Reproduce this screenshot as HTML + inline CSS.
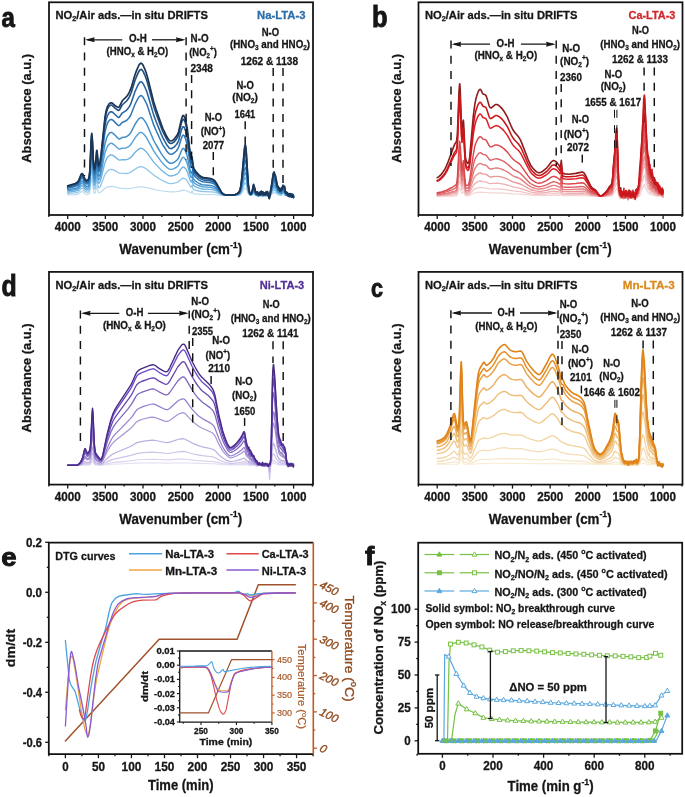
<!DOCTYPE html>
<html><head><meta charset="utf-8"><style>
html,body{margin:0;padding:0;background:#fff;}
svg{display:block;will-change:transform;}
text{font-family:"Liberation Sans", sans-serif;}
</style></head><body>
<svg width="685" height="797" viewBox="0 0 685 797" font-family="'Liberation Sans', sans-serif">
<rect width="685" height="797" fill="#ffffff"/>
<text transform="translate(1.50,26.72) scale(0.8795,1)" font-size="27.34" font-weight="bold" fill="#161616" stroke="#161616" stroke-width="0.9">a</text>
<text transform="translate(372.12,27.10) scale(0.8676,1)" font-size="29.39" font-weight="bold" fill="#161616" stroke="#161616" stroke-width="0.9">b</text>
<text transform="translate(1.50,295.96) scale(0.8690,1)" font-size="28.63" font-weight="bold" fill="#161616" stroke="#161616" stroke-width="0.9">d</text>
<text transform="translate(370.88,296.72) scale(0.8193,1)" font-size="26.37" font-weight="bold" fill="#161616" stroke="#161616" stroke-width="0.9">c</text>
<text transform="translate(1.30,565.96) scale(1.1029,1)" font-size="24.99" font-weight="bold" fill="#161616" stroke="#161616" stroke-width="0.9">e</text>
<text transform="translate(364.88,565.48) scale(1.0576,1)" font-size="26.52" font-weight="bold" fill="#161616" stroke="#161616" stroke-width="0.9">f</text>
<path d="M67.7,194.9 75.6,194.7 77.5,194.5 78.8,193.9 81.1,191.8 82.0,191.4 82.9,191.8 84.8,193.5 85.8,194.1 87.3,194.4 88.8,194.2 89.3,193.5 89.9,191.4 91.2,180.0 91.6,178.1 91.8,178.0 92.2,179.5 93.5,190.6 94.1,192.8 94.6,193.3 95.0,193.1 95.4,192.3 96.7,186.2 96.9,186.3 97.1,186.7 98.2,192.0 98.6,192.7 98.9,192.9 99.7,192.7 100.8,192.0 104.6,188.7 106.1,187.7 108.7,186.7 111.4,186.4 114.0,186.7 119.5,188.2 126.2,188.7 130.6,188.5 138.9,186.9 142.2,186.8 146.8,187.5 153.0,189.2 156.9,190.0 162.6,191.0 167.8,191.7 171.4,191.9 176.3,191.6 178.6,191.3 182.0,190.4 183.7,190.2 185.4,190.5 187.1,191.0 190.8,192.9 191.2,192.8 191.9,191.1 192.1,191.0 193.1,193.3 193.5,193.6 194.4,193.8 201.4,194.3 214.2,194.5 221.5,195.3 225.5,195.5 236.4,195.4 238.4,195.3 239.8,195.0 240.7,194.4 241.5,193.7 244.3,188.9 244.8,188.3 245.4,188.1 246.2,189.0 248.4,194.1 249.2,194.9 250.3,195.3 251.8,195.2 252.9,194.4 253.3,194.5 253.9,194.0 254.6,195.2 254.8,195.2 255.2,194.3 255.6,195.2 255.8,195.2 256.0,194.6 256.5,195.0 256.9,194.5 257.5,196.0 257.6,196.0 258.0,194.8 258.6,196.0 259.3,194.2 260.8,196.2 261.4,195.2 261.8,195.7 262.0,195.4 262.2,195.8 262.4,195.6 262.5,196.4 263.3,194.8 263.7,195.1 263.9,195.7 264.2,194.6 264.4,194.7 264.8,196.2 265.6,194.5 265.9,194.9 266.1,195.8 266.5,196.2 267.1,195.5 267.8,195.2 268.2,195.6 268.9,195.2 269.3,196.0 269.5,197.0 269.7,197.1 270.1,195.9 270.8,194.7 271.0,195.1 271.4,194.5 271.6,194.6 272.5,192.8 272.7,192.9 272.9,192.7 273.1,193.1 273.8,192.1 274.8,193.1 275.3,192.3 275.5,192.7 276.1,192.8 276.3,193.6 276.5,193.7 276.7,194.3 277.0,194.4 277.4,194.3 277.6,193.9 277.8,194.0 278.0,193.9 278.2,195.0 278.4,194.8 278.5,195.2 278.7,194.1 278.9,194.5 279.1,194.4 279.3,195.0 279.7,194.7 280.0,194.9 280.4,194.4 281.0,195.6 281.2,194.9 281.9,195.0 282.1,194.7 282.5,194.5 282.7,194.6 283.2,194.0 283.4,194.2 283.6,193.8 284.2,194.3 284.6,195.2 284.9,195.3 285.1,194.9 285.7,195.5 286.3,194.8 286.6,195.4 287.4,194.5 288.0,196.2 288.1,195.5 288.3,195.9 288.5,195.2 288.7,195.5 288.9,194.9 289.3,194.6 289.5,194.9 289.6,194.9 289.8,195.1 290.0,195.1 290.2,195.6 290.6,195.7 291.2,195.7 291.5,195.2 291.9,195.8 292.1,195.8 292.7,195.7 292.8,195.0 293.4,195.3 293.6,195.2" stroke="#bcdcf0" stroke-width="1.25" fill="none" stroke-linejoin="round" stroke-linecap="round" />
<path d="M67.7,193.4 75.2,192.9 77.3,192.5 78.6,191.7 81.1,188.6 82.0,188.0 82.9,188.6 84.8,191.0 85.8,191.8 86.5,192.0 87.5,192.1 88.2,191.9 88.8,191.6 89.3,190.5 89.9,187.4 91.2,171.4 91.6,168.8 91.8,168.6 92.2,170.6 93.5,185.6 94.1,188.4 94.6,189.1 95.0,188.8 95.4,187.6 96.7,179.1 96.9,179.1 97.1,179.7 98.2,186.7 98.8,187.7 99.3,187.5 100.3,186.3 101.2,184.4 104.2,176.3 105.4,173.8 107.2,171.3 109.3,169.8 111.0,169.3 112.7,169.5 114.6,170.4 118.3,172.8 119.5,173.2 126.6,173.5 128.5,173.1 130.4,172.4 136.6,168.2 139.0,167.0 140.9,166.7 143.2,167.2 146.4,168.9 153.7,175.1 161.3,180.0 164.5,181.6 168.6,183.3 170.3,183.6 172.0,183.6 174.1,183.2 176.5,182.6 178.6,181.6 182.2,178.4 183.1,178.1 184.2,178.3 185.7,179.2 187.2,180.8 189.7,185.5 190.8,187.1 191.2,187.1 191.9,185.2 192.1,185.2 192.9,188.3 193.5,189.3 195.5,190.2 199.1,191.0 202.7,191.5 210.8,191.8 214.0,192.1 216.0,192.7 221.3,194.7 224.3,195.3 233.5,195.4 237.9,195.0 239.6,194.4 240.9,193.1 242.0,190.8 244.3,184.1 244.8,183.2 245.4,182.9 245.8,183.4 246.2,184.4 247.7,190.6 248.4,193.0 249.2,194.3 250.3,195.1 251.1,195.1 251.8,194.8 252.7,193.9 252.9,193.2 253.1,193.5 253.5,193.4 253.7,192.6 254.1,193.0 254.3,193.8 254.6,193.8 254.8,193.3 255.4,193.5 256.0,195.2 256.3,194.9 256.5,194.3 257.1,195.3 257.3,195.0 257.8,195.5 258.4,194.7 258.6,195.5 258.8,195.4 259.0,195.9 259.3,194.4 259.5,194.4 259.9,195.2 260.3,194.5 260.7,195.2 260.8,195.0 261.0,195.0 261.2,194.5 261.4,194.8 261.8,194.5 262.4,196.8 262.7,195.2 262.9,195.6 263.1,195.4 263.3,195.7 264.2,194.7 265.0,195.7 265.2,195.6 265.6,195.8 265.9,195.4 266.1,194.6 266.3,194.5 266.9,195.9 267.1,195.4 267.2,195.5 267.4,195.0 267.6,195.2 267.8,195.0 268.0,195.9 268.6,194.6 268.9,196.2 269.3,195.8 269.5,195.1 270.1,195.3 270.4,193.7 270.6,193.6 271.0,194.1 271.2,193.9 271.4,194.2 273.1,189.6 273.6,190.3 273.8,190.2 274.0,190.7 274.6,189.3 275.0,189.6 275.5,191.1 275.7,191.0 276.1,191.3 276.3,192.1 276.8,191.7 277.4,192.9 277.6,193.1 277.8,192.6 278.0,192.6 278.2,193.6 278.4,193.8 278.7,193.2 279.5,194.3 280.0,193.2 280.6,194.8 281.2,195.3 281.6,194.0 282.7,192.6 283.2,193.3 283.6,192.7 284.0,193.0 284.4,193.8 284.6,193.3 284.8,194.0 284.9,194.0 285.1,194.4 285.5,193.9 285.7,194.4 286.3,195.0 286.4,194.9 286.6,195.4 286.8,195.3 287.4,195.9 287.6,195.9 288.1,194.9 288.7,194.6 288.9,195.3 289.3,195.6 289.8,195.4 290.0,195.5 290.6,194.8 291.0,195.7 291.3,195.0 291.9,195.9 292.1,195.3 292.5,196.9 292.8,195.4 293.0,195.3 293.4,196.1 293.6,195.9" stroke="#92c7ea" stroke-width="1.30625" fill="none" stroke-linejoin="round" stroke-linecap="round" />
<path d="M67.7,192.1 75.2,191.2 77.3,190.7 78.6,189.7 81.1,186.0 82.0,185.4 82.9,186.0 84.8,188.8 85.8,189.7 86.5,190.0 87.5,190.0 88.2,189.7 88.8,189.2 89.3,187.8 89.9,184.2 91.2,165.3 91.6,162.2 91.8,161.9 92.2,164.2 93.5,181.4 94.1,184.6 94.2,185.1 94.6,185.4 95.0,184.9 95.4,183.5 96.7,173.6 96.9,173.6 97.1,174.2 98.2,182.2 98.8,183.3 99.3,182.9 100.3,181.0 101.2,178.0 104.2,165.4 105.4,161.6 107.0,158.0 108.9,155.9 110.6,154.9 111.4,154.9 112.3,155.1 114.0,156.1 118.2,159.5 119.3,160.1 120.0,160.1 121.9,159.7 124.9,159.8 126.6,159.6 128.5,158.9 130.4,157.7 131.9,156.2 134.7,152.7 136.4,151.0 139.0,148.9 140.0,148.4 140.9,148.3 142.1,148.5 143.2,149.1 146.4,151.9 153.7,162.1 161.3,170.1 164.5,172.8 166.9,174.5 168.6,175.5 170.3,176.0 172.0,175.9 174.1,175.4 176.5,174.3 177.6,173.6 178.6,172.7 181.2,168.6 182.2,167.5 183.1,166.9 184.2,167.3 185.7,168.8 187.2,171.5 189.7,179.1 190.8,181.7 191.2,182.0 191.9,180.1 192.1,180.2 192.9,184.1 193.5,185.4 195.5,186.8 199.1,188.2 202.7,189.0 210.8,189.4 214.0,190.0 216.0,190.9 221.3,194.2 224.3,195.1 226.2,195.3 233.4,195.3 237.3,194.8 238.6,194.4 239.6,193.9 240.3,193.0 240.9,192.0 242.0,188.7 244.3,179.4 244.8,178.1 245.4,177.8 245.8,178.4 246.2,179.8 247.7,188.5 248.4,191.9 249.2,193.8 249.7,194.5 250.3,194.9 251.1,194.9 251.8,194.5 252.7,193.1 253.3,191.3 253.5,191.7 253.7,191.4 253.9,191.6 254.1,191.3 254.8,192.7 255.4,192.8 255.8,193.2 256.1,194.5 256.3,194.6 256.5,194.3 257.1,195.7 257.3,195.3 257.5,195.5 257.6,194.8 257.8,195.1 258.2,194.2 258.8,196.1 259.2,195.2 259.3,195.6 259.5,194.8 259.7,195.2 259.9,194.2 260.1,195.3 260.5,195.6 260.8,194.2 261.0,194.8 261.2,194.4 261.6,194.3 262.0,195.5 262.5,194.3 262.7,195.3 262.9,195.1 263.1,195.3 263.3,194.4 263.7,194.7 264.0,194.7 264.2,194.5 264.4,194.9 264.6,194.7 264.8,194.9 265.0,194.6 265.4,195.9 265.9,193.6 266.7,194.5 266.9,194.4 267.1,194.6 267.2,193.9 267.4,194.3 267.6,194.1 267.8,194.7 268.2,194.9 268.8,196.5 269.1,195.3 269.3,195.2 269.7,195.2 270.1,194.2 270.6,193.5 271.0,192.3 271.6,191.5 271.8,190.7 272.0,190.7 272.1,190.2 272.3,190.2 272.5,188.9 273.5,186.5 274.0,188.1 274.2,187.5 274.6,187.4 274.8,186.6 275.0,186.8 275.3,188.4 275.7,188.0 276.3,190.0 276.5,189.5 277.0,192.2 278.2,191.8 278.4,191.9 278.5,191.6 279.1,193.4 279.3,192.4 279.5,192.4 279.9,194.0 280.2,193.0 280.6,192.7 281.2,193.0 281.6,193.5 282.1,192.9 282.3,193.1 282.7,191.7 283.1,193.1 283.6,191.7 284.2,193.1 284.4,193.3 284.6,193.1 284.8,193.3 284.9,193.3 285.5,194.9 285.9,194.1 286.3,194.6 286.8,194.7 287.6,194.4 287.8,193.9 288.0,194.7 288.1,194.2 288.3,194.9 288.9,194.8 289.1,195.2 289.3,195.2 289.6,194.1 290.4,196.2 290.6,195.7 290.8,196.1 291.0,195.5 291.2,195.5 291.3,194.5 291.9,195.5 292.1,195.0 292.5,195.5 293.6,196.3" stroke="#6fb4e2" stroke-width="1.3625" fill="none" stroke-linejoin="round" stroke-linecap="round" />
<path d="M67.7,190.9 75.2,189.8 77.3,189.1 78.1,188.6 78.8,187.7 80.9,184.0 81.8,183.1 82.2,183.1 82.8,183.5 84.8,186.9 86.0,188.0 86.7,188.2 87.5,188.1 88.2,187.8 88.8,187.2 89.3,185.6 89.9,181.4 91.2,160.0 91.6,156.4 91.8,156.1 92.2,158.5 93.5,177.7 94.1,181.3 94.2,181.8 94.6,182.2 95.0,181.7 95.4,180.0 96.7,168.8 96.9,168.8 97.1,169.5 98.0,177.5 98.4,179.2 98.6,179.5 98.9,179.6 99.9,177.8 101.6,171.0 104.2,156.4 105.2,152.2 106.9,147.5 107.8,145.8 108.7,144.6 110.4,143.4 111.2,143.2 112.1,143.4 113.8,144.6 118.2,148.6 119.3,149.2 120.0,149.1 121.9,148.2 125.1,148.0 126.6,147.7 128.5,146.7 130.4,145.0 131.9,143.0 134.7,138.3 136.4,136.0 139.0,133.2 140.0,132.6 140.9,132.4 142.1,132.7 143.2,133.5 146.4,137.3 153.7,150.9 156.2,154.6 161.3,161.6 164.5,165.2 166.9,167.5 168.6,168.8 170.3,169.4 172.0,169.4 174.1,168.7 176.5,167.2 177.6,166.3 178.6,165.1 181.2,159.6 182.2,158.0 183.1,157.3 183.7,157.4 184.2,157.8 185.7,159.9 187.2,163.4 189.7,173.5 190.8,177.1 191.2,177.5 191.9,175.7 192.1,175.8 192.9,180.4 193.5,182.0 195.5,183.9 199.1,185.8 202.7,186.8 210.8,187.4 214.0,188.2 216.0,189.3 221.3,193.8 222.6,194.5 224.3,195.0 226.2,195.3 233.4,195.2 237.1,194.6 238.4,194.2 239.4,193.5 240.1,192.6 240.9,191.0 242.0,186.7 244.3,174.8 244.8,173.1 245.2,172.7 245.4,172.7 245.8,173.5 246.2,175.3 247.7,186.5 248.4,190.8 249.2,193.3 249.7,194.2 250.3,194.7 251.2,194.7 252.0,193.9 252.7,192.4 252.9,190.8 253.1,191.3 253.3,191.3 253.5,192.2 253.9,190.9 254.1,190.8 254.4,192.6 254.6,192.9 254.8,192.5 255.0,192.5 255.4,194.1 255.8,194.9 256.1,195.1 256.3,194.7 256.5,195.1 256.7,195.0 256.9,195.2 257.5,194.1 257.8,194.8 258.2,194.5 258.4,194.0 258.6,194.6 258.8,194.4 259.0,194.8 259.3,193.8 259.7,194.2 259.9,195.1 260.3,195.0 260.5,195.4 260.8,195.2 261.0,194.3 261.4,194.2 261.6,193.9 262.0,194.1 262.5,195.9 262.9,195.3 263.1,194.5 263.3,194.6 263.7,196.0 264.8,195.1 265.4,193.6 265.7,194.2 265.9,195.1 266.5,192.9 266.7,193.0 267.4,194.3 268.0,194.8 268.2,195.5 268.8,196.3 269.1,196.0 269.3,195.3 269.9,194.6 270.3,193.2 270.4,193.3 270.8,194.5 271.4,190.8 272.1,189.0 272.5,189.0 273.3,184.8 273.6,183.9 274.2,185.6 274.6,185.4 275.2,186.9 275.3,186.8 275.9,188.7 276.3,189.0 276.8,190.4 277.0,190.5 277.4,191.1 277.6,192.3 277.8,191.8 278.0,192.5 278.2,191.9 278.4,192.7 278.5,191.9 278.9,191.7 279.1,192.1 279.3,191.8 279.7,192.0 280.2,193.3 280.4,193.3 280.8,192.3 281.4,193.5 281.7,192.6 282.3,193.4 282.5,192.2 282.9,191.6 283.4,191.7 284.0,191.0 284.9,193.9 285.1,193.9 285.3,194.9 285.5,194.6 285.7,195.1 285.9,195.1 286.1,194.9 286.3,195.1 286.4,194.3 286.6,194.6 286.8,194.3 287.0,195.0 287.2,194.4 287.8,194.3 288.0,193.7 288.1,193.6 288.3,193.7 288.5,194.4 288.7,194.2 288.9,194.6 289.1,194.3 289.5,195.1 289.8,193.9 290.2,194.4 290.4,195.4 290.6,195.3 290.8,195.7 291.2,195.7 291.3,195.3 291.7,195.4 292.1,196.3 292.8,195.7 293.6,195.9" stroke="#56a2d8" stroke-width="1.41875" fill="none" stroke-linejoin="round" stroke-linecap="round" />
<path d="M67.7,189.8 75.2,188.4 77.3,187.7 78.6,186.4 80.9,181.9 81.8,180.9 82.2,180.9 82.8,181.3 84.8,185.1 86.0,186.3 86.7,186.5 87.5,186.4 88.2,186.0 88.8,185.3 89.3,183.4 89.9,178.8 91.2,154.8 91.6,150.8 91.8,150.4 92.2,153.1 93.3,172.0 94.1,178.3 94.2,178.8 94.6,179.2 95.2,177.9 96.7,164.3 96.9,164.2 97.1,165.1 98.2,175.0 98.6,176.1 98.9,176.1 99.9,174.0 101.0,169.0 104.2,148.1 105.2,143.0 106.7,137.8 107.4,136.1 108.4,134.5 109.3,133.4 110.2,132.7 111.0,132.5 111.9,132.6 113.6,133.8 118.0,138.3 118.7,138.9 119.3,139.1 120.0,138.8 121.9,137.6 125.3,137.0 126.8,136.5 128.9,134.9 130.8,132.7 134.9,124.5 137.9,119.9 139.6,118.1 140.9,117.6 142.1,117.9 143.2,118.9 144.7,120.9 146.4,123.6 147.7,126.3 153.7,140.5 156.2,145.0 161.3,153.6 164.5,158.1 166.9,160.9 168.6,162.5 170.3,163.3 172.0,163.2 174.1,162.4 176.5,160.5 177.6,159.4 178.6,158.0 181.2,151.2 182.2,149.2 183.1,148.4 183.7,148.5 184.2,148.9 185.7,151.5 187.2,155.9 189.7,168.4 190.8,172.8 191.2,173.4 191.9,171.5 192.1,171.7 192.9,176.9 193.5,178.8 194.4,180.1 195.5,181.2 199.1,183.5 201.0,184.3 202.7,184.8 210.8,185.5 214.0,186.4 216.0,187.9 221.3,193.4 222.6,194.3 224.3,194.9 226.2,195.2 233.4,195.2 235.1,195.0 237.1,194.4 238.4,193.9 239.4,193.1 240.1,191.9 240.9,189.9 242.0,184.8 244.3,170.2 244.8,168.1 245.2,167.6 245.4,167.6 245.8,168.6 246.2,170.8 247.7,184.5 248.4,189.7 249.2,192.7 249.7,193.9 250.3,194.5 251.1,194.6 251.6,194.2 252.7,191.7 252.9,192.1 253.3,190.5 253.7,189.7 253.9,189.6 254.4,191.1 254.8,191.3 255.2,192.6 255.4,192.4 255.8,192.5 256.0,194.2 256.1,194.3 256.3,195.0 256.9,192.9 257.1,192.7 257.5,194.8 257.6,194.7 257.8,193.5 258.0,193.5 258.4,194.5 258.6,194.5 258.8,195.1 259.2,194.9 259.3,194.1 259.5,194.8 259.7,193.7 259.9,194.3 260.1,193.5 260.3,194.6 260.5,194.0 260.8,195.0 261.0,194.4 261.2,194.4 261.4,193.4 261.6,193.6 262.0,193.0 262.2,193.4 262.4,193.2 262.5,193.5 262.7,193.0 263.3,194.4 263.5,194.4 263.9,193.6 264.4,194.6 265.0,194.9 265.4,194.1 265.9,194.9 266.3,193.8 266.7,194.2 266.9,194.2 267.4,193.3 267.6,194.3 268.2,195.0 268.4,194.7 268.6,195.1 268.8,194.9 269.1,196.2 269.5,195.9 269.9,195.1 270.3,193.0 270.4,192.7 270.6,193.3 271.2,191.3 271.8,188.0 272.3,187.2 272.9,183.0 273.8,183.0 274.2,181.4 274.4,181.5 274.8,183.2 275.2,182.5 275.7,185.9 275.9,185.4 276.3,187.0 276.5,187.1 276.7,186.4 277.0,187.4 277.2,188.8 277.4,189.2 277.6,188.7 277.8,189.4 278.0,189.3 278.2,191.3 278.5,191.3 278.7,191.0 279.1,192.3 279.3,192.5 279.9,190.9 280.2,192.2 280.4,192.2 280.8,191.4 281.2,192.3 281.4,192.2 281.7,191.6 281.9,191.6 282.1,191.2 282.5,191.0 282.7,191.1 282.9,191.8 283.4,189.5 283.6,190.9 284.2,191.2 284.6,192.0 284.8,190.8 285.3,193.3 285.5,193.1 285.7,193.2 286.1,193.8 286.3,193.7 286.4,194.1 286.6,193.9 286.8,194.3 287.0,194.1 287.6,194.6 287.8,194.3 288.3,195.6 288.9,194.6 289.1,194.8 289.6,194.9 290.0,195.5 290.4,194.2 290.6,194.1 290.8,194.1 291.0,195.0 291.2,194.8 291.3,195.0 291.7,195.9 291.9,195.9 292.3,195.0 292.5,195.3 292.7,194.5 292.8,195.2 293.0,195.0 293.2,195.9 293.6,196.2" stroke="#3f8dc8" stroke-width="1.475" fill="none" stroke-linejoin="round" stroke-linecap="round" />
<path d="M67.7,188.3 75.2,186.4 77.3,185.5 78.6,184.0 80.9,179.1 81.8,177.9 82.2,177.9 82.8,178.4 84.8,182.6 85.8,183.7 86.5,184.0 87.3,183.9 88.0,183.5 88.6,182.8 89.3,180.4 89.9,175.1 91.2,148.5 91.6,144.0 91.8,143.6 92.4,149.4 93.3,167.1 94.1,173.9 94.2,174.5 94.6,174.9 95.2,173.5 96.7,158.6 96.9,158.5 97.1,159.4 98.2,170.4 98.6,171.6 98.9,171.6 99.9,169.1 101.0,163.0 104.2,137.5 105.2,131.4 106.5,125.9 107.8,122.6 108.7,121.2 109.7,120.1 110.6,119.5 111.6,119.5 113.1,120.4 117.8,125.1 118.5,125.5 119.1,125.6 119.8,125.2 121.4,123.2 122.1,122.5 125.5,121.0 126.8,120.2 128.9,118.0 130.8,115.0 134.9,104.5 137.9,98.6 139.6,96.3 140.4,95.8 141.1,95.6 142.2,96.2 143.4,97.6 146.4,103.3 147.7,106.8 153.7,124.9 156.2,130.8 161.3,141.8 162.8,144.8 164.5,147.5 166.9,151.2 168.6,153.2 169.5,153.9 170.3,154.2 171.0,154.3 172.0,154.2 174.1,153.0 176.5,150.7 177.6,149.2 178.6,147.4 181.2,138.7 182.2,136.2 182.7,135.4 183.1,135.1 183.7,135.2 184.2,135.8 185.7,139.1 187.2,144.7 189.7,160.7 191.0,167.0 191.2,167.3 191.4,167.2 191.9,165.6 192.1,165.9 193.1,173.0 194.0,175.2 195.9,177.5 199.1,180.1 201.0,181.1 202.7,181.8 210.8,182.7 212.5,183.2 214.0,183.9 215.1,184.7 216.0,185.7 221.3,192.8 222.6,193.9 224.3,194.8 226.2,195.1 233.4,195.1 235.1,194.8 237.1,194.1 238.4,193.4 239.4,192.4 240.1,190.9 240.9,188.4 242.0,181.8 244.3,163.3 244.8,160.7 245.2,160.0 245.4,160.0 245.8,161.2 246.2,164.0 247.7,181.4 248.4,188.1 249.2,192.0 249.7,193.5 250.3,194.2 251.1,194.3 251.6,193.8 252.4,192.0 253.1,189.0 253.3,188.6 253.7,189.5 254.3,188.0 255.0,191.3 255.2,193.1 255.6,194.2 256.0,194.1 256.1,193.8 256.3,194.5 256.7,194.8 257.3,192.8 257.5,193.9 257.8,193.9 258.0,193.0 258.4,193.8 258.6,193.9 258.8,193.7 259.2,194.3 259.3,193.3 259.7,192.5 260.1,195.0 260.3,195.0 260.8,191.7 261.4,194.8 261.6,194.6 261.8,194.8 262.4,191.9 262.5,192.0 263.1,194.7 263.3,194.1 263.5,194.3 263.7,193.5 264.4,194.4 264.8,193.0 265.0,193.2 265.2,193.1 265.7,193.9 265.9,193.7 266.3,194.4 266.5,194.4 266.7,193.9 266.9,193.9 267.2,194.6 267.4,193.6 267.6,193.7 267.8,193.1 268.4,195.2 268.6,195.6 268.8,195.4 268.9,195.6 269.3,196.7 270.3,193.7 270.8,190.1 271.0,190.7 271.4,189.2 272.7,181.5 273.3,180.4 273.8,177.5 274.4,180.6 275.0,180.2 275.2,180.7 275.5,182.9 275.7,183.0 275.9,183.8 276.1,185.8 276.5,186.6 276.7,185.4 276.8,186.0 277.0,185.9 277.2,186.6 277.4,186.8 277.6,188.5 278.0,189.9 278.5,187.9 279.1,189.7 279.3,189.5 279.5,189.9 280.0,191.7 280.4,191.3 280.6,190.3 280.8,192.0 281.0,191.9 281.2,192.7 281.4,191.9 281.7,191.6 282.3,189.3 283.1,188.5 283.2,188.4 283.4,188.6 283.6,188.5 284.8,192.0 285.3,190.9 286.1,193.6 286.3,193.5 286.4,193.9 286.6,193.3 287.2,193.9 287.6,193.8 288.0,194.8 288.1,194.3 288.3,194.5 288.5,194.4 288.7,194.9 288.9,194.4 289.3,195.4 289.5,195.4 289.6,195.8 290.0,194.8 290.4,194.4 290.6,195.2 290.8,195.1 291.5,197.2 291.9,196.1 292.5,195.5 292.8,195.8 293.4,197.7 293.6,197.3" stroke="#3278b5" stroke-width="1.53125" fill="none" stroke-linejoin="round" stroke-linecap="round" />
<path d="M67.7,187.2 75.2,185.2 77.3,184.1 78.6,182.5 80.9,177.3 81.8,176.1 82.2,176.1 82.8,176.6 84.8,181.0 85.8,182.1 86.5,182.5 87.3,182.3 88.0,181.8 88.6,181.1 89.3,178.4 89.9,172.8 91.2,144.6 91.6,139.8 91.8,139.3 92.4,145.3 93.3,164.0 94.1,171.2 94.2,171.9 94.6,172.3 95.2,170.7 96.7,155.0 96.9,154.9 97.1,155.9 98.2,167.5 98.6,168.8 98.8,168.9 98.9,168.8 99.9,166.1 101.0,159.4 105.0,125.5 106.1,119.8 107.6,115.4 108.6,113.7 109.5,112.5 110.4,111.9 111.4,111.7 112.1,112.0 112.9,112.5 117.4,116.8 118.3,117.4 118.9,117.5 119.8,116.7 121.4,114.1 122.1,113.2 125.7,110.8 126.8,109.9 128.9,107.3 130.8,103.9 134.9,91.8 137.7,85.5 139.6,82.5 140.4,81.9 141.1,81.7 142.2,82.4 143.4,84.0 146.4,90.5 147.7,94.5 153.7,115.1 156.2,121.8 161.3,134.4 162.8,137.7 164.5,140.9 166.9,145.0 168.6,147.3 169.5,148.1 170.3,148.5 171.0,148.6 172.0,148.4 174.1,147.1 176.5,144.5 177.6,142.8 178.6,140.7 181.2,130.8 182.2,128.0 182.7,127.0 183.1,126.7 183.7,126.8 184.2,127.5 185.7,131.3 187.2,137.6 189.7,155.9 191.0,163.1 191.2,163.4 191.4,163.4 191.9,161.8 192.1,162.2 193.1,169.9 194.0,172.3 195.9,175.0 199.1,177.9 201.0,179.1 202.7,179.8 204.6,180.2 210.8,180.9 212.5,181.5 214.0,182.3 215.1,183.2 216.0,184.4 221.3,192.5 222.6,193.7 224.3,194.7 226.2,195.1 233.5,195.0 235.4,194.6 237.5,193.7 238.6,192.9 239.6,191.6 240.3,189.5 240.9,187.1 242.0,179.0 244.3,156.5 244.8,153.3 245.2,152.5 245.4,152.5 245.8,154.0 246.2,157.4 247.7,178.5 248.4,186.7 249.2,191.3 249.7,193.1 250.3,194.0 250.7,194.2 251.1,194.2 251.6,193.5 252.7,189.8 253.3,188.8 253.5,188.0 253.9,187.7 254.3,188.5 254.4,188.1 255.0,191.7 255.2,191.7 255.4,191.2 256.0,193.7 256.1,193.0 256.3,193.9 256.7,194.5 256.9,192.5 257.1,193.5 257.3,193.0 257.5,194.5 257.6,194.3 258.0,195.1 258.2,195.1 258.4,195.8 258.6,194.5 259.0,193.5 259.3,193.2 259.5,192.4 259.7,192.9 259.9,192.6 260.1,193.6 260.3,193.1 260.5,193.2 260.8,192.6 261.4,193.3 261.8,192.7 262.0,192.6 262.2,193.0 262.4,193.1 262.5,192.9 262.7,192.1 262.9,192.1 263.1,192.4 263.3,192.1 263.9,195.0 264.4,193.1 264.6,193.8 264.8,193.7 265.0,194.2 265.6,192.2 265.9,194.7 266.5,193.9 266.7,194.3 267.2,193.3 267.4,193.8 267.6,192.9 268.6,195.5 268.8,197.6 269.1,198.0 269.9,193.7 270.4,192.4 271.0,188.6 271.8,185.8 272.7,179.1 273.5,175.3 273.8,175.4 274.0,175.8 274.2,175.1 274.4,175.8 274.6,175.2 274.8,175.2 275.7,181.6 275.9,181.1 276.5,184.0 276.8,184.8 277.2,186.3 277.4,186.3 277.8,187.0 278.4,189.6 278.9,189.7 279.1,190.0 279.3,189.5 279.5,190.3 279.7,189.9 279.9,190.6 280.0,190.1 280.2,191.2 280.4,191.0 280.6,191.5 280.8,190.5 281.0,190.7 281.2,190.4 281.4,190.5 281.6,189.5 281.7,190.3 282.1,190.5 282.5,187.2 282.7,187.4 282.9,187.0 283.1,187.7 283.2,187.4 283.4,187.7 283.8,187.5 284.4,187.8 284.9,190.2 285.1,190.2 285.5,191.5 285.7,193.0 285.9,192.9 286.1,193.4 286.3,193.3 286.4,195.2 286.6,194.7 286.8,195.1 287.4,193.8 288.0,195.2 288.5,194.1 289.1,196.0 289.3,195.3 289.5,195.3 289.8,196.9 290.2,197.0 291.0,194.4 291.5,196.9 291.9,196.5 292.7,194.0 292.8,195.0 293.0,195.2 293.4,197.6 293.6,197.6" stroke="#2a64a0" stroke-width="1.5875" fill="none" stroke-linejoin="round" stroke-linecap="round" />
<path d="M67.7,186.4 75.2,184.0 77.3,182.9 78.6,181.2 80.9,175.7 81.8,174.4 82.2,174.4 82.8,175.0 84.8,179.5 85.8,180.8 86.5,181.1 87.3,180.9 88.0,180.4 88.6,179.6 89.3,176.7 89.9,170.8 91.2,141.2 91.6,136.2 91.8,135.7 92.4,141.9 93.3,161.3 94.1,168.8 94.2,169.5 94.6,169.9 95.2,168.3 96.7,151.9 96.9,151.9 97.1,152.9 98.2,165.0 98.6,166.4 98.8,166.5 98.9,166.4 99.9,163.5 101.0,156.3 105.0,119.5 106.1,113.4 107.4,109.2 108.4,107.4 109.3,106.1 110.2,105.3 111.2,105.1 112.5,105.6 115.3,108.3 117.6,110.1 118.7,110.4 119.5,109.9 122.1,105.0 126.6,101.0 128.1,99.1 129.4,96.9 131.3,92.5 134.7,81.2 136.6,76.3 139.0,71.1 140.0,69.9 140.9,69.4 141.5,69.6 142.1,70.0 143.2,71.6 144.7,74.8 146.4,79.2 147.7,83.6 153.7,106.4 156.2,113.8 161.3,127.7 162.8,131.5 164.5,134.9 166.9,139.6 168.6,142.1 169.5,143.0 170.3,143.4 171.0,143.5 172.0,143.3 174.1,141.9 176.5,138.9 177.6,137.1 178.6,134.8 181.2,123.8 182.2,120.6 182.7,119.6 183.1,119.3 183.7,119.4 184.2,120.1 185.0,121.9 185.7,124.4 187.2,131.4 189.7,151.6 191.0,159.6 191.2,160.0 191.4,160.0 191.9,158.6 192.1,159.0 193.1,167.1 194.0,169.8 195.9,172.8 199.1,176.0 201.0,177.4 202.7,178.1 204.6,178.6 210.8,179.3 212.5,179.9 214.0,180.9 215.1,181.9 216.0,183.2 221.3,192.1 222.6,193.5 224.3,194.6 226.2,195.0 233.5,195.0 235.4,194.5 237.5,193.5 238.6,192.6 239.6,191.1 240.3,188.8 240.9,186.1 242.0,177.1 244.3,152.0 244.8,148.4 245.2,147.5 245.4,147.5 245.8,149.2 246.2,152.9 247.7,176.6 248.4,185.6 249.2,190.8 249.7,192.8 250.3,193.8 250.7,194.1 251.1,194.0 251.8,192.8 252.7,189.1 252.9,189.5 253.5,185.9 253.7,185.6 254.3,188.4 254.4,188.4 254.6,189.0 255.2,191.7 255.4,191.7 255.6,192.9 256.0,193.8 256.3,192.2 256.9,194.5 257.1,193.8 257.3,193.6 257.6,194.0 257.8,193.6 258.4,195.6 259.0,193.1 259.2,192.9 259.3,193.6 259.7,194.0 259.9,193.6 260.1,193.7 260.5,193.4 260.8,194.6 261.4,193.2 261.8,194.3 262.0,194.3 262.2,193.8 262.5,193.8 262.7,193.2 263.3,193.9 263.7,192.9 264.2,194.5 264.6,194.1 264.8,194.5 265.2,194.8 265.4,193.1 265.7,192.2 265.9,192.2 266.3,193.4 266.5,194.8 266.7,193.3 266.9,193.4 267.1,192.6 267.2,193.0 267.4,192.8 267.6,193.1 268.4,194.7 268.9,197.6 269.1,196.7 269.3,197.7 269.5,196.1 269.7,196.5 270.3,192.3 270.6,190.9 271.2,186.6 272.0,183.8 272.7,177.6 272.9,177.5 273.3,176.1 273.6,172.9 274.0,172.1 274.6,175.0 275.2,175.1 275.3,175.8 275.7,178.8 276.3,180.3 276.7,184.0 277.4,186.1 278.0,189.3 278.2,189.2 278.4,188.3 278.5,188.2 278.9,190.0 279.5,188.2 280.0,189.8 280.4,189.5 280.8,190.9 281.4,189.7 281.7,187.8 282.1,188.8 282.3,188.3 282.9,185.1 283.1,185.3 283.2,187.0 283.4,187.0 283.8,186.0 284.2,186.3 285.5,192.7 285.9,192.0 286.1,192.2 286.4,193.4 286.6,193.3 287.0,193.9 287.2,195.1 287.4,194.9 287.6,195.5 287.8,194.8 288.0,195.5 288.5,194.1 288.9,195.7 289.1,195.8 289.3,195.1 289.6,194.7 289.8,194.7 290.0,195.3 290.2,195.3 290.6,193.8 291.2,195.9 291.5,195.2 291.9,195.8 292.1,195.2 292.3,195.3 292.7,196.7 293.2,194.8 293.6,196.0" stroke="#21507c" stroke-width="1.64375" fill="none" stroke-linejoin="round" stroke-linecap="round" />
<path d="M67.7,185.9 75.2,183.5 77.3,182.3 78.6,180.5 80.9,174.9 81.4,173.9 81.8,173.5 82.2,173.5 82.8,174.1 84.8,178.8 85.8,180.1 86.5,180.4 87.3,180.2 88.0,179.6 88.6,178.8 89.3,175.8 89.9,169.8 91.2,139.2 91.6,134.0 91.8,133.4 92.4,139.9 93.3,159.9 94.1,167.6 94.2,168.3 94.6,168.8 95.2,167.1 96.7,150.3 96.9,150.3 97.1,151.3 98.2,163.9 98.6,165.3 98.8,165.5 99.1,165.0 100.1,161.4 101.0,155.0 105.0,117.1 106.1,110.9 107.2,107.2 108.0,105.6 109.1,103.9 110.1,103.1 111.0,102.7 112.3,103.1 115.1,105.7 117.4,107.1 118.5,107.4 119.3,106.9 122.1,101.1 123.0,100.0 126.8,96.3 128.1,94.4 129.4,92.1 131.3,87.4 134.5,76.2 136.4,70.9 139.0,65.0 140.0,63.7 140.9,63.2 141.5,63.3 142.1,63.8 143.2,65.5 144.7,68.8 146.4,73.4 147.7,78.0 153.7,102.0 156.2,109.8 161.3,124.4 162.8,128.3 164.5,132.0 166.9,136.8 168.6,139.5 169.5,140.4 170.3,140.8 171.0,141.0 172.0,140.7 172.9,140.2 174.1,139.2 176.5,136.1 177.6,134.2 178.6,131.8 181.2,120.2 182.2,117.0 182.7,115.8 183.1,115.5 183.7,115.6 184.2,116.4 185.0,118.2 185.7,120.8 187.2,128.2 189.7,149.5 191.0,157.8 191.2,158.3 191.4,158.3 191.9,156.8 192.1,157.3 193.1,165.7 194.0,168.6 195.9,171.7 199.1,175.1 201.0,176.5 202.7,177.3 204.6,177.7 210.8,178.5 212.5,179.2 214.0,180.1 215.1,181.2 216.0,182.5 221.3,192.0 222.6,193.4 224.3,194.5 226.2,195.0 233.5,195.0 235.4,194.5 237.5,193.5 238.6,192.5 239.6,190.9 240.3,188.5 240.9,185.6 242.0,176.2 244.3,149.7 244.8,145.9 245.2,144.9 245.4,145.0 245.8,146.7 246.2,150.7 247.7,175.6 248.4,185.1 249.2,190.6 249.7,192.7 250.3,193.7 250.7,194.0 251.1,193.9 251.8,192.7 252.7,188.8 253.1,185.6 253.5,184.4 253.7,184.5 254.3,186.9 254.6,187.3 255.4,191.5 255.6,191.4 255.8,192.4 256.0,192.1 256.1,192.2 256.3,193.0 256.7,193.1 256.9,192.1 257.1,192.9 257.3,192.3 257.5,192.6 257.6,191.8 257.8,192.8 258.4,194.2 258.6,193.9 258.8,194.1 259.0,193.4 259.3,193.7 259.7,195.1 259.9,195.0 260.3,192.2 260.5,191.8 260.7,192.2 260.8,193.8 261.4,191.2 261.6,193.1 262.0,194.4 262.4,192.5 262.7,192.0 262.9,194.8 263.3,194.4 263.5,193.1 263.9,194.3 264.2,193.3 264.4,193.7 264.8,193.0 265.4,194.9 265.9,192.3 266.1,192.2 266.3,193.5 266.5,192.5 266.7,192.9 266.9,191.6 267.1,193.1 267.2,192.2 267.4,193.3 267.6,191.7 268.6,197.1 268.9,198.1 269.1,197.7 269.3,198.7 270.1,194.9 270.6,190.5 271.2,188.1 273.1,174.4 273.3,173.6 273.6,172.9 273.8,173.1 274.0,172.3 274.2,172.2 274.8,174.9 275.0,174.5 275.3,175.8 275.5,175.9 275.7,177.3 275.9,177.6 276.1,179.9 276.3,179.9 276.5,181.2 276.8,182.1 277.4,186.4 277.6,186.5 277.8,186.0 278.0,186.4 278.2,186.4 278.7,188.1 278.9,188.1 279.1,187.7 279.9,191.1 280.6,188.9 280.8,189.8 281.0,188.4 281.6,190.1 281.7,189.9 282.1,188.9 282.7,186.0 283.2,187.1 283.4,187.0 283.6,187.5 283.8,187.1 284.0,187.7 284.2,186.6 284.4,187.4 284.6,186.4 284.8,187.9 284.9,187.8 285.1,191.0 285.5,193.1 285.7,192.0 285.9,193.0 286.4,192.0 286.8,193.0 287.0,193.1 287.2,192.6 287.6,193.9 287.8,193.3 288.3,196.4 288.5,196.1 288.7,194.3 288.9,194.4 289.1,193.6 289.3,194.7 289.5,194.0 290.0,193.6 290.4,195.6 290.6,195.4 290.8,195.9 291.0,195.3 291.2,195.5 291.3,194.1 291.5,194.2 291.9,196.8 292.7,195.6 293.0,196.1 293.4,197.3 293.6,196.9" stroke="#1a3555" stroke-width="1.7" fill="none" stroke-linejoin="round" stroke-linecap="round" />
<rect x="49.00" y="2.30" width="264.00" height="212.70" fill="none" stroke="#111" stroke-width="1.75"/>
<line x1="48.88" y1="215.00" x2="48.88" y2="217.00" stroke="#161616" stroke-width="1.3" />
<line x1="67.70" y1="215.00" x2="67.70" y2="219.00" stroke="#161616" stroke-width="1.3" />
<text transform="translate(67.70,231.40) translate(-13.00,0) scale(0.9821,1)" font-weight="bold" font-style="normal" fill="#161616"  stroke="#161616" stroke-width="0.28"><tspan dy="-0.00" font-size="11.90">4000</tspan></text>
<line x1="86.53" y1="215.00" x2="86.53" y2="217.00" stroke="#161616" stroke-width="1.3" />
<line x1="105.35" y1="215.00" x2="105.35" y2="219.00" stroke="#161616" stroke-width="1.3" />
<text transform="translate(105.35,231.40) translate(-13.00,0) scale(0.9821,1)" font-weight="bold" font-style="normal" fill="#161616"  stroke="#161616" stroke-width="0.28"><tspan dy="-0.00" font-size="11.90">3500</tspan></text>
<line x1="124.18" y1="215.00" x2="124.18" y2="217.00" stroke="#161616" stroke-width="1.3" />
<line x1="143.00" y1="215.00" x2="143.00" y2="219.00" stroke="#161616" stroke-width="1.3" />
<text transform="translate(143.00,231.40) translate(-13.00,0) scale(0.9821,1)" font-weight="bold" font-style="normal" fill="#161616"  stroke="#161616" stroke-width="0.28"><tspan dy="-0.00" font-size="11.90">3000</tspan></text>
<line x1="161.83" y1="215.00" x2="161.83" y2="217.00" stroke="#161616" stroke-width="1.3" />
<line x1="180.65" y1="215.00" x2="180.65" y2="219.00" stroke="#161616" stroke-width="1.3" />
<text transform="translate(180.65,231.40) translate(-13.00,0) scale(0.9821,1)" font-weight="bold" font-style="normal" fill="#161616"  stroke="#161616" stroke-width="0.28"><tspan dy="-0.00" font-size="11.90">2500</tspan></text>
<line x1="199.48" y1="215.00" x2="199.48" y2="217.00" stroke="#161616" stroke-width="1.3" />
<line x1="218.30" y1="215.00" x2="218.30" y2="219.00" stroke="#161616" stroke-width="1.3" />
<text transform="translate(218.30,231.40) translate(-13.00,0) scale(0.9821,1)" font-weight="bold" font-style="normal" fill="#161616"  stroke="#161616" stroke-width="0.28"><tspan dy="-0.00" font-size="11.90">2000</tspan></text>
<line x1="237.12" y1="215.00" x2="237.12" y2="217.00" stroke="#161616" stroke-width="1.3" />
<line x1="255.95" y1="215.00" x2="255.95" y2="219.00" stroke="#161616" stroke-width="1.3" />
<text transform="translate(255.95,231.40) translate(-13.00,0) scale(0.9821,1)" font-weight="bold" font-style="normal" fill="#161616"  stroke="#161616" stroke-width="0.28"><tspan dy="-0.00" font-size="11.90">1500</tspan></text>
<line x1="274.78" y1="215.00" x2="274.78" y2="217.00" stroke="#161616" stroke-width="1.3" />
<line x1="293.60" y1="215.00" x2="293.60" y2="219.00" stroke="#161616" stroke-width="1.3" />
<text transform="translate(293.60,231.40) translate(-13.00,0) scale(0.9821,1)" font-weight="bold" font-style="normal" fill="#161616"  stroke="#161616" stroke-width="0.28"><tspan dy="-0.00" font-size="11.90">1000</tspan></text>
<line x1="312.43" y1="215.00" x2="312.43" y2="217.00" stroke="#161616" stroke-width="1.3" />
<text transform="translate(180.80,254.00) translate(-61.50,0) scale(0.9669,1)" font-weight="bold" font-style="normal" fill="#161616"  stroke="#161616" stroke-width="0.28"><tspan dy="-0.00" font-size="13.80">Wavenumber (cm</tspan><tspan dy="-6.21" font-size="9.11">-1</tspan><tspan dy="6.21" font-size="13.80">)</tspan></text>
<text transform="translate(31.10,108.30) rotate(-90) translate(-54.50,0) scale(0.9703,1)" font-weight="bold" font-style="normal" fill="#161616"  stroke="#161616" stroke-width="0.28"><tspan dy="-0.00" font-size="13.30">Absorbance (a.u.)</tspan></text>
<text transform="translate(55.40,19.20) translate(0.00,0) scale(1.0259,1)" font-weight="bold" font-style="normal" fill="#161616"  stroke="#161616" stroke-width="0.28"><tspan dy="-0.00" font-size="10.90">NO</tspan><tspan dy="2.18" font-size="7.19">2</tspan><tspan dy="-2.18" font-size="10.90">/Air ads.—in situ DRIFTS</tspan></text>
<text transform="translate(257.00,18.90) translate(0.00,0) scale(1.0357,1)" font-weight="bold" font-style="normal" fill="#2f6fa8"  stroke="#2f6fa8" stroke-width="0.28"><tspan dy="-0.00" font-size="10.90">Na-LTA-3</tspan></text>
<line x1="84.50" y1="37.20" x2="84.50" y2="176.00" stroke="#111" stroke-width="1.45" stroke-dasharray="8,7.3" stroke-dashoffset="0"/>
<line x1="186.10" y1="37.20" x2="186.10" y2="160.00" stroke="#111" stroke-width="1.45" stroke-dasharray="8,7.3" stroke-dashoffset="0"/>
<line x1="191.60" y1="75.00" x2="191.60" y2="168.00" stroke="#111" stroke-width="1.45" stroke-dasharray="8,7.3" stroke-dashoffset="0"/>
<line x1="87.50" y1="39.80" x2="122.30" y2="39.80" stroke="#161616" stroke-width="1.3" />
<path d="M85.10,39.80 L94.70,37.30 L93.90,39.80 L94.70,42.30 Z" fill="#161616"/>
<line x1="152.00" y1="39.80" x2="183.10" y2="39.80" stroke="#161616" stroke-width="1.3" />
<path d="M185.50,39.80 L175.90,37.30 L176.70,39.80 L175.90,42.30 Z" fill="#161616"/>
<text transform="translate(129.00,42.00) translate(0.00,0) scale(0.9481,1)" font-weight="bold" font-style="normal" fill="#161616"  stroke="#161616" stroke-width="0.28"><tspan dy="-0.00" font-size="10.30">O-H</tspan></text>
<text transform="translate(106.60,54.90) translate(0.00,0) scale(0.9359,1)" font-weight="bold" font-style="normal" fill="#161616"  stroke="#161616" stroke-width="0.28"><tspan dy="-0.00" font-size="10.30">(HNO</tspan><tspan dy="2.06" font-size="6.80">x</tspan><tspan dy="-2.06" font-size="10.30"> &amp; H</tspan><tspan dy="2.06" font-size="6.80">2</tspan><tspan dy="-2.06" font-size="10.30">O)</tspan></text>
<text transform="translate(190.60,42.10) translate(0.00,0) scale(0.9534,1)" font-weight="bold" font-style="normal" fill="#161616"  stroke="#161616" stroke-width="0.28"><tspan dy="-0.00" font-size="10.30">N-O</tspan></text>
<text transform="translate(189.20,55.80) translate(0.00,0) scale(0.9181,1)" font-weight="bold" font-style="normal" fill="#161616"  stroke="#161616" stroke-width="0.28"><tspan dy="-0.00" font-size="10.30">(NO</tspan><tspan dy="2.06" font-size="6.80">2</tspan><tspan dy="-6.70" font-size="6.80">+</tspan><tspan dy="4.64" font-size="10.30">)</tspan></text>
<text transform="translate(190.40,71.50) translate(0.00,0) scale(0.9819,1)" font-weight="bold" font-style="normal" fill="#161616"  stroke="#161616" stroke-width="0.28"><tspan dy="-0.00" font-size="10.30">2348</tspan></text>
<text transform="translate(261.70,36.00) translate(0.00,0) scale(0.9216,1)" font-weight="bold" font-style="normal" fill="#161616"  stroke="#161616" stroke-width="0.28"><tspan dy="-0.00" font-size="10.30">N-O</tspan></text>
<text transform="translate(230.00,48.40) translate(0.00,0) scale(0.9521,1)" font-weight="bold" font-style="normal" fill="#161616"  stroke="#161616" stroke-width="0.28"><tspan dy="-0.00" font-size="10.30">(HNO</tspan><tspan dy="2.06" font-size="6.80">3</tspan><tspan dy="-2.06" font-size="10.30"> and HNO</tspan><tspan dy="2.06" font-size="6.80">2</tspan><tspan dy="-2.06" font-size="10.30">)</tspan></text>
<text transform="translate(240.70,64.60) translate(0.00,0) scale(0.9825,1)" font-weight="bold" font-style="normal" fill="#161616"  stroke="#161616" stroke-width="0.28"><tspan dy="-0.00" font-size="10.30">1262 &amp; 1138</tspan></text>
<line x1="273.20" y1="68.00" x2="273.20" y2="170.00" stroke="#111" stroke-width="1.45" stroke-dasharray="8,7.3" stroke-dashoffset="0"/>
<line x1="283.00" y1="68.00" x2="283.00" y2="186.00" stroke="#111" stroke-width="1.45" stroke-dasharray="8,7.3" stroke-dashoffset="0"/>
<text transform="translate(236.40,88.60) translate(0.00,0) scale(0.9216,1)" font-weight="bold" font-style="normal" fill="#161616"  stroke="#161616" stroke-width="0.28"><tspan dy="-0.00" font-size="10.30">N-O</tspan></text>
<text transform="translate(232.30,101.10) translate(0.00,0) scale(0.9812,1)" font-weight="bold" font-style="normal" fill="#161616"  stroke="#161616" stroke-width="0.28"><tspan dy="-0.00" font-size="10.30">(NO</tspan><tspan dy="2.06" font-size="6.80">2</tspan><tspan dy="-2.06" font-size="10.30">)</tspan></text>
<text transform="translate(234.40,117.80) translate(0.00,0) scale(0.9165,1)" font-weight="bold" font-style="normal" fill="#161616"  stroke="#161616" stroke-width="0.28"><tspan dy="-0.00" font-size="10.30">1641</tspan></text>
<line x1="245.20" y1="121.30" x2="245.20" y2="146.00" stroke="#111" stroke-width="1.45" stroke-dasharray="8,7.3" stroke-dashoffset="0"/>
<text transform="translate(204.70,121.00) translate(0.00,0) scale(0.9163,1)" font-weight="bold" font-style="normal" fill="#161616"  stroke="#161616" stroke-width="0.28"><tspan dy="-0.00" font-size="10.30">N-O</tspan></text>
<text transform="translate(200.70,135.40) translate(0.00,0) scale(0.9475,1)" font-weight="bold" font-style="normal" fill="#161616"  stroke="#161616" stroke-width="0.28"><tspan dy="-0.00" font-size="10.30">(NO</tspan><tspan dy="-4.64" font-size="6.80">+</tspan><tspan dy="4.64" font-size="10.30">)</tspan></text>
<text transform="translate(202.70,148.50) translate(0.00,0) scale(0.9383,1)" font-weight="bold" font-style="normal" fill="#161616"  stroke="#161616" stroke-width="0.28"><tspan dy="-0.00" font-size="10.30">2077</tspan></text>
<line x1="213.30" y1="152.00" x2="213.30" y2="175.50" stroke="#111" stroke-width="1.45" stroke-dasharray="8,7.3" stroke-dashoffset="0"/>
<path d="M437.2,177.6 438.9,176.7 440.8,174.9 443.2,171.7 445.3,168.4 447.4,163.7 454.0,145.9 454.7,144.3 456.0,142.4 456.6,140.6 457.2,136.2 457.5,130.7 459.0,91.2 459.6,83.7 459.8,84.0 460.2,89.1 461.3,121.8 461.9,131.0 462.0,131.5 462.2,130.7 463.0,121.8 463.2,120.4 463.4,120.1 463.7,123.8 464.9,149.6 465.4,157.1 466.2,160.8 467.1,162.6 467.9,163.4 468.4,163.1 468.8,162.3 469.6,157.9 473.3,116.1 474.9,103.8 476.0,98.5 477.5,93.5 478.8,90.5 479.6,89.6 480.1,89.4 480.5,89.5 481.1,90.2 482.4,93.1 482.9,93.9 483.5,94.3 485.2,94.8 486.0,95.6 486.9,98.0 489.0,105.4 489.5,106.8 490.1,107.6 490.7,107.9 491.2,107.9 495.0,104.8 495.9,104.5 496.9,104.5 498.4,105.2 500.1,106.6 502.3,108.9 503.8,110.9 507.4,117.2 511.4,126.7 512.9,129.8 514.6,132.3 518.5,136.8 520.4,139.9 521.9,143.4 528.3,160.0 530.4,164.7 532.3,167.5 535.5,171.0 537.2,172.2 538.7,172.7 540.2,172.6 541.9,171.8 546.6,168.1 547.9,166.6 551.3,162.0 552.4,161.0 553.4,160.6 554.7,160.8 556.4,162.0 558.4,164.4 560.1,167.3 560.5,166.4 561.3,160.4 562.2,170.9 562.6,172.6 563.0,173.1 563.7,173.6 565.0,173.9 569.2,174.2 575.8,173.4 581.6,172.1 582.5,172.1 583.3,172.4 584.2,173.2 585.4,175.1 587.6,179.5 590.1,184.9 591.2,186.8 592.3,188.0 595.0,189.7 595.9,190.5 598.9,194.8 600.0,195.8 601.0,195.9 602.1,195.4 603.6,194.2 605.5,192.4 607.0,190.6 609.4,186.8 611.1,184.7 611.9,183.1 612.6,178.1 613.8,163.3 614.9,154.5 616.0,140.1 616.4,137.7 616.6,137.6 617.2,144.5 618.5,179.4 618.9,185.3 619.6,192.6 619.8,188.7 620.0,191.0 620.7,187.8 621.5,195.4 621.9,194.9 622.2,192.3 622.4,192.2 622.8,195.4 623.0,195.2 623.2,195.9 623.8,193.1 624.1,196.5 624.5,194.0 625.1,196.7 625.5,194.8 625.6,194.7 625.8,190.9 626.2,192.7 626.6,197.4 626.8,195.6 627.0,196.7 627.5,193.5 628.1,198.6 629.0,190.0 629.6,192.4 630.0,191.6 630.5,193.7 630.9,192.2 631.5,197.6 631.7,195.8 631.9,196.2 632.2,193.7 632.4,190.7 632.6,191.5 632.8,191.1 633.0,193.0 633.2,192.8 633.4,197.3 633.5,195.6 633.7,195.5 633.9,192.9 634.3,194.1 634.7,196.7 634.9,193.5 635.1,192.4 635.2,193.0 635.4,192.7 635.8,189.9 636.6,196.3 637.5,188.3 637.7,189.8 637.9,189.1 638.1,189.4 638.4,185.5 638.8,188.1 639.0,187.7 639.4,177.9 639.6,177.9 639.8,177.3 639.9,178.1 640.9,157.8 641.1,158.0 641.3,157.6 641.8,143.6 642.2,145.0 643.5,119.5 643.7,117.1 644.1,116.5 644.3,113.7 644.5,113.4 645.0,122.2 645.2,122.5 645.6,126.7 646.0,135.8 646.7,145.4 647.3,157.7 647.9,162.3 648.0,159.6 648.4,160.8 648.6,167.4 648.8,167.6 649.0,167.2 649.2,162.9 649.9,172.8 650.1,170.7 650.5,170.9 650.9,177.1 651.1,177.7 651.2,176.7 651.4,177.3 651.6,179.5 652.0,181.1 652.4,176.2 652.6,176.9 652.9,183.3 653.3,180.0 653.5,180.5 653.9,184.5 654.4,177.9 655.6,188.2 655.8,188.4 655.9,187.1 656.1,187.3 656.3,185.9 656.5,186.4 656.7,184.7 656.9,186.4 657.1,186.3 657.3,186.5 657.5,185.3 658.0,188.4 658.4,186.7 659.0,192.5 659.1,191.4 659.3,191.7 659.5,189.3 659.7,189.4 659.9,187.6 660.3,190.1 660.5,190.3 660.7,189.0 661.0,191.8 661.2,192.1 661.4,192.0 661.6,192.8 662.2,188.0 663.1,194.6" stroke="#8e1c1c" stroke-width="1.6" fill="none" stroke-linejoin="round" stroke-linecap="round" />
<path d="M437.2,196.3 451.5,196.1 456.2,195.8 457.0,195.3 457.5,194.4 459.0,189.5 459.4,188.6 459.8,188.4 460.4,189.4 461.7,193.2 461.9,193.4 462.2,193.2 463.2,191.7 463.6,191.7 465.1,195.1 465.6,195.6 466.4,195.8 468.3,195.8 469.4,195.5 473.3,193.5 475.0,192.9 477.9,192.4 480.3,192.2 486.0,192.5 490.1,192.9 496.9,192.8 503.8,193.1 512.9,193.8 520.4,194.2 530.4,195.2 535.5,195.5 541.9,195.5 553.4,195.1 559.9,195.3 560.5,195.1 561.3,194.3 562.2,195.4 563.0,195.6 583.3,195.5 591.2,196.1 600.4,196.5 606.8,196.3 611.9,195.9 612.6,195.2 613.8,193.1 614.9,191.8 616.0,189.5 616.6,189.0 617.2,189.9 618.3,194.2 618.9,195.5 619.4,196.0 619.6,196.6 619.8,196.5 620.0,195.2 620.2,195.5 620.6,198.0 620.9,197.6 621.5,195.5 621.7,195.5 622.1,197.2 622.6,195.8 623.0,197.2 623.2,196.9 623.4,197.6 623.6,196.0 623.8,195.9 624.3,197.5 624.7,196.6 625.1,196.4 625.5,196.8 625.6,196.3 625.8,196.4 626.0,195.8 626.2,196.5 626.4,196.2 626.6,196.7 627.3,195.6 627.7,197.0 627.9,197.1 628.3,196.1 628.5,196.1 629.0,198.5 629.6,195.1 630.0,197.1 630.3,197.2 630.5,196.5 631.1,195.7 631.3,196.8 631.5,196.2 631.7,196.2 632.0,194.9 632.2,195.2 632.4,195.0 632.8,198.6 633.0,198.8 633.4,195.9 633.9,196.4 634.3,197.7 634.9,194.7 635.2,194.9 635.4,196.5 636.0,194.6 636.4,196.3 636.7,196.3 636.9,197.0 637.1,197.0 637.3,196.9 637.5,195.6 637.7,195.8 637.9,195.4 638.1,195.7 638.4,194.6 638.8,194.5 639.0,194.3 639.2,193.6 639.4,194.6 639.6,194.8 639.8,196.5 639.9,194.9 640.1,195.2 640.3,193.6 640.5,194.2 640.7,193.5 640.9,193.5 641.3,191.4 641.5,191.3 642.0,187.1 642.4,187.6 642.6,188.3 643.0,188.2 643.5,185.5 643.7,185.7 643.9,185.5 644.1,184.5 644.3,184.4 644.7,185.9 644.8,186.0 645.0,184.9 645.2,185.5 645.4,185.5 646.0,189.3 646.3,189.4 646.5,188.6 646.7,190.0 646.9,190.1 647.1,190.9 647.5,190.0 647.9,192.7 648.0,192.9 648.2,191.6 648.4,191.5 649.0,192.9 649.2,192.5 649.4,192.8 649.7,194.7 649.9,194.8 650.1,193.7 650.3,193.3 650.7,193.1 650.9,192.6 651.2,193.1 651.4,194.2 651.6,193.9 652.2,195.1 652.4,194.8 652.6,194.9 652.7,194.5 652.9,194.9 653.1,194.2 653.3,194.5 653.5,193.9 653.7,195.0 654.1,195.3 654.4,193.1 655.0,195.9 655.2,195.1 655.4,195.3 655.6,194.2 656.1,196.3 656.3,196.5 656.9,194.1 657.5,194.5 657.6,195.3 657.8,194.9 658.0,196.3 658.2,196.0 658.4,196.4 658.6,196.2 659.0,196.7 659.1,195.2 659.3,195.4 659.5,194.2 659.7,194.8 659.9,193.0 660.1,193.7 660.3,193.7 660.5,194.9 660.7,194.6 660.8,194.9 661.0,194.6 661.4,195.6 661.6,194.8 661.8,194.9 662.0,194.4 662.2,194.8 662.3,194.6 662.7,196.5 662.9,196.4 663.1,195.7" stroke="#f5d6d6" stroke-width="1.2" fill="none" stroke-linejoin="round" stroke-linecap="round" />
<path d="M437.2,195.9 447.2,195.5 455.3,194.8 456.4,194.5 457.0,193.7 457.5,192.1 459.0,183.0 459.4,181.5 459.8,181.1 460.4,182.9 461.7,189.9 461.9,190.2 462.2,190.0 463.2,187.2 463.4,187.0 463.6,187.2 465.1,193.4 465.6,194.5 466.4,194.8 468.3,194.8 469.4,194.2 473.3,190.1 475.0,188.8 477.9,187.9 480.3,187.5 482.9,187.9 486.0,188.0 490.1,189.0 496.9,188.8 503.8,189.3 512.9,190.9 520.4,191.7 530.4,193.8 535.5,194.4 541.9,194.4 553.4,193.5 556.4,193.6 559.9,194.0 560.5,193.7 561.3,192.1 562.2,194.2 563.0,194.5 583.3,194.5 591.2,195.7 600.4,196.4 606.6,196.0 611.1,195.5 611.9,195.2 612.6,194.0 613.8,190.1 614.9,187.7 616.0,183.5 616.6,182.6 616.8,182.8 617.2,184.3 618.5,193.1 619.0,195.1 619.6,195.7 619.8,196.5 620.4,195.3 620.6,195.3 620.7,193.6 621.3,195.3 621.5,194.7 622.1,197.2 622.2,196.6 622.6,197.9 622.8,198.0 623.2,195.1 623.4,194.8 623.8,197.4 624.3,194.2 624.7,195.9 625.1,196.5 625.6,196.0 625.8,194.3 626.2,193.9 626.4,195.9 627.0,198.2 628.3,195.4 628.5,195.8 628.7,195.8 628.8,197.4 629.2,196.0 629.4,195.9 629.8,196.8 630.0,195.6 630.2,196.8 630.3,195.8 630.5,195.9 630.7,194.6 631.1,196.6 631.3,195.9 631.5,196.2 631.7,195.2 631.9,196.4 632.0,196.0 632.2,196.6 632.8,193.9 633.4,199.2 633.9,193.8 634.5,197.3 634.7,196.4 635.1,195.8 635.2,196.6 635.4,195.4 635.6,196.6 636.4,194.1 636.9,198.1 637.5,191.9 637.9,191.9 638.6,195.8 639.0,193.3 639.2,193.1 639.6,193.2 639.8,193.0 640.1,190.1 640.5,188.5 640.7,188.7 640.9,187.3 641.1,188.5 642.0,182.1 642.2,179.6 642.4,179.4 642.8,181.3 643.3,177.6 643.9,176.0 644.3,176.0 644.7,174.7 646.3,184.2 646.5,184.3 646.7,184.0 646.9,184.4 647.5,187.6 647.7,188.1 648.0,187.2 648.6,189.2 649.0,188.7 649.4,189.2 649.9,188.5 650.3,191.0 650.7,192.2 650.9,192.3 651.2,190.7 651.6,190.1 651.8,192.2 652.0,192.3 652.2,192.9 652.4,192.8 652.7,191.1 653.1,191.9 653.3,193.8 653.5,193.2 653.7,194.2 653.9,192.5 654.1,193.8 654.3,191.8 654.4,192.2 654.6,191.1 654.8,193.6 655.2,195.4 655.4,194.1 655.6,194.0 655.8,194.4 655.9,194.1 656.3,192.5 656.7,195.7 657.1,193.8 657.5,192.9 657.6,194.6 657.8,194.6 658.0,195.2 658.2,192.9 658.6,193.7 659.0,196.1 659.1,196.1 659.3,195.7 659.5,196.4 660.1,194.8 660.5,195.5 660.7,194.4 660.8,195.3 661.2,195.8 661.4,194.5 661.6,194.3 662.2,195.2 662.3,194.7 662.5,196.5 662.9,197.4 663.1,196.5" stroke="#f2c6c7" stroke-width="1.2444444444444445" fill="none" stroke-linejoin="round" stroke-linecap="round" />
<path d="M437.2,195.6 447.0,194.9 455.3,193.7 456.4,193.2 457.0,192.1 457.5,189.7 459.0,176.5 459.4,174.2 459.6,173.7 459.8,173.7 460.4,176.3 461.7,186.6 461.9,187.0 462.0,187.0 462.2,186.6 463.2,182.5 463.4,182.3 463.6,182.6 465.1,191.7 465.6,193.2 466.4,193.7 468.3,193.5 469.4,192.6 473.3,185.5 475.0,183.3 477.9,181.6 479.2,181.1 480.3,181.0 482.9,181.6 486.0,181.9 489.0,183.3 490.1,183.6 496.9,183.2 503.8,184.1 507.4,185.0 512.9,186.8 520.4,188.3 530.4,191.9 535.5,192.8 538.7,193.0 541.9,192.9 546.6,192.4 551.3,191.5 553.4,191.3 556.2,191.5 560.1,192.2 560.5,191.8 561.3,189.5 562.2,192.5 562.6,193.0 563.0,193.1 569.2,193.3 583.3,193.0 585.4,193.4 591.2,195.1 595.7,195.6 600.4,196.4 602.9,196.3 606.4,195.7 611.1,194.8 611.9,194.3 612.6,192.6 613.8,186.9 614.9,183.4 616.0,177.3 616.6,176.1 616.8,176.3 617.2,178.5 618.7,192.6 620.2,198.6 620.6,196.3 620.7,195.9 620.9,196.2 621.1,195.6 621.7,198.5 622.2,193.1 622.6,195.5 623.0,196.3 623.4,193.8 623.6,193.6 623.8,193.7 623.9,195.6 624.1,195.7 624.3,196.4 624.9,194.7 625.1,194.7 625.3,195.4 625.6,195.7 626.0,193.1 626.6,196.2 626.8,196.2 627.1,195.3 627.3,193.1 627.7,194.9 627.9,197.9 628.1,197.7 628.5,195.3 628.7,195.5 628.8,197.3 629.0,197.0 629.2,197.4 629.4,194.8 629.6,194.6 630.2,197.4 630.3,196.6 630.5,197.5 630.7,197.1 630.9,197.7 631.1,196.1 631.3,197.1 631.5,196.9 632.2,198.2 632.8,196.1 633.0,195.8 633.2,196.8 633.4,196.6 634.3,194.7 634.5,196.2 634.7,196.1 635.1,194.5 635.2,195.8 635.4,196.0 635.8,194.7 636.2,196.3 636.4,196.1 636.7,196.4 636.9,195.6 637.1,196.1 637.3,194.5 637.9,197.0 638.4,192.7 638.8,193.8 639.0,193.6 639.4,189.4 639.6,189.1 639.8,189.8 640.1,187.3 640.3,187.2 640.9,179.4 641.1,180.3 641.5,180.3 641.6,179.7 642.2,173.8 642.4,173.4 642.6,173.5 643.1,168.1 643.3,168.7 643.5,168.2 643.7,168.3 643.9,167.0 644.1,167.1 644.5,163.7 644.7,163.3 645.0,167.2 645.2,166.9 645.4,167.6 646.3,178.7 646.5,178.8 646.7,180.2 646.9,179.5 647.1,179.4 648.2,186.0 648.4,186.4 648.6,186.0 648.8,186.5 649.0,188.8 649.2,188.2 649.4,190.0 649.5,188.1 649.7,189.1 649.9,187.0 650.1,187.2 650.7,190.4 651.1,188.9 651.2,188.9 651.8,191.3 652.4,189.5 652.7,191.2 652.9,190.8 653.3,191.2 653.5,190.9 653.7,192.4 653.9,190.5 654.1,191.3 654.3,191.2 654.6,193.6 654.8,193.3 655.0,193.3 655.2,192.1 655.6,193.8 655.9,192.4 656.1,190.7 656.3,191.7 656.5,191.8 656.9,194.2 657.5,191.2 657.6,191.7 657.8,191.4 658.0,191.5 658.4,193.7 658.8,194.2 659.0,195.0 659.3,193.9 659.5,191.9 659.9,194.7 660.3,195.0 660.5,194.1 660.7,194.6 660.8,193.6 661.4,193.9 661.6,193.1 662.0,193.6 662.2,194.6 662.3,194.6 662.5,195.1 662.7,194.2 662.9,195.2 663.1,194.9" stroke="#eeb0b1" stroke-width="1.288888888888889" fill="none" stroke-linejoin="round" stroke-linecap="round" />
<path d="M437.2,195.0 441.7,194.7 446.6,194.0 455.3,192.1 456.0,191.7 456.4,191.3 457.0,189.9 457.5,186.7 459.0,169.5 459.4,166.5 459.6,165.8 459.8,165.8 460.4,169.2 461.7,182.7 461.9,183.3 462.0,183.3 462.2,182.8 463.2,177.5 463.4,177.2 463.6,177.5 465.1,189.5 465.6,191.5 466.4,192.1 467.5,192.1 468.3,191.9 468.8,191.4 469.4,190.6 473.3,179.7 474.3,177.6 475.0,176.4 476.4,175.0 477.9,173.8 479.2,173.2 480.3,173.0 482.9,173.9 486.0,174.3 486.9,174.8 489.0,176.5 490.1,177.0 491.2,177.0 495.0,176.3 496.9,176.3 500.1,176.7 503.8,177.7 507.4,179.1 512.9,181.8 520.4,184.0 530.4,189.5 535.5,190.9 538.7,191.3 541.9,191.1 546.6,190.3 551.3,188.9 553.4,188.6 556.2,188.9 560.1,190.0 560.5,189.4 561.3,186.6 562.2,190.6 562.6,191.2 563.0,191.4 569.2,191.6 583.3,191.2 585.2,191.7 591.6,194.5 595.9,195.2 599.7,196.3 602.5,196.2 606.4,195.3 611.0,193.9 611.7,193.5 612.1,193.0 612.6,190.9 613.8,183.5 614.9,178.9 616.0,171.0 616.6,169.4 616.8,169.7 617.2,172.6 618.5,189.7 619.6,196.8 620.7,193.9 621.1,195.8 621.3,195.6 621.5,196.4 621.7,195.8 621.9,196.0 622.1,194.7 622.6,197.0 622.8,197.0 623.0,197.7 623.2,197.5 623.4,198.0 623.6,197.1 623.8,197.9 623.9,196.4 624.1,196.7 624.3,195.9 624.7,195.6 624.9,195.1 625.1,195.7 625.3,195.1 625.5,196.1 625.8,196.1 626.2,195.0 626.8,197.4 627.3,194.4 627.7,195.7 627.9,194.2 628.1,195.0 628.3,194.4 628.5,196.1 628.7,194.8 628.8,196.6 629.2,195.8 629.4,195.7 629.6,195.0 629.8,195.5 630.0,194.8 630.5,197.0 631.1,194.6 631.7,193.5 632.6,196.8 632.8,196.8 633.0,195.6 633.5,196.9 633.7,194.8 633.9,194.6 634.1,195.1 634.7,193.8 634.9,195.6 635.1,194.2 635.2,194.0 635.4,194.8 635.8,193.6 636.0,192.0 636.2,194.3 636.4,194.2 636.9,195.1 637.3,193.4 637.5,193.5 637.7,193.1 637.9,194.1 638.1,191.6 638.3,191.8 638.4,191.7 638.6,193.3 638.8,192.9 639.8,186.9 640.3,181.0 640.7,179.9 641.6,174.3 641.8,171.7 642.2,170.8 642.6,166.2 642.8,165.5 643.0,165.5 644.1,156.6 644.3,156.8 644.5,156.0 647.1,175.7 647.3,176.9 647.5,176.2 647.9,177.6 648.0,182.2 648.2,182.1 648.4,183.4 648.6,180.8 648.8,180.2 649.2,181.0 649.5,185.4 649.7,185.9 649.9,184.9 650.1,185.0 650.5,188.8 650.7,188.5 650.9,189.7 651.1,187.5 651.2,188.0 651.4,186.2 651.8,187.3 652.6,191.3 652.7,190.2 652.9,190.3 653.1,187.4 653.7,192.0 654.1,190.6 654.4,189.9 654.6,190.0 655.0,192.2 655.4,191.8 655.6,192.8 655.8,192.3 655.9,192.8 656.1,191.1 656.3,192.3 656.5,190.7 657.1,194.2 657.5,191.8 657.6,194.1 658.0,195.3 658.2,193.2 658.6,191.8 658.8,191.9 659.0,190.4 659.1,191.8 659.3,191.9 659.5,194.1 659.7,192.9 659.9,193.1 660.1,192.2 660.3,192.2 660.8,194.4 661.0,193.3 661.2,194.8 661.6,195.6 661.8,194.7 662.0,196.0 662.2,194.5 662.3,195.0 662.5,192.3 663.1,197.2" stroke="#e89698" stroke-width="1.3333333333333335" fill="none" stroke-linejoin="round" stroke-linecap="round" />
<path d="M437.2,194.6 441.7,194.2 446.6,193.4 455.3,190.9 456.0,190.5 456.4,190.0 457.0,188.3 457.5,184.5 459.0,163.9 459.4,160.3 459.6,159.5 459.8,159.4 460.4,163.5 461.7,179.6 461.9,180.3 462.0,180.3 462.2,179.6 463.2,173.3 463.4,173.0 463.6,173.4 465.1,187.6 465.6,190.0 466.0,190.5 466.4,190.7 467.5,190.6 468.3,190.3 468.8,189.6 469.4,188.4 473.3,173.0 474.3,170.0 475.0,168.3 476.4,166.3 477.9,164.6 479.2,163.7 480.3,163.4 481.1,163.6 482.9,164.7 485.2,165.0 486.0,165.2 486.9,166.0 489.0,168.3 490.1,169.0 491.2,169.0 495.0,168.1 496.9,168.0 500.1,168.6 503.8,170.0 507.4,171.9 512.9,175.8 518.5,178.0 520.4,178.9 528.3,185.2 530.4,186.6 532.3,187.5 535.5,188.6 538.7,189.1 541.9,188.8 546.6,187.7 551.3,185.8 553.4,185.4 554.7,185.4 556.4,185.8 560.1,187.4 560.5,186.7 561.3,183.4 562.2,188.3 562.6,189.0 563.0,189.2 565.0,189.5 569.2,189.6 581.6,188.9 583.3,189.0 585.4,189.8 591.2,193.5 595.7,194.6 599.1,196.0 600.4,196.3 602.7,196.0 606.2,195.0 611.1,192.8 611.9,192.1 612.6,189.2 613.8,180.4 614.9,174.9 616.0,165.6 616.4,163.9 616.6,163.7 616.8,164.1 617.2,167.6 618.5,188.1 618.9,191.4 619.8,196.0 620.0,195.7 620.2,196.2 620.4,195.4 620.9,196.7 621.3,192.7 621.5,193.8 621.9,194.6 622.2,192.7 622.6,196.8 623.0,198.3 623.2,197.4 623.4,198.7 623.9,196.3 624.1,198.3 624.9,191.1 625.5,196.7 625.6,196.5 625.8,198.0 626.0,194.8 626.2,196.2 626.6,197.3 627.0,195.4 627.1,195.8 627.3,195.5 627.5,195.6 628.1,199.9 628.7,194.4 629.0,196.0 629.4,194.8 630.0,195.8 630.5,192.3 631.1,197.7 631.3,196.5 631.5,197.9 631.7,197.3 631.9,197.7 632.0,194.6 632.4,193.7 632.6,195.5 632.8,194.4 633.0,194.2 633.2,194.9 633.4,194.2 633.5,194.9 633.7,195.1 634.3,192.8 634.5,194.2 634.7,192.2 634.9,192.2 635.1,193.0 635.4,195.7 635.6,195.0 635.8,195.2 636.0,194.7 636.2,195.3 636.6,194.9 636.7,195.0 636.9,196.5 637.5,191.3 637.9,192.4 638.1,192.4 638.6,191.2 638.8,191.7 639.0,189.9 639.2,190.5 640.1,181.5 640.3,181.4 640.7,182.2 643.0,153.1 643.1,152.8 643.3,153.1 643.5,152.0 644.1,146.0 644.3,147.6 644.5,146.3 644.8,148.8 646.7,169.9 646.9,170.6 647.1,170.6 647.5,172.6 647.7,176.8 647.9,177.2 648.0,179.7 648.6,175.7 649.2,182.0 649.4,181.2 649.9,185.0 650.1,184.6 650.5,186.1 651.1,183.7 651.2,184.7 651.4,184.6 652.0,188.2 652.2,187.4 652.4,187.9 652.6,186.0 652.9,185.4 653.1,187.6 653.5,186.2 654.1,188.6 654.3,187.9 654.4,189.6 654.6,189.5 654.8,189.9 655.0,189.7 655.4,191.3 655.8,189.2 655.9,189.2 656.3,191.6 656.7,192.6 657.1,190.8 657.5,191.2 657.6,192.4 658.2,187.9 658.8,192.0 659.0,191.8 659.1,192.4 659.3,192.2 659.5,192.9 659.7,190.9 659.9,190.6 660.3,193.2 660.5,193.3 660.7,192.0 660.8,192.1 661.6,195.9 661.8,193.7 662.0,194.6 662.2,192.8 662.3,194.0 662.5,192.1 662.7,193.4 662.9,193.2 663.1,194.2" stroke="#e27c7f" stroke-width="1.3777777777777778" fill="none" stroke-linejoin="round" stroke-linecap="round" />
<path d="M437.2,193.7 441.5,193.1 446.4,191.9 451.9,189.8 455.3,188.2 456.0,187.7 456.4,187.0 457.0,185.0 457.5,180.4 459.0,155.7 459.4,151.5 459.6,150.5 459.8,150.5 460.4,155.4 461.7,174.8 461.9,175.6 462.0,175.6 462.2,174.9 463.2,167.4 463.4,167.0 463.6,167.5 465.1,184.6 465.6,187.5 466.0,188.2 466.4,188.4 467.5,188.3 468.3,187.9 468.8,187.0 469.4,185.4 473.3,165.3 474.3,161.3 475.0,159.1 476.4,156.5 477.9,154.3 479.2,153.1 480.3,152.7 481.1,153.0 482.9,154.4 485.2,154.8 486.0,155.1 486.9,156.1 489.0,159.1 490.1,160.1 491.2,160.2 495.0,158.9 496.9,158.8 500.1,159.7 503.8,161.4 507.4,164.0 512.9,169.1 514.6,170.2 518.5,172.0 520.4,173.3 528.3,181.5 530.4,183.5 532.3,184.6 535.5,186.0 537.2,186.5 538.7,186.7 541.9,186.4 546.6,184.9 551.3,182.4 553.4,181.8 554.7,181.9 556.4,182.4 558.2,183.2 560.1,184.4 560.5,183.7 561.3,179.8 562.2,185.7 562.6,186.7 563.0,186.9 565.0,187.2 569.2,187.3 575.8,187.0 581.6,186.5 583.3,186.6 584.2,187.0 585.4,187.7 590.1,191.7 591.4,192.6 595.9,194.0 599.5,196.0 600.4,196.2 601.7,196.1 604.0,195.4 607.0,194.1 611.3,191.5 612.1,190.2 612.6,187.3 613.8,176.6 614.9,170.0 616.0,158.9 616.4,157.0 616.6,156.8 616.8,157.3 617.2,161.4 618.7,188.4 619.2,192.5 619.4,193.5 619.6,193.1 620.0,195.2 620.2,195.5 620.4,192.6 620.6,192.5 620.9,195.2 621.3,194.7 621.5,195.0 621.7,194.9 621.9,195.7 622.2,194.4 622.4,194.4 622.6,195.7 622.8,195.3 623.0,195.5 623.2,192.9 623.4,193.1 623.6,193.0 623.8,195.4 624.5,192.9 625.1,198.3 625.8,193.5 626.2,194.0 626.4,193.8 626.6,195.1 626.8,195.2 627.1,196.4 627.3,197.7 627.7,194.2 628.3,196.8 628.5,195.7 628.8,196.5 629.0,194.0 629.4,192.5 629.6,194.9 630.0,192.5 630.5,197.5 631.1,193.4 631.7,197.7 632.2,192.9 632.4,195.4 632.8,193.1 633.0,189.9 633.5,196.0 633.7,196.2 633.9,195.6 634.1,193.5 634.5,193.7 634.7,194.9 635.1,193.7 635.2,195.6 635.8,198.0 636.4,195.0 636.6,195.6 636.7,195.7 636.9,193.4 637.3,194.9 637.7,192.6 638.3,192.3 638.8,186.3 639.0,185.8 639.4,186.9 639.6,186.4 639.9,183.2 640.1,183.2 640.9,172.0 641.5,168.4 641.8,161.1 642.6,153.4 643.0,151.6 644.5,133.7 645.8,150.2 646.3,160.8 646.5,160.7 646.7,162.0 647.1,168.6 647.5,169.4 648.0,174.5 648.2,172.8 648.4,172.4 649.0,177.9 649.4,177.4 649.5,176.6 649.9,180.4 650.3,182.0 650.5,181.4 650.9,184.2 651.4,181.4 651.8,183.2 652.0,182.9 652.2,185.8 652.6,187.8 652.9,185.3 653.3,185.5 653.5,186.6 654.3,187.5 654.4,188.3 654.8,187.5 655.0,187.9 655.2,186.7 655.4,186.7 655.9,187.7 656.5,190.6 656.7,189.3 656.9,190.7 657.3,190.7 657.5,188.7 658.0,191.4 658.2,190.8 658.4,192.5 658.6,192.2 658.8,192.4 659.0,190.4 659.1,190.3 659.7,193.9 659.9,193.4 660.3,194.6 660.7,192.2 661.0,194.2 661.2,194.0 661.6,189.3 662.2,194.0 662.3,190.7 662.9,194.9 663.1,193.5" stroke="#dd6266" stroke-width="1.4222222222222223" fill="none" stroke-linejoin="round" stroke-linecap="round" />
<path d="M437.2,192.7 441.5,192.0 446.2,190.5 451.9,187.5 455.3,185.4 456.0,184.7 456.4,184.0 457.0,181.6 457.5,176.2 459.0,147.4 459.4,142.4 459.6,141.3 459.8,141.3 460.4,147.0 461.5,167.8 461.9,170.6 462.0,170.7 462.2,169.8 463.0,162.4 463.4,160.6 463.7,162.6 464.9,179.2 465.4,183.8 465.8,185.0 466.4,185.6 467.5,185.5 468.3,184.9 469.0,183.1 469.8,179.4 473.2,155.1 474.7,146.8 475.8,143.2 477.5,139.5 479.0,137.3 479.7,136.8 480.3,136.7 481.1,137.1 482.9,139.1 485.2,139.5 486.0,140.0 486.9,141.3 489.0,145.5 490.1,146.7 491.2,146.9 495.0,145.1 496.9,145.0 498.4,145.4 500.1,146.2 502.3,147.5 503.8,148.6 507.4,152.1 511.4,157.4 512.9,159.1 514.6,160.5 518.5,163.1 520.4,164.8 528.3,176.1 530.4,178.7 532.3,180.3 535.5,182.2 537.2,182.9 538.7,183.2 540.2,183.1 541.9,182.7 546.6,180.6 551.3,177.2 552.4,176.6 553.4,176.4 554.7,176.5 556.4,177.2 558.4,178.5 560.1,180.1 560.5,179.3 561.3,174.9 562.2,182.0 562.6,183.1 563.0,183.4 565.0,183.8 569.2,184.0 575.8,183.6 581.6,182.8 583.3,183.0 584.2,183.5 585.4,184.5 590.1,190.0 591.2,191.1 592.5,191.8 595.7,193.0 599.1,195.7 600.4,196.1 601.4,196.1 602.7,195.7 606.1,193.8 611.1,189.8 611.9,188.7 612.6,184.5 613.8,171.7 614.9,163.8 616.0,150.6 616.4,148.3 616.6,148.1 616.8,148.8 617.2,153.8 618.5,183.6 619.4,193.7 619.8,193.2 620.2,195.4 620.4,193.4 620.6,192.6 620.7,192.8 620.9,196.6 621.3,197.0 621.9,193.3 622.1,193.2 622.2,194.4 622.4,194.3 622.6,194.6 622.8,193.5 623.0,195.5 623.2,195.1 623.4,195.9 623.6,195.6 623.9,197.3 624.3,195.2 624.5,195.1 624.7,195.6 624.9,195.3 625.1,194.0 625.8,196.8 626.4,195.5 626.6,195.5 627.0,194.3 627.1,191.6 627.3,191.5 627.5,191.6 627.9,195.7 628.3,197.6 628.5,196.8 628.7,196.7 628.8,197.2 629.2,197.2 629.4,197.1 630.0,193.2 630.5,197.9 630.9,197.3 631.3,195.5 631.5,197.4 631.7,197.0 631.9,197.6 632.4,194.0 632.6,195.5 632.8,195.0 633.0,195.4 633.2,193.3 633.4,195.2 633.5,195.5 633.9,193.9 634.1,194.6 634.5,194.5 634.7,192.9 634.9,192.6 635.1,192.8 635.2,194.9 635.4,194.8 635.6,195.8 636.2,192.3 636.4,192.5 636.6,195.0 637.1,194.0 637.5,194.5 638.1,191.7 638.4,187.4 638.8,187.1 639.8,182.7 640.1,179.4 640.7,166.0 641.6,158.5 642.0,151.6 642.6,146.1 643.0,138.0 643.5,132.8 643.9,126.7 644.3,124.4 644.5,124.6 644.7,125.8 645.2,132.8 645.8,146.3 646.3,154.6 646.5,155.4 646.7,155.0 646.9,155.2 647.5,164.3 647.7,165.9 647.9,166.2 648.0,165.1 648.2,167.0 648.4,167.3 649.2,174.9 649.4,174.4 649.5,175.3 649.7,174.4 649.9,175.3 650.1,175.2 650.5,179.2 650.7,179.3 650.9,178.0 651.1,178.2 651.8,182.7 652.0,181.4 652.2,182.5 652.4,181.5 652.6,183.0 652.7,183.5 652.9,183.1 653.1,185.0 653.3,184.5 653.9,187.2 654.1,187.3 654.4,185.4 654.6,187.4 654.8,188.1 655.0,188.1 655.2,186.0 655.4,186.1 655.8,189.6 656.1,189.1 656.3,189.6 656.9,186.4 657.5,186.4 657.6,186.7 658.0,190.6 658.4,189.8 658.8,193.7 659.0,193.5 659.1,190.8 659.3,191.3 659.7,191.6 659.9,191.2 660.1,191.3 660.3,191.9 660.5,189.8 660.8,188.2 661.4,191.8 661.6,192.0 662.0,189.4 662.2,190.4 662.3,189.3 662.5,189.6 663.1,193.5" stroke="#d8484c" stroke-width="1.4666666666666668" fill="none" stroke-linejoin="round" stroke-linecap="round" />
<path d="M437.2,181.3 438.9,180.6 440.8,179.2 443.2,176.7 445.3,174.0 447.4,170.3 454.0,156.0 454.7,154.8 456.0,153.2 456.4,152.4 457.0,149.4 457.5,142.8 459.0,107.1 459.6,100.2 459.8,100.5 460.2,105.0 461.3,134.1 461.9,142.2 462.0,142.6 462.2,141.9 463.0,133.6 463.2,132.3 463.4,132.1 463.7,135.3 464.9,158.3 465.4,165.0 466.2,168.2 466.9,169.5 467.9,170.4 468.4,170.3 468.8,169.6 469.6,166.3 473.3,134.4 474.9,125.0 476.0,121.0 477.7,116.7 479.2,114.5 479.7,114.1 480.3,114.0 481.1,114.7 482.9,117.5 483.5,117.8 485.2,118.2 486.0,118.8 486.9,120.6 489.0,126.3 489.5,127.4 490.1,128.1 490.7,128.3 491.2,128.2 495.0,125.9 495.9,125.6 496.9,125.7 498.4,126.2 500.1,127.3 502.3,129.1 503.8,130.6 507.4,135.4 511.4,142.7 512.9,145.1 514.6,147.0 518.5,150.5 520.4,152.9 521.9,155.6 528.3,168.4 530.4,172.0 532.3,174.2 535.5,176.9 537.2,177.8 538.7,178.2 540.2,178.1 541.9,177.5 546.6,174.6 547.9,173.5 551.3,169.9 552.4,169.2 553.4,168.8 554.7,169.0 556.4,170.0 558.4,171.8 560.1,173.9 560.5,173.0 561.3,167.4 562.2,176.6 562.6,178.0 563.0,178.5 563.7,178.8 565.0,179.1 569.2,179.3 575.8,178.7 581.6,177.7 583.3,177.9 584.2,178.6 585.4,180.0 587.6,183.4 590.1,187.5 591.4,189.2 592.5,190.1 595.9,191.8 599.5,195.7 600.4,196.0 601.4,195.9 603.4,194.9 606.4,192.5 611.1,187.3 611.9,185.8 612.6,180.2 613.8,162.9 614.9,152.3 616.0,134.5 616.4,131.5 616.6,131.2 616.8,132.0 617.2,138.8 618.7,182.7 619.2,189.5 619.6,191.2 619.8,189.4 620.4,195.6 620.6,195.4 620.7,193.4 620.9,192.8 621.1,192.8 621.5,196.1 621.9,196.9 622.1,195.9 622.2,197.1 622.4,194.8 622.6,195.3 622.8,192.8 623.2,193.2 623.4,193.9 623.8,188.7 623.9,188.2 624.3,193.5 624.5,194.6 624.7,194.0 624.9,196.0 625.1,196.3 625.6,191.7 625.8,193.6 626.4,190.4 626.8,193.2 627.0,193.2 627.1,192.4 627.5,194.5 627.9,195.3 628.5,192.4 629.0,195.7 629.2,195.1 629.4,196.9 629.6,196.8 629.8,197.7 630.3,192.1 630.7,194.4 630.9,194.7 631.1,193.6 631.3,193.7 631.7,196.5 632.0,197.0 632.2,195.1 632.4,196.5 632.6,194.5 632.8,195.8 633.0,194.0 633.2,194.1 633.5,193.2 633.7,195.3 633.9,193.4 634.1,194.0 634.3,192.8 634.5,193.9 634.9,192.7 635.2,195.4 635.6,194.4 636.2,190.4 636.7,192.2 637.3,188.7 637.5,188.7 637.9,190.3 638.1,188.5 638.4,188.0 638.6,186.6 639.0,180.2 639.2,180.7 639.4,180.1 639.6,180.2 640.3,164.3 642.2,134.4 642.8,121.7 644.1,101.2 644.3,98.8 644.5,98.6 646.9,144.8 647.9,155.6 648.2,157.8 648.4,156.9 649.2,169.9 649.4,169.1 650.1,173.9 650.5,169.4 650.9,170.4 651.1,173.0 651.2,173.5 651.6,172.6 652.0,169.3 653.3,179.9 653.5,178.8 653.7,181.7 653.9,181.2 654.1,182.5 654.3,181.0 654.4,181.0 654.6,180.5 654.8,180.5 655.0,179.8 655.4,182.7 655.6,182.7 655.8,182.3 655.9,181.2 656.3,185.4 656.7,185.3 656.9,182.8 657.5,187.1 657.8,182.8 659.0,191.5 659.1,190.1 659.3,192.6 659.9,186.7 660.1,186.3 660.3,188.6 660.5,188.2 660.7,189.0 660.8,191.7 661.2,192.5 661.4,191.3 661.6,191.5 661.8,191.0 662.0,192.1 662.2,192.0 662.3,194.3 662.9,190.2 663.1,190.8" stroke="#dc2228" stroke-width="1.511111111111111" fill="none" stroke-linejoin="round" stroke-linecap="round" />
<path d="M437.2,180.4 438.9,179.6 440.8,178.1 443.2,175.4 445.3,172.6 447.4,168.6 454.0,153.4 454.7,152.1 456.0,150.4 456.4,149.5 457.0,146.3 457.5,139.3 459.0,101.6 459.6,94.3 459.8,94.5 460.2,99.3 461.7,136.9 461.9,138.6 462.0,139.0 462.2,138.2 463.0,129.4 463.2,128.1 463.4,127.8 463.7,131.2 464.9,155.4 465.4,162.5 466.2,165.8 466.9,167.1 467.7,167.8 468.3,167.9 468.6,167.4 469.2,165.3 469.6,163.0 473.3,126.0 474.9,115.1 476.0,110.4 477.5,105.9 478.8,103.3 479.6,102.4 480.1,102.2 480.5,102.4 481.1,103.0 482.9,106.2 483.5,106.6 485.2,107.0 486.0,107.7 486.9,109.8 489.0,116.3 489.5,117.6 490.1,118.3 490.7,118.6 491.2,118.5 495.0,115.8 495.9,115.5 496.9,115.6 498.4,116.2 500.1,117.4 502.3,119.4 503.8,121.2 507.4,126.7 511.4,135.1 512.9,137.8 514.6,140.0 518.5,144.0 520.4,146.7 521.9,149.7 528.3,164.4 530.4,168.5 532.3,171.0 535.5,174.1 537.2,175.1 538.7,175.5 540.2,175.4 541.9,174.8 546.6,171.5 547.9,170.2 551.3,166.2 552.4,165.2 553.4,164.9 554.7,165.1 556.4,166.2 558.4,168.3 560.1,170.7 560.5,169.8 561.3,164.0 562.2,173.8 562.6,175.4 563.0,175.9 563.7,176.3 565.0,176.6 569.2,176.8 575.8,176.2 581.6,175.0 582.5,175.0 583.3,175.3 584.2,176.0 585.4,177.6 587.6,181.5 590.1,186.3 591.2,188.0 592.3,189.0 595.9,191.2 598.9,195.0 600.2,195.9 601.2,195.9 602.5,195.3 605.9,192.5 611.1,186.0 611.9,184.4 612.6,178.5 613.8,160.7 614.9,149.8 616.0,131.6 616.4,128.5 616.6,128.2 616.8,129.2 617.2,136.2 618.5,177.9 619.4,191.1 619.6,191.1 619.8,189.3 620.0,192.7 620.4,194.0 620.7,190.6 621.1,191.9 621.7,196.7 622.1,195.6 622.4,191.5 622.6,191.5 623.0,193.9 623.2,193.9 623.6,194.9 623.8,194.9 624.3,193.3 624.5,193.4 624.7,192.2 624.9,193.3 625.1,192.4 625.5,196.8 625.8,194.8 626.0,191.4 626.2,193.8 626.4,192.8 626.6,194.5 626.8,192.8 627.0,195.1 627.1,194.8 627.3,195.9 627.7,194.0 627.9,194.6 628.1,193.0 628.3,195.4 628.5,194.1 628.7,195.4 628.8,193.5 629.0,194.1 629.4,192.3 629.6,193.7 629.8,193.1 630.0,195.3 630.2,191.1 630.3,192.6 630.5,192.9 630.9,196.9 631.3,193.9 631.5,193.9 631.9,195.8 632.0,194.2 632.2,194.7 632.8,193.3 633.0,191.6 633.5,197.0 633.7,197.3 633.9,195.4 634.1,195.5 634.3,195.0 634.9,197.4 635.1,199.5 635.8,192.7 636.2,192.6 636.4,193.6 636.6,193.3 636.7,193.4 637.3,188.5 637.5,188.8 637.7,188.6 637.9,188.6 638.3,188.0 638.4,189.6 639.6,170.0 639.9,166.3 640.1,166.4 640.3,166.0 640.9,152.3 641.1,152.3 641.5,147.6 643.0,119.3 643.7,99.1 644.3,95.2 644.5,95.1 644.8,100.2 647.1,150.0 647.3,150.5 647.9,157.4 648.0,156.3 648.2,157.0 648.4,155.9 648.6,157.1 649.2,165.4 649.5,164.7 649.7,165.7 649.9,164.6 650.7,173.8 650.9,174.2 651.1,173.6 651.2,176.5 651.4,174.2 651.6,174.1 651.8,173.2 652.2,176.2 652.4,174.7 652.9,179.2 653.1,179.7 653.5,177.5 653.9,178.1 654.3,182.7 654.4,182.7 654.8,180.3 655.0,182.1 655.6,183.0 655.8,182.8 655.9,184.5 656.1,184.0 656.3,185.5 656.5,183.8 656.7,184.3 656.9,182.9 657.1,184.2 657.6,182.7 658.0,188.9 658.2,188.5 658.4,189.2 658.6,186.3 658.8,186.1 659.0,184.9 659.1,189.0 659.5,191.6 659.7,190.1 660.1,192.4 660.5,191.0 660.7,189.2 661.4,194.1 661.6,191.2 662.0,191.9 662.2,194.4 662.5,189.0 662.7,189.0 663.1,192.8" stroke="#c8161c" stroke-width="1.5555555555555556" fill="none" stroke-linejoin="round" stroke-linecap="round" />
<rect x="418.50" y="2.30" width="264.00" height="212.70" fill="none" stroke="#111" stroke-width="1.75"/>
<line x1="418.38" y1="215.00" x2="418.38" y2="217.00" stroke="#161616" stroke-width="1.3" />
<line x1="437.20" y1="215.00" x2="437.20" y2="219.00" stroke="#161616" stroke-width="1.3" />
<text transform="translate(437.20,231.40) translate(-13.00,0) scale(0.9821,1)" font-weight="bold" font-style="normal" fill="#161616"  stroke="#161616" stroke-width="0.28"><tspan dy="-0.00" font-size="11.90">4000</tspan></text>
<line x1="456.02" y1="215.00" x2="456.02" y2="217.00" stroke="#161616" stroke-width="1.3" />
<line x1="474.85" y1="215.00" x2="474.85" y2="219.00" stroke="#161616" stroke-width="1.3" />
<text transform="translate(474.85,231.40) translate(-13.00,0) scale(0.9821,1)" font-weight="bold" font-style="normal" fill="#161616"  stroke="#161616" stroke-width="0.28"><tspan dy="-0.00" font-size="11.90">3500</tspan></text>
<line x1="493.68" y1="215.00" x2="493.68" y2="217.00" stroke="#161616" stroke-width="1.3" />
<line x1="512.50" y1="215.00" x2="512.50" y2="219.00" stroke="#161616" stroke-width="1.3" />
<text transform="translate(512.50,231.40) translate(-13.00,0) scale(0.9821,1)" font-weight="bold" font-style="normal" fill="#161616"  stroke="#161616" stroke-width="0.28"><tspan dy="-0.00" font-size="11.90">3000</tspan></text>
<line x1="531.33" y1="215.00" x2="531.33" y2="217.00" stroke="#161616" stroke-width="1.3" />
<line x1="550.15" y1="215.00" x2="550.15" y2="219.00" stroke="#161616" stroke-width="1.3" />
<text transform="translate(550.15,231.40) translate(-13.00,0) scale(0.9821,1)" font-weight="bold" font-style="normal" fill="#161616"  stroke="#161616" stroke-width="0.28"><tspan dy="-0.00" font-size="11.90">2500</tspan></text>
<line x1="568.98" y1="215.00" x2="568.98" y2="217.00" stroke="#161616" stroke-width="1.3" />
<line x1="587.80" y1="215.00" x2="587.80" y2="219.00" stroke="#161616" stroke-width="1.3" />
<text transform="translate(587.80,231.40) translate(-13.00,0) scale(0.9821,1)" font-weight="bold" font-style="normal" fill="#161616"  stroke="#161616" stroke-width="0.28"><tspan dy="-0.00" font-size="11.90">2000</tspan></text>
<line x1="606.62" y1="215.00" x2="606.62" y2="217.00" stroke="#161616" stroke-width="1.3" />
<line x1="625.45" y1="215.00" x2="625.45" y2="219.00" stroke="#161616" stroke-width="1.3" />
<text transform="translate(625.45,231.40) translate(-13.00,0) scale(0.9821,1)" font-weight="bold" font-style="normal" fill="#161616"  stroke="#161616" stroke-width="0.28"><tspan dy="-0.00" font-size="11.90">1500</tspan></text>
<line x1="644.27" y1="215.00" x2="644.27" y2="217.00" stroke="#161616" stroke-width="1.3" />
<line x1="663.10" y1="215.00" x2="663.10" y2="219.00" stroke="#161616" stroke-width="1.3" />
<text transform="translate(663.10,231.40) translate(-13.00,0) scale(0.9821,1)" font-weight="bold" font-style="normal" fill="#161616"  stroke="#161616" stroke-width="0.28"><tspan dy="-0.00" font-size="11.90">1000</tspan></text>
<line x1="681.92" y1="215.00" x2="681.92" y2="217.00" stroke="#161616" stroke-width="1.3" />
<text transform="translate(550.30,254.00) translate(-61.50,0) scale(0.9669,1)" font-weight="bold" font-style="normal" fill="#161616"  stroke="#161616" stroke-width="0.28"><tspan dy="-0.00" font-size="13.80">Wavenumber (cm</tspan><tspan dy="-6.21" font-size="9.11">-1</tspan><tspan dy="6.21" font-size="13.80">)</tspan></text>
<text transform="translate(400.60,108.30) rotate(-90) translate(-54.50,0) scale(0.9703,1)" font-weight="bold" font-style="normal" fill="#161616"  stroke="#161616" stroke-width="0.28"><tspan dy="-0.00" font-size="13.30">Absorbance (a.u.)</tspan></text>
<text transform="translate(424.90,19.20) translate(0.00,0) scale(1.0259,1)" font-weight="bold" font-style="normal" fill="#161616"  stroke="#161616" stroke-width="0.28"><tspan dy="-0.00" font-size="10.90">NO</tspan><tspan dy="2.18" font-size="7.19">2</tspan><tspan dy="-2.18" font-size="10.90">/Air ads.—in situ DRIFTS</tspan></text>
<text transform="translate(628.50,18.90) translate(0.00,0) scale(1.0037,1)" font-weight="bold" font-style="normal" fill="#d0282c"  stroke="#d0282c" stroke-width="0.28"><tspan dy="-0.00" font-size="10.90">Ca-LTA-3</tspan></text>
<line x1="451.00" y1="40.50" x2="451.00" y2="166.00" stroke="#111" stroke-width="1.45" stroke-dasharray="8,7.3" stroke-dashoffset="0"/>
<line x1="556.20" y1="40.50" x2="556.20" y2="166.00" stroke="#111" stroke-width="1.45" stroke-dasharray="8,7.3" stroke-dashoffset="0"/>
<line x1="561.20" y1="84.00" x2="561.20" y2="160.00" stroke="#111" stroke-width="1.45" stroke-dasharray="8,7.3" stroke-dashoffset="0"/>
<line x1="454.00" y1="44.20" x2="490.00" y2="44.20" stroke="#161616" stroke-width="1.3" />
<path d="M451.60,44.20 L461.20,41.70 L460.40,44.20 L461.20,46.70 Z" fill="#161616"/>
<line x1="521.00" y1="44.20" x2="553.20" y2="44.20" stroke="#161616" stroke-width="1.3" />
<path d="M555.60,44.20 L546.00,41.70 L546.80,44.20 L546.00,46.70 Z" fill="#161616"/>
<text transform="translate(496.60,47.00) translate(0.00,0) scale(0.9428,1)" font-weight="bold" font-style="normal" fill="#161616"  stroke="#161616" stroke-width="0.28"><tspan dy="-0.00" font-size="10.30">O-H</tspan></text>
<text transform="translate(474.50,59.00) translate(0.00,0) scale(0.9511,1)" font-weight="bold" font-style="normal" fill="#161616"  stroke="#161616" stroke-width="0.28"><tspan dy="-0.00" font-size="10.30">(HNO</tspan><tspan dy="2.06" font-size="6.80">x</tspan><tspan dy="-2.06" font-size="10.30"> &amp; H</tspan><tspan dy="2.06" font-size="6.80">2</tspan><tspan dy="-2.06" font-size="10.30">O)</tspan></text>
<text transform="translate(562.20,51.90) translate(0.00,0) scale(0.9534,1)" font-weight="bold" font-style="normal" fill="#161616"  stroke="#161616" stroke-width="0.28"><tspan dy="-0.00" font-size="10.30">N-O</tspan></text>
<text transform="translate(560.10,64.60) translate(0.00,0) scale(0.9647,1)" font-weight="bold" font-style="normal" fill="#161616"  stroke="#161616" stroke-width="0.28"><tspan dy="-0.00" font-size="10.30">(NO</tspan><tspan dy="2.06" font-size="6.80">2</tspan><tspan dy="-6.70" font-size="6.80">+</tspan><tspan dy="4.64" font-size="10.30">)</tspan></text>
<text transform="translate(560.10,81.30) translate(0.00,0) scale(0.9514,1)" font-weight="bold" font-style="normal" fill="#161616"  stroke="#161616" stroke-width="0.28"><tspan dy="-0.00" font-size="10.30">2360</tspan></text>
<text transform="translate(632.00,34.30) translate(0.00,0) scale(0.9004,1)" font-weight="bold" font-style="normal" fill="#161616"  stroke="#161616" stroke-width="0.28"><tspan dy="-0.00" font-size="10.30">N-O</tspan></text>
<text transform="translate(600.30,47.60) translate(0.00,0) scale(0.9474,1)" font-weight="bold" font-style="normal" fill="#161616"  stroke="#161616" stroke-width="0.28"><tspan dy="-0.00" font-size="10.30">(HNO</tspan><tspan dy="2.06" font-size="6.80">3</tspan><tspan dy="-2.06" font-size="10.30"> and HNO</tspan><tspan dy="2.06" font-size="6.80">2</tspan><tspan dy="-2.06" font-size="10.30">)</tspan></text>
<text transform="translate(612.00,63.10) translate(0.00,0) scale(0.9585,1)" font-weight="bold" font-style="normal" fill="#161616"  stroke="#161616" stroke-width="0.28"><tspan dy="-0.00" font-size="10.30">1262 &amp; 1133</tspan></text>
<line x1="644.10" y1="67.50" x2="644.10" y2="94.00" stroke="#111" stroke-width="1.45" stroke-dasharray="8,7.3" stroke-dashoffset="0"/>
<line x1="654.30" y1="67.50" x2="654.30" y2="170.00" stroke="#111" stroke-width="1.45" stroke-dasharray="8,7.3" stroke-dashoffset="0"/>
<text transform="translate(604.60,77.50) translate(0.00,0) scale(0.9269,1)" font-weight="bold" font-style="normal" fill="#161616"  stroke="#161616" stroke-width="0.28"><tspan dy="-0.00" font-size="10.30">N-O</tspan></text>
<text transform="translate(600.80,90.20) translate(0.00,0) scale(0.9543,1)" font-weight="bold" font-style="normal" fill="#161616"  stroke="#161616" stroke-width="0.28"><tspan dy="-0.00" font-size="10.30">(NO</tspan><tspan dy="2.06" font-size="6.80">2</tspan><tspan dy="-2.06" font-size="10.30">)</tspan></text>
<text transform="translate(584.90,106.10) translate(0.00,0) scale(0.9544,1)" font-weight="bold" font-style="normal" fill="#161616"  stroke="#161616" stroke-width="0.28"><tspan dy="-0.00" font-size="10.30">1655 &amp; 1617</tspan></text>
<line x1="614.50" y1="109.80" x2="614.50" y2="148.00" stroke="#111" stroke-width="1.0" stroke-dasharray="8,7.3" stroke-dashoffset="0"/>
<line x1="616.90" y1="109.80" x2="616.90" y2="148.00" stroke="#111" stroke-width="1.0" stroke-dasharray="8,7.3" stroke-dashoffset="0"/>
<text transform="translate(571.80,123.00) translate(0.00,0) scale(0.9163,1)" font-weight="bold" font-style="normal" fill="#161616"  stroke="#161616" stroke-width="0.28"><tspan dy="-0.00" font-size="10.30">N-O</tspan></text>
<text transform="translate(563.70,137.70) translate(0.00,0) scale(0.9665,1)" font-weight="bold" font-style="normal" fill="#161616"  stroke="#161616" stroke-width="0.28"><tspan dy="-0.00" font-size="10.30">(NO</tspan><tspan dy="-4.64" font-size="6.80">+</tspan><tspan dy="4.64" font-size="10.30">)</tspan></text>
<text transform="translate(567.10,150.80) translate(0.00,0) scale(0.9601,1)" font-weight="bold" font-style="normal" fill="#161616"  stroke="#161616" stroke-width="0.28"><tspan dy="-0.00" font-size="10.30">2072</tspan></text>
<line x1="582.30" y1="154.60" x2="582.30" y2="163.00" stroke="#111" stroke-width="1.45" stroke-dasharray="8,7.3" stroke-dashoffset="0"/>
<path d="M67.7,465.3 78.4,465.3 84.8,465.0 89.5,465.0 90.1,464.8 90.7,464.3 92.0,462.0 92.5,461.6 93.1,462.1 94.2,464.3 95.0,464.9 100.1,465.2 112.7,464.2 136.8,463.1 151.5,462.8 167.3,463.1 184.2,462.8 197.8,463.4 213.6,463.8 222.6,464.6 228.7,464.9 244.3,464.6 248.2,464.9 248.4,465.2 248.8,464.8 249.0,465.0 249.4,465.0 249.7,464.3 250.3,465.1 250.7,465.0 251.1,465.4 251.4,465.0 252.0,465.1 252.4,464.8 252.6,465.0 252.7,464.6 252.9,465.1 253.1,464.9 253.3,465.1 253.7,464.6 254.3,465.3 254.4,465.1 255.2,465.1 255.4,465.6 256.0,465.3 256.5,464.3 257.3,466.0 257.5,465.5 257.6,465.6 257.8,465.2 258.2,465.0 258.6,465.6 259.0,465.6 259.5,465.0 260.1,465.4 260.3,465.1 260.5,465.4 260.8,465.6 261.2,465.4 262.0,466.0 262.2,466.0 262.4,465.5 262.5,465.5 262.9,466.0 263.3,464.7 263.5,464.9 263.7,464.8 263.9,465.6 264.0,465.0 264.2,465.2 264.4,464.9 264.6,465.4 265.2,465.1 265.9,465.1 266.5,465.4 266.7,465.1 266.9,465.4 267.1,465.1 267.2,465.4 267.4,464.6 267.6,464.7 267.8,464.2 268.2,465.3 268.4,465.4 268.6,465.2 269.1,467.8 269.9,469.3 270.4,466.0 271.0,465.1 271.2,464.3 271.6,464.1 271.8,464.6 272.3,463.6 272.5,463.6 273.1,462.5 273.3,463.0 273.6,463.3 274.0,463.0 274.2,463.3 274.4,463.0 274.6,463.5 275.5,464.0 275.9,463.8 276.1,463.5 276.3,464.0 276.5,463.8 277.0,464.8 277.2,464.8 277.6,464.1 278.4,465.2 278.7,464.9 278.9,464.3 279.3,464.7 279.9,465.0 280.0,465.0 280.2,464.3 280.6,464.3 280.8,464.6 281.4,464.4 281.9,464.8 282.5,464.4 283.1,464.8 283.4,464.5 284.0,465.1 284.4,464.6 284.6,465.0 284.9,464.9 285.3,464.3 285.9,465.4 286.1,465.0 286.4,465.0 286.8,466.1 287.0,466.2 287.6,464.8 287.8,465.4 288.1,465.5 288.3,465.3 288.7,465.6 288.9,465.5 289.3,464.5 289.8,465.6 290.0,465.1 290.6,465.5 290.8,465.2 291.2,465.1 291.5,465.6 292.1,464.6 292.3,465.0 292.8,464.8 293.6,465.2" stroke="#e6e0f3" stroke-width="1.1" fill="none" stroke-linejoin="round" stroke-linecap="round" />
<path d="M67.7,465.3 78.2,465.3 81.8,465.0 84.8,464.5 87.5,464.7 89.5,464.5 90.1,464.2 90.7,463.3 92.0,459.0 92.5,458.1 93.1,459.1 94.2,463.2 95.0,464.4 95.9,464.7 100.5,465.0 102.7,464.8 107.0,463.7 112.9,462.6 129.6,460.9 137.9,459.8 152.8,459.3 167.7,459.9 178.0,459.1 183.9,459.0 197.8,460.6 213.6,461.6 222.6,463.6 228.8,464.3 234.7,464.3 244.3,463.6 248.2,464.4 248.8,465.2 249.5,464.1 249.9,464.1 250.5,465.6 250.7,464.8 251.1,464.6 251.2,465.1 251.8,464.7 252.7,465.2 253.7,464.8 253.9,465.2 254.6,464.7 255.2,465.4 256.0,465.3 256.1,465.9 256.5,466.1 257.1,465.2 257.5,465.7 257.6,465.7 258.0,464.6 258.4,464.5 258.6,465.0 258.8,464.8 259.2,465.3 259.7,464.8 259.9,465.5 260.1,465.5 260.5,464.9 260.7,465.3 261.0,465.4 261.6,464.9 261.8,464.4 262.0,464.4 262.4,465.2 262.5,465.0 262.7,465.2 262.9,464.8 263.7,465.7 264.2,465.7 264.4,465.2 264.8,465.1 265.0,465.5 265.4,465.3 265.7,464.3 266.3,465.3 266.9,465.3 267.2,464.8 267.4,464.9 267.8,466.0 268.4,465.6 268.9,468.2 269.5,473.0 269.7,473.3 270.4,466.4 270.8,464.7 271.0,464.2 271.2,464.3 272.1,461.4 272.9,459.8 273.5,460.5 273.8,460.5 274.0,461.0 274.6,460.9 274.8,461.7 275.2,462.0 275.3,461.8 275.5,462.1 275.7,461.8 275.9,461.8 276.5,462.7 276.7,462.3 277.2,463.2 277.8,463.0 278.2,463.4 278.4,464.2 278.5,464.0 278.7,464.2 278.9,463.7 279.7,464.4 279.9,463.9 280.4,465.0 280.8,463.5 281.4,464.1 281.6,463.9 281.7,464.7 282.3,464.5 282.7,464.8 282.9,464.4 283.4,464.4 284.0,463.9 284.6,464.9 284.9,464.5 285.1,464.6 285.7,463.6 286.1,463.8 286.8,465.4 287.2,465.7 287.4,465.3 287.8,465.9 288.3,465.2 288.5,465.5 288.9,465.7 289.1,465.2 289.8,465.4 290.0,465.2 290.2,465.3 290.6,464.8 291.3,465.7 291.7,465.4 292.3,465.9 292.5,465.5 293.0,465.8 293.6,465.4" stroke="#dcd4ef" stroke-width="1.1333333333333335" fill="none" stroke-linejoin="round" stroke-linecap="round" />
<path d="M67.7,465.3 78.2,465.2 81.8,464.7 84.8,463.5 87.5,463.9 89.5,463.6 90.1,463.0 90.7,461.6 92.0,454.4 92.5,453.0 93.1,454.6 94.2,461.4 95.0,463.4 95.4,463.7 96.1,464.0 100.6,464.6 102.7,464.1 106.9,461.9 112.7,459.4 129.8,455.6 137.7,453.4 143.9,452.7 152.8,452.2 167.5,453.5 169.9,453.2 178.0,451.8 183.7,451.4 185.5,451.7 192.3,453.7 198.0,454.9 202.1,455.6 210.4,456.5 213.6,457.1 215.1,457.7 218.7,459.7 222.6,461.5 225.1,462.3 228.7,463.2 230.9,463.3 234.7,463.1 239.2,462.5 244.1,461.6 244.7,461.7 246.9,463.0 248.2,463.4 248.4,463.2 248.8,463.6 249.0,463.4 249.2,463.7 249.4,463.4 249.5,463.8 249.7,463.2 250.1,463.3 250.7,464.2 250.9,464.0 251.1,464.4 251.2,463.8 251.4,464.0 251.6,463.7 251.8,464.0 252.2,463.7 252.4,464.0 252.6,463.9 252.7,464.3 253.1,464.6 253.5,464.2 254.1,464.7 254.4,464.0 254.6,464.3 254.8,464.2 255.0,464.5 255.2,464.2 255.4,464.8 255.6,464.4 255.8,464.7 256.0,464.3 256.7,465.7 256.9,465.3 257.5,466.0 257.6,465.9 258.0,464.4 258.2,464.4 258.4,464.8 259.3,464.7 259.5,465.5 259.7,465.6 260.1,465.1 261.0,464.8 261.2,465.2 261.4,465.0 261.6,465.6 261.8,465.5 262.0,465.8 262.9,464.6 263.1,465.2 263.5,465.0 263.7,464.5 263.9,464.6 264.0,465.5 264.4,465.4 264.6,464.7 265.0,464.3 265.4,464.5 266.1,465.9 266.7,464.8 267.2,464.9 267.4,465.3 267.6,465.1 267.8,465.6 268.0,465.5 268.4,465.6 268.8,467.1 269.3,477.0 269.5,479.1 269.7,479.6 270.6,465.5 271.8,460.2 272.5,454.7 273.3,453.9 273.8,454.7 274.0,454.8 274.2,454.5 274.4,454.8 276.7,459.4 276.8,459.1 277.4,460.4 277.6,460.3 277.8,460.7 278.4,461.0 279.1,462.4 279.5,462.5 279.9,462.3 280.2,461.3 280.8,462.8 281.0,462.7 281.6,463.7 281.7,463.7 281.9,464.5 282.5,462.5 283.1,463.2 283.2,462.6 283.4,463.1 283.6,463.1 283.8,463.9 284.2,463.8 284.6,463.0 284.9,462.9 285.1,464.0 285.3,464.2 285.5,463.9 285.7,464.1 285.9,464.0 286.1,464.6 286.4,463.4 286.8,464.0 287.0,465.2 287.2,464.9 287.8,465.8 288.5,464.7 288.9,465.0 289.3,464.7 289.8,466.1 290.0,465.8 290.2,466.0 290.4,465.6 290.8,466.0 291.0,466.0 291.3,464.4 291.7,464.6 292.3,465.6 292.8,465.5 293.6,465.0" stroke="#cec3e8" stroke-width="1.1666666666666667" fill="none" stroke-linejoin="round" stroke-linecap="round" />
<path d="M67.7,465.3 78.2,465.2 80.3,464.7 81.8,464.1 84.8,461.8 85.4,461.8 87.5,462.7 88.8,462.4 89.5,462.1 90.1,461.3 90.7,459.2 92.0,448.9 92.5,446.8 93.1,449.2 94.2,458.9 95.0,461.9 95.4,462.4 96.1,462.8 99.7,463.8 100.8,463.9 101.8,463.7 102.7,463.1 106.9,458.7 110.4,455.7 112.7,454.1 115.5,452.7 129.8,446.7 132.3,445.4 136.0,443.1 137.7,442.4 144.1,441.1 149.8,440.4 152.8,440.2 155.6,440.5 165.2,442.5 167.7,442.6 169.9,442.1 177.8,439.5 181.0,438.9 182.9,438.7 184.0,438.8 185.2,439.2 191.8,442.8 198.3,445.6 202.3,446.8 210.2,448.5 213.4,449.5 215.1,450.7 218.7,454.6 222.6,458.0 225.1,459.6 228.7,461.2 230.9,461.5 234.7,461.0 239.2,459.9 244.1,458.2 244.8,458.6 246.5,460.6 248.2,461.6 248.6,462.3 249.2,461.1 249.4,461.1 249.5,461.2 249.9,462.4 250.5,462.0 251.2,462.9 251.4,462.5 251.6,462.7 251.8,462.3 252.6,464.0 252.7,463.3 253.1,463.3 253.3,463.0 253.5,463.2 253.7,462.9 253.9,462.9 254.4,464.1 254.6,463.5 254.8,463.7 255.0,463.6 255.2,464.3 255.6,464.1 256.0,464.2 256.3,463.9 256.7,464.8 257.3,465.4 257.8,464.6 258.2,464.5 258.4,464.2 258.6,464.4 258.8,464.0 259.2,464.7 259.7,464.4 260.1,465.3 260.7,464.5 261.2,466.1 261.8,465.2 262.0,465.5 262.4,465.0 262.5,465.2 262.7,465.0 263.1,465.6 263.3,465.6 263.9,464.7 264.0,464.9 264.2,464.4 264.6,464.3 264.8,464.4 265.4,465.8 266.1,464.4 266.5,464.9 266.7,465.8 267.4,464.9 267.6,465.3 268.2,464.6 268.9,467.1 269.7,472.1 270.8,462.7 271.6,458.3 272.5,446.8 273.3,443.2 273.8,444.8 274.0,444.5 274.4,444.9 275.3,449.1 275.5,448.9 275.7,449.1 276.1,451.4 276.7,452.7 277.6,456.7 277.8,457.1 278.0,456.9 278.4,457.2 278.7,458.7 278.9,458.8 279.3,458.6 279.5,458.8 280.0,460.2 280.2,460.0 281.0,460.1 281.2,460.7 281.4,460.3 281.6,460.3 281.9,460.8 282.5,461.1 282.9,460.3 283.2,461.1 283.8,460.6 284.0,461.0 284.2,460.9 284.4,461.3 284.6,461.3 284.8,461.9 284.9,461.7 285.1,462.2 285.3,461.8 285.7,461.9 286.1,463.0 286.3,463.0 286.8,464.9 287.0,464.4 287.4,464.2 288.0,465.0 288.1,464.9 288.5,465.6 288.7,465.6 289.1,464.7 289.5,465.3 290.0,464.7 290.2,464.6 290.6,464.9 291.0,464.2 291.5,466.0 292.1,464.6 292.7,465.7 292.8,465.5 293.0,465.8 293.6,464.8" stroke="#bcaee0" stroke-width="1.2000000000000002" fill="none" stroke-linejoin="round" stroke-linecap="round" />
<path d="M67.7,465.3 76.4,465.3 78.2,465.0 80.3,464.1 81.8,462.9 82.8,461.7 84.3,459.0 84.8,458.3 85.4,458.3 86.7,459.6 87.5,460.0 88.6,459.7 89.5,459.0 90.1,457.8 90.7,454.5 92.0,438.5 92.5,435.3 93.1,439.0 94.2,454.1 95.0,458.8 95.6,459.9 96.3,460.6 99.7,462.4 100.5,462.6 101.0,462.6 101.8,462.1 102.7,460.9 106.9,452.3 110.4,446.2 112.7,443.1 115.7,440.2 130.2,428.7 132.5,426.6 135.8,422.6 137.5,421.2 140.0,420.1 143.4,419.0 149.8,417.4 152.8,417.1 155.4,417.6 164.8,421.1 166.3,421.4 167.5,421.4 168.6,421.0 169.9,420.3 177.8,414.5 181.0,413.1 183.1,412.7 184.2,413.0 185.2,413.6 191.8,420.6 195.1,423.6 198.3,426.0 202.3,428.3 210.2,431.7 212.1,432.8 213.4,433.8 215.1,436.1 218.7,443.9 222.4,450.4 224.7,453.4 228.3,456.9 229.4,457.6 230.5,457.8 232.0,457.6 233.9,457.0 236.9,455.8 238.8,454.8 241.5,453.2 243.7,451.3 244.1,451.1 244.7,451.6 246.0,454.9 246.7,456.2 248.2,457.9 248.6,457.7 248.8,457.8 249.2,458.7 249.4,458.6 249.5,459.3 249.7,459.1 249.9,459.9 250.1,458.9 250.3,459.8 250.5,459.3 250.7,459.9 250.9,459.1 251.1,459.4 251.2,459.3 251.4,460.3 252.0,461.6 252.2,461.2 252.6,461.0 253.1,461.9 253.7,461.1 253.9,462.2 254.3,463.0 254.4,462.2 254.6,462.9 254.8,462.7 255.0,463.2 255.2,462.7 255.8,464.1 256.0,464.1 256.1,463.4 256.5,463.0 256.7,463.3 256.9,463.1 257.5,464.5 257.6,465.6 258.0,465.2 258.2,464.7 258.4,464.5 258.6,464.7 258.8,464.2 259.2,464.6 259.5,464.5 259.7,464.0 260.1,463.7 260.7,465.0 261.2,463.6 261.4,465.0 261.8,464.7 262.0,464.0 262.5,465.3 262.7,465.2 263.3,465.7 263.9,463.9 264.0,464.5 264.6,465.1 264.8,464.9 265.2,465.6 265.7,464.3 265.9,465.2 266.3,465.8 266.9,465.8 267.1,465.2 267.2,465.4 267.4,465.1 267.6,465.2 268.0,465.5 268.2,466.4 268.4,465.6 268.6,465.8 268.8,465.1 268.9,465.5 269.3,465.3 270.4,464.1 271.4,453.5 272.3,431.5 272.9,424.8 273.1,423.4 273.3,423.1 273.8,424.2 275.0,429.2 277.2,445.8 277.4,446.6 277.8,447.3 278.7,452.6 279.1,453.3 279.3,453.1 279.5,454.5 279.7,454.3 279.9,454.6 280.0,454.6 280.4,455.7 280.6,455.1 280.8,455.1 281.2,455.8 281.7,455.9 282.1,456.2 282.3,457.0 282.9,456.2 283.1,456.3 283.2,457.1 283.6,456.8 284.4,458.6 284.8,458.5 284.9,458.2 285.7,459.9 286.6,463.3 286.8,463.5 287.2,463.4 287.4,464.4 287.6,464.3 287.8,464.9 288.0,464.8 288.1,465.2 288.5,464.6 289.1,465.5 289.3,464.9 289.5,465.2 289.6,465.0 289.8,465.5 290.0,464.8 290.2,465.5 290.8,464.7 291.2,465.3 291.3,464.7 291.9,465.6 292.1,464.7 292.3,464.7 292.7,465.9 292.8,465.8 293.0,464.9 293.2,465.0 293.4,464.6 293.6,464.9" stroke="#a896d6" stroke-width="1.2333333333333334" fill="none" stroke-linejoin="round" stroke-linecap="round" />
<path d="M67.7,465.3 76.4,465.3 78.2,464.9 80.3,463.8 81.8,462.3 82.8,460.8 84.3,457.3 84.8,456.5 85.4,456.5 86.7,458.2 87.5,458.6 88.6,458.2 89.5,457.4 90.1,455.9 90.7,452.1 92.0,433.2 92.5,429.4 93.1,433.8 94.2,451.6 95.0,457.1 95.6,458.5 96.3,459.3 99.7,461.6 100.5,461.9 101.0,461.9 101.8,461.3 102.7,459.7 106.9,448.9 110.4,441.2 112.7,437.2 115.7,433.6 120.8,428.6 130.2,418.9 132.5,416.2 135.8,411.1 137.5,409.3 140.2,407.8 143.6,406.4 149.8,404.5 152.8,404.0 154.1,404.2 155.4,404.6 164.8,409.2 166.3,409.6 167.5,409.6 168.6,409.1 169.9,408.2 177.8,401.0 181.0,399.3 182.9,398.8 184.0,399.0 185.2,399.9 191.8,408.8 195.1,412.6 198.3,415.7 202.3,418.6 210.2,422.9 212.1,424.3 213.4,425.6 214.3,426.9 215.1,428.5 218.7,438.3 222.4,446.5 224.9,450.6 227.1,453.5 228.5,454.9 229.6,455.6 230.7,455.8 232.2,455.5 234.1,454.8 236.9,453.3 238.8,452.1 241.5,450.0 243.7,447.6 244.1,447.4 244.7,448.1 246.0,452.1 246.9,454.2 248.2,456.0 248.6,455.4 249.2,456.8 249.4,456.9 249.5,456.4 249.9,456.7 250.1,457.7 250.3,457.5 250.5,458.3 250.7,458.3 250.9,458.6 251.1,458.6 251.6,459.6 251.8,460.3 252.2,458.9 252.6,459.1 252.7,459.9 252.9,459.8 253.3,460.4 253.7,460.5 254.1,459.7 254.4,460.2 255.0,462.5 255.2,461.8 255.4,462.0 255.6,461.8 255.8,462.0 256.0,461.3 256.5,463.3 256.7,463.1 257.3,463.2 257.6,464.3 257.8,464.2 258.0,464.6 258.2,464.4 258.4,465.1 258.6,464.3 259.2,465.1 259.5,464.5 259.7,464.7 259.9,464.4 260.1,464.5 260.3,463.9 260.5,463.9 260.7,463.9 260.8,464.7 261.4,463.7 261.6,464.7 261.8,464.2 262.0,464.3 262.4,465.4 262.7,464.2 263.1,465.9 263.7,464.0 264.2,465.9 264.4,465.6 264.6,465.9 264.8,465.2 265.2,465.0 265.4,464.9 265.6,465.6 265.7,465.7 265.9,465.7 266.1,464.7 266.5,464.6 266.9,465.0 267.2,465.0 267.4,464.1 267.6,464.4 267.8,464.0 268.0,464.7 268.2,464.5 268.4,465.0 268.6,464.4 269.1,466.2 269.3,466.1 269.5,466.3 270.1,464.1 270.3,464.9 270.6,462.4 271.2,454.3 272.3,424.7 273.1,411.6 273.6,413.0 273.8,412.3 274.2,413.2 274.6,417.8 277.4,442.1 278.0,445.6 278.9,449.5 279.1,449.6 280.2,452.8 280.4,452.3 280.6,453.0 280.8,452.7 281.0,453.7 281.4,453.8 281.7,452.5 282.1,452.9 282.3,454.3 282.5,454.0 282.7,454.5 282.9,454.3 283.2,455.9 283.4,455.4 283.6,455.6 283.8,455.5 284.0,456.2 284.6,456.4 285.5,457.6 286.4,461.3 287.0,462.3 287.6,465.4 287.8,465.4 288.1,463.8 288.5,464.3 288.7,464.9 289.3,463.9 289.6,465.3 290.0,465.8 290.2,465.5 290.6,465.3 291.0,464.6 291.3,465.6 291.7,464.3 292.8,466.3 293.2,466.3 293.6,465.2" stroke="#9580cc" stroke-width="1.2666666666666666" fill="none" stroke-linejoin="round" stroke-linecap="round" />
<path d="M67.7,465.3 76.4,465.3 78.1,464.9 80.1,463.5 81.8,461.2 82.8,459.2 84.3,454.4 84.8,453.4 85.4,453.3 86.7,455.6 87.5,456.3 88.4,455.9 89.5,454.7 90.1,452.8 90.7,448.0 92.0,424.6 92.4,420.5 92.5,419.9 92.7,420.6 93.1,425.3 94.2,447.5 95.0,454.4 95.6,456.2 96.3,457.3 99.9,460.6 100.5,460.9 101.0,460.9 101.8,460.1 102.7,458.0 107.0,442.9 110.6,432.8 112.9,427.7 114.4,425.3 116.3,422.7 127.8,409.1 130.8,405.2 132.6,402.4 135.8,396.6 137.2,394.8 139.0,393.5 142.1,392.1 150.2,389.4 152.8,388.9 153.9,389.0 155.0,389.5 159.0,391.8 164.1,394.3 166.0,394.9 167.3,394.7 168.4,394.0 169.7,392.5 178.0,380.7 181.2,377.8 182.3,377.1 183.3,376.9 184.2,377.2 185.4,378.4 191.8,389.4 195.1,394.3 198.3,398.3 202.1,402.0 210.0,407.6 212.1,409.6 213.4,411.4 214.3,413.2 215.1,415.3 218.7,428.6 222.4,439.7 224.9,445.3 227.1,449.3 228.5,451.2 229.6,452.1 230.7,452.4 232.2,452.0 234.1,451.0 236.9,449.0 238.8,447.3 241.5,444.5 243.7,441.2 244.1,441.0 244.5,441.4 244.8,442.5 246.3,448.7 247.1,450.6 248.4,453.1 248.6,454.3 249.0,454.8 249.2,453.6 249.5,453.3 250.1,455.8 250.5,454.5 251.1,456.8 251.2,456.4 251.4,456.6 251.8,456.3 252.0,456.9 252.2,456.9 253.1,458.5 253.3,458.5 253.7,458.0 253.9,459.0 254.3,459.8 254.4,459.0 254.6,459.2 255.2,461.8 255.4,461.4 255.6,461.5 255.8,460.8 256.0,461.0 256.1,460.9 256.3,462.5 256.7,463.4 256.9,462.7 257.1,462.6 257.5,462.8 257.6,463.3 258.0,463.2 258.2,463.4 258.6,465.0 258.8,464.6 259.0,464.8 259.2,464.3 259.3,464.8 259.5,464.3 259.9,464.6 260.1,464.2 260.3,464.7 260.7,464.8 260.8,464.4 261.0,464.9 261.4,465.1 261.6,464.5 261.8,464.8 262.4,464.4 262.7,465.4 263.1,465.3 263.5,465.6 263.9,464.7 264.0,465.5 264.4,465.8 264.6,464.2 265.4,465.0 265.6,464.4 265.7,464.8 265.9,463.9 266.1,464.1 266.7,463.7 267.2,465.0 267.8,465.3 268.0,464.9 268.2,465.3 268.4,464.9 268.8,466.4 268.9,466.3 269.3,464.8 269.5,465.6 269.9,465.1 270.4,463.2 270.8,458.7 271.4,445.6 272.5,402.8 272.9,394.5 273.3,392.6 273.5,393.5 273.6,393.5 274.0,395.1 274.4,398.3 277.2,432.6 277.8,436.7 278.4,438.8 279.1,445.5 279.3,446.1 279.7,446.2 279.9,447.0 280.6,448.5 281.0,448.4 281.2,448.9 281.9,449.7 282.5,451.0 282.7,451.0 282.9,450.5 283.4,451.6 283.6,451.3 284.6,453.4 284.9,452.9 285.3,453.2 285.7,456.8 286.4,461.0 287.2,463.4 287.4,463.3 287.6,463.5 288.3,465.3 288.5,465.2 288.7,466.3 289.1,465.8 289.5,464.5 289.6,464.7 289.8,464.6 290.0,464.0 290.6,465.8 291.0,464.4 291.5,466.0 291.9,466.1 292.3,464.8 292.5,464.7 292.8,465.1 293.4,463.8 293.6,464.0" stroke="#8068c0" stroke-width="1.3" fill="none" stroke-linejoin="round" stroke-linecap="round" />
<path d="M67.7,465.3 76.4,465.3 78.1,464.8 80.1,463.1 81.8,460.5 82.8,458.1 84.3,452.5 84.8,451.2 85.0,451.1 85.4,451.2 86.7,453.9 87.5,454.7 88.4,454.2 89.5,452.9 90.1,450.8 90.7,445.5 92.0,419.9 92.4,415.3 92.5,414.7 92.7,415.4 93.1,420.6 94.2,445.0 95.0,452.6 95.6,454.7 96.3,455.9 99.9,459.9 100.5,460.2 101.0,460.2 101.8,459.3 102.7,456.8 107.0,439.1 110.6,427.2 112.9,421.3 114.6,418.2 116.5,415.3 127.9,399.9 131.0,395.6 132.6,392.7 135.7,386.5 137.0,384.4 138.7,382.9 141.5,381.5 150.3,378.3 152.8,377.8 153.9,378.0 155.0,378.4 159.0,381.1 163.9,383.7 165.8,384.3 167.1,384.1 168.2,383.2 169.7,381.1 178.0,366.5 181.4,362.7 182.5,361.9 183.5,361.7 184.4,362.1 185.4,363.4 191.8,376.1 195.3,382.0 198.3,386.4 200.2,388.7 202.1,390.7 207.9,395.3 210.0,397.2 212.1,399.6 213.4,401.6 214.3,403.8 215.1,406.3 218.7,422.0 222.4,435.1 224.9,441.7 227.1,446.4 228.5,448.6 229.6,449.8 230.7,450.1 232.2,449.6 234.1,448.4 236.9,446.1 238.8,444.1 241.5,440.7 243.7,436.9 244.1,436.6 244.5,437.1 244.8,438.4 246.3,445.7 247.7,449.3 248.2,450.4 248.4,450.1 249.0,450.8 249.4,450.4 249.9,453.7 250.3,453.2 251.1,454.9 251.6,453.7 252.2,456.1 252.6,456.3 252.7,456.6 252.9,456.3 253.1,456.5 254.1,458.8 254.3,458.4 254.6,458.5 254.8,459.7 255.2,460.3 255.4,459.7 255.6,460.4 255.8,459.8 256.0,461.3 256.1,461.2 256.3,461.7 256.5,461.0 256.7,461.2 257.3,464.6 257.5,464.0 257.6,464.1 257.8,463.7 258.2,464.1 258.4,463.9 259.2,463.0 259.3,462.4 259.5,462.4 260.3,464.5 260.5,464.3 260.7,464.8 261.0,464.4 261.2,463.7 261.6,463.9 261.8,463.1 262.2,462.7 262.7,464.8 263.1,464.7 263.3,463.8 263.5,463.7 263.9,464.1 264.0,464.8 264.6,464.0 265.6,464.8 265.7,464.4 266.5,463.8 266.9,464.5 267.1,464.1 267.2,464.4 267.4,464.2 268.4,466.5 269.1,464.8 269.7,464.6 270.1,465.0 270.6,460.5 271.0,454.3 272.5,391.0 272.9,382.2 273.1,380.1 273.5,378.7 274.8,390.0 276.5,415.9 277.2,424.9 279.1,441.0 279.5,441.5 280.0,443.9 280.2,443.9 280.6,445.3 280.8,445.1 281.0,445.3 281.2,444.9 281.7,446.3 282.9,448.0 283.2,449.3 283.6,449.2 283.8,448.6 284.0,448.8 284.4,450.5 284.6,450.8 284.8,450.3 284.9,450.8 286.1,456.3 286.6,462.2 287.0,464.3 287.2,464.3 287.4,465.0 287.6,464.1 287.8,465.0 288.0,465.0 288.1,465.5 288.5,463.7 288.7,463.7 289.3,464.8 289.5,464.0 289.6,464.4 289.8,463.9 290.0,464.7 290.4,464.9 290.6,464.6 291.0,464.9 291.3,463.4 291.7,464.6 291.9,464.7 292.3,463.9 292.5,464.7 293.2,465.2 293.4,465.6 293.6,465.4" stroke="#6a48b0" stroke-width="1.3333333333333333" fill="none" stroke-linejoin="round" stroke-linecap="round" />
<path d="M67.7,465.3 76.4,465.3 77.3,465.1 78.1,464.8 80.1,462.9 81.8,459.9 82.8,457.3 84.3,451.0 84.8,449.6 85.0,449.4 85.4,449.5 86.7,452.5 87.5,453.4 87.8,453.4 88.4,452.9 89.5,451.4 90.1,449.2 90.7,443.6 92.0,416.2 92.4,411.4 92.5,410.7 92.7,411.5 93.1,417.0 94.2,443.1 95.0,451.3 95.6,453.5 96.3,454.8 99.9,459.3 100.5,459.7 101.0,459.6 101.8,458.6 102.7,455.8 107.0,436.1 110.6,422.8 112.9,416.3 114.6,412.8 116.5,409.7 128.1,392.5 131.0,388.1 132.6,384.9 135.7,378.1 137.0,375.8 138.5,374.3 141.3,372.8 150.3,369.3 152.8,368.8 153.9,368.9 155.0,369.5 159.0,372.3 163.7,375.0 165.8,375.7 167.1,375.5 168.2,374.4 169.7,372.0 178.0,355.4 181.4,351.0 182.5,350.1 183.5,349.9 184.4,350.3 185.4,351.7 191.8,365.8 195.3,372.3 198.3,377.1 200.2,379.7 202.1,381.9 207.9,387.1 210.0,389.2 212.1,391.8 213.4,394.2 214.3,396.6 215.1,399.4 218.7,416.9 222.6,432.2 225.1,439.4 227.3,444.6 228.7,446.9 229.8,448.1 230.9,448.3 232.6,447.6 234.7,445.9 237.1,443.6 239.2,441.1 241.6,437.6 243.5,433.9 244.1,433.3 244.5,433.8 244.8,435.2 246.5,444.1 248.2,448.6 248.4,447.6 248.6,448.1 249.0,450.7 249.4,452.0 249.5,451.7 249.7,452.0 250.1,451.7 250.7,453.2 251.2,452.9 251.4,452.2 251.6,452.8 251.8,452.9 252.6,455.9 252.7,455.1 252.9,455.1 253.5,457.6 253.7,457.2 253.9,457.7 254.1,457.1 254.4,458.7 254.8,459.3 255.0,458.3 255.8,461.7 256.0,461.6 256.1,462.0 256.3,461.4 256.5,461.4 256.9,461.1 257.1,461.3 257.6,463.6 257.8,463.1 258.0,462.9 258.2,463.0 258.4,464.1 259.0,463.2 259.5,464.7 259.7,464.3 259.9,464.5 260.1,463.7 260.5,464.3 260.7,463.6 260.8,463.6 261.0,463.3 261.2,464.8 261.4,464.4 261.6,464.9 261.8,464.1 262.0,464.5 262.2,464.2 262.4,464.5 262.7,464.0 263.7,465.7 263.9,465.3 264.0,465.8 264.2,465.2 264.4,465.5 264.6,464.7 264.8,464.9 265.0,465.8 265.2,465.9 265.9,464.9 266.1,464.3 266.5,464.0 266.7,463.5 266.9,463.6 267.1,463.5 267.2,464.9 267.6,465.9 267.8,464.7 268.0,465.1 268.4,465.1 268.6,464.4 268.8,464.4 268.9,464.9 269.3,464.3 269.5,464.8 269.7,464.7 270.1,463.3 270.4,463.1 270.8,457.7 271.2,446.2 272.5,382.1 272.9,372.7 273.3,369.8 273.5,370.2 274.0,375.5 274.2,375.4 274.6,379.4 276.3,406.2 278.2,432.1 279.7,440.7 281.0,445.0 281.2,444.6 281.6,444.5 281.9,445.8 282.3,445.5 282.5,445.7 282.7,445.7 283.1,446.3 283.2,447.4 283.4,447.0 284.0,448.2 284.6,447.7 285.1,451.4 285.3,451.1 285.7,452.6 286.3,458.6 286.6,460.5 286.8,460.4 287.0,462.7 287.4,464.2 287.6,462.6 287.8,462.7 288.1,464.6 288.3,464.8 288.5,464.3 288.7,464.3 288.9,463.5 289.1,463.4 289.6,464.5 289.8,464.3 290.2,465.5 290.4,464.9 290.6,465.3 290.8,465.0 291.0,465.5 291.5,464.5 291.9,465.9 292.1,465.9 292.5,464.7 292.7,464.7 292.8,465.2 293.0,464.8 293.6,465.6" stroke="#6a4cc8" stroke-width="1.3666666666666665" fill="none" stroke-linejoin="round" stroke-linecap="round" />
<path d="M67.7,465.3 76.4,465.3 77.3,465.1 78.1,464.7 80.1,462.8 81.8,459.6 82.8,456.9 84.3,450.2 84.8,448.7 85.0,448.6 85.4,448.7 86.7,451.9 87.5,452.8 87.8,452.7 88.4,452.3 89.5,450.7 90.1,448.4 90.7,442.6 92.0,414.0 92.4,409.0 92.5,408.3 92.7,409.1 93.1,414.9 94.2,442.0 95.0,450.6 95.6,452.9 96.3,454.3 99.9,459.0 100.5,459.4 101.0,459.3 101.8,458.3 102.7,455.4 107.0,434.6 110.6,420.7 112.9,413.9 114.6,410.2 116.5,406.9 128.3,388.9 131.0,384.6 132.6,381.3 135.7,374.2 137.0,371.9 138.5,370.4 141.1,368.9 150.5,365.2 152.8,364.7 153.7,364.9 154.9,365.3 159.0,368.4 163.7,371.2 165.8,371.8 167.1,371.5 168.2,370.4 169.7,367.8 178.0,350.1 181.4,345.3 182.5,344.4 183.5,344.1 184.4,344.5 185.4,345.9 191.8,360.7 195.3,367.5 198.3,372.6 200.2,375.3 202.1,377.6 207.9,383.0 210.0,385.2 212.1,388.0 213.4,390.4 214.3,393.0 215.1,395.9 218.7,414.3 222.6,430.5 225.1,438.1 227.3,443.5 228.7,446.0 229.8,447.2 230.9,447.4 232.6,446.6 234.7,444.9 237.1,442.5 239.2,439.8 241.6,436.1 243.5,432.2 244.1,431.6 244.7,432.8 246.2,441.4 247.1,444.9 248.2,447.8 248.4,448.7 248.6,448.6 249.0,447.3 249.5,450.6 249.7,449.7 249.9,450.5 250.1,449.9 250.3,451.0 250.5,450.1 250.7,451.0 250.9,451.0 251.1,452.3 251.4,452.6 252.0,455.8 252.4,454.6 252.6,454.5 253.7,456.8 254.1,456.0 254.6,458.9 254.8,459.1 255.0,458.8 255.4,459.2 255.6,460.2 256.1,461.6 256.7,460.8 257.3,462.5 257.5,462.2 257.6,463.0 257.8,462.7 258.0,464.2 258.2,464.2 258.4,464.4 258.6,463.5 259.0,463.5 259.3,464.2 259.5,463.5 260.1,464.3 260.5,464.1 261.0,464.7 261.4,464.7 261.6,464.1 262.2,465.7 262.7,462.3 262.9,463.6 263.3,464.5 264.0,464.2 264.4,464.6 265.2,463.2 265.4,463.3 265.6,464.1 265.9,464.6 266.7,464.0 266.9,464.9 267.1,464.2 267.4,465.0 267.6,466.3 267.8,465.8 268.0,465.9 268.2,465.3 268.4,466.0 269.3,463.7 269.7,463.8 269.9,463.6 270.1,463.9 270.6,460.4 271.4,437.4 272.5,377.9 272.9,368.6 273.3,364.7 273.5,364.4 273.8,366.0 274.8,377.0 277.0,416.7 278.9,437.0 279.3,438.1 279.5,437.8 279.9,438.7 280.0,439.7 280.6,440.3 281.4,443.1 281.7,443.6 282.1,444.5 282.3,444.8 282.7,444.1 282.9,444.0 283.6,445.7 284.0,446.0 284.2,446.8 284.4,446.8 284.6,447.6 284.8,447.6 285.5,451.5 287.0,463.9 287.2,463.7 287.4,463.9 287.6,463.5 288.1,466.6 288.3,466.4 288.9,464.2 289.3,464.9 289.8,464.3 290.0,464.5 290.2,465.8 290.4,465.7 290.6,465.5 291.0,463.1 291.5,464.3 291.7,464.3 291.9,463.9 292.1,463.9 292.5,465.2 292.8,464.1 293.4,467.0 293.6,466.7" stroke="#4a2c84" stroke-width="1.4" fill="none" stroke-linejoin="round" stroke-linecap="round" />
<rect x="49.00" y="271.90" width="264.00" height="212.70" fill="none" stroke="#111" stroke-width="1.75"/>
<line x1="48.88" y1="484.60" x2="48.88" y2="486.60" stroke="#161616" stroke-width="1.3" />
<line x1="67.70" y1="484.60" x2="67.70" y2="488.60" stroke="#161616" stroke-width="1.3" />
<text transform="translate(67.70,501.00) translate(-13.00,0) scale(0.9821,1)" font-weight="bold" font-style="normal" fill="#161616"  stroke="#161616" stroke-width="0.28"><tspan dy="-0.00" font-size="11.90">4000</tspan></text>
<line x1="86.53" y1="484.60" x2="86.53" y2="486.60" stroke="#161616" stroke-width="1.3" />
<line x1="105.35" y1="484.60" x2="105.35" y2="488.60" stroke="#161616" stroke-width="1.3" />
<text transform="translate(105.35,501.00) translate(-13.00,0) scale(0.9821,1)" font-weight="bold" font-style="normal" fill="#161616"  stroke="#161616" stroke-width="0.28"><tspan dy="-0.00" font-size="11.90">3500</tspan></text>
<line x1="124.18" y1="484.60" x2="124.18" y2="486.60" stroke="#161616" stroke-width="1.3" />
<line x1="143.00" y1="484.60" x2="143.00" y2="488.60" stroke="#161616" stroke-width="1.3" />
<text transform="translate(143.00,501.00) translate(-13.00,0) scale(0.9821,1)" font-weight="bold" font-style="normal" fill="#161616"  stroke="#161616" stroke-width="0.28"><tspan dy="-0.00" font-size="11.90">3000</tspan></text>
<line x1="161.83" y1="484.60" x2="161.83" y2="486.60" stroke="#161616" stroke-width="1.3" />
<line x1="180.65" y1="484.60" x2="180.65" y2="488.60" stroke="#161616" stroke-width="1.3" />
<text transform="translate(180.65,501.00) translate(-13.00,0) scale(0.9821,1)" font-weight="bold" font-style="normal" fill="#161616"  stroke="#161616" stroke-width="0.28"><tspan dy="-0.00" font-size="11.90">2500</tspan></text>
<line x1="199.48" y1="484.60" x2="199.48" y2="486.60" stroke="#161616" stroke-width="1.3" />
<line x1="218.30" y1="484.60" x2="218.30" y2="488.60" stroke="#161616" stroke-width="1.3" />
<text transform="translate(218.30,501.00) translate(-13.00,0) scale(0.9821,1)" font-weight="bold" font-style="normal" fill="#161616"  stroke="#161616" stroke-width="0.28"><tspan dy="-0.00" font-size="11.90">2000</tspan></text>
<line x1="237.12" y1="484.60" x2="237.12" y2="486.60" stroke="#161616" stroke-width="1.3" />
<line x1="255.95" y1="484.60" x2="255.95" y2="488.60" stroke="#161616" stroke-width="1.3" />
<text transform="translate(255.95,501.00) translate(-13.00,0) scale(0.9821,1)" font-weight="bold" font-style="normal" fill="#161616"  stroke="#161616" stroke-width="0.28"><tspan dy="-0.00" font-size="11.90">1500</tspan></text>
<line x1="274.78" y1="484.60" x2="274.78" y2="486.60" stroke="#161616" stroke-width="1.3" />
<line x1="293.60" y1="484.60" x2="293.60" y2="488.60" stroke="#161616" stroke-width="1.3" />
<text transform="translate(293.60,501.00) translate(-13.00,0) scale(0.9821,1)" font-weight="bold" font-style="normal" fill="#161616"  stroke="#161616" stroke-width="0.28"><tspan dy="-0.00" font-size="11.90">1000</tspan></text>
<line x1="312.43" y1="484.60" x2="312.43" y2="486.60" stroke="#161616" stroke-width="1.3" />
<text transform="translate(180.80,523.60) translate(-61.50,0) scale(0.9669,1)" font-weight="bold" font-style="normal" fill="#161616"  stroke="#161616" stroke-width="0.28"><tspan dy="-0.00" font-size="13.80">Wavenumber (cm</tspan><tspan dy="-6.21" font-size="9.11">-1</tspan><tspan dy="6.21" font-size="13.80">)</tspan></text>
<text transform="translate(31.10,377.90) rotate(-90) translate(-54.50,0) scale(0.9703,1)" font-weight="bold" font-style="normal" fill="#161616"  stroke="#161616" stroke-width="0.28"><tspan dy="-0.00" font-size="13.30">Absorbance (a.u.)</tspan></text>
<text transform="translate(55.40,288.80) translate(0.00,0) scale(1.0259,1)" font-weight="bold" font-style="normal" fill="#161616"  stroke="#161616" stroke-width="0.28"><tspan dy="-0.00" font-size="10.90">NO</tspan><tspan dy="2.18" font-size="7.19">2</tspan><tspan dy="-2.18" font-size="10.90">/Air ads.—in situ DRIFTS</tspan></text>
<text transform="translate(259.70,288.50) translate(0.00,0) scale(1.0184,1)" font-weight="bold" font-style="normal" fill="#52309a"  stroke="#52309a" stroke-width="0.28"><tspan dy="-0.00" font-size="10.90">Ni-LTA-3</tspan></text>
<line x1="80.40" y1="310.50" x2="80.40" y2="446.00" stroke="#111" stroke-width="1.45" stroke-dasharray="8,7.3" stroke-dashoffset="0"/>
<line x1="189.20" y1="310.50" x2="189.20" y2="352.00" stroke="#111" stroke-width="1.45" stroke-dasharray="8,7.3" stroke-dashoffset="0"/>
<line x1="192.70" y1="338.00" x2="192.70" y2="424.00" stroke="#111" stroke-width="1.45" stroke-dasharray="8,7.3" stroke-dashoffset="0"/>
<line x1="83.40" y1="313.30" x2="119.30" y2="313.30" stroke="#161616" stroke-width="1.3" />
<path d="M81.00,313.30 L90.60,310.80 L89.80,313.30 L90.60,315.80 Z" fill="#161616"/>
<line x1="147.90" y1="313.30" x2="186.20" y2="313.30" stroke="#161616" stroke-width="1.3" />
<path d="M188.60,313.30 L179.00,310.80 L179.80,313.30 L179.00,315.80 Z" fill="#161616"/>
<text transform="translate(125.80,316.00) translate(0.00,0) scale(0.9322,1)" font-weight="bold" font-style="normal" fill="#161616"  stroke="#161616" stroke-width="0.28"><tspan dy="-0.00" font-size="10.30">O-H</tspan></text>
<text transform="translate(102.90,329.30) translate(0.00,0) scale(0.9557,1)" font-weight="bold" font-style="normal" fill="#161616"  stroke="#161616" stroke-width="0.28"><tspan dy="-0.00" font-size="10.30">(HNO</tspan><tspan dy="2.06" font-size="6.80">x</tspan><tspan dy="-2.06" font-size="10.30"> &amp; H</tspan><tspan dy="2.06" font-size="6.80">2</tspan><tspan dy="-2.06" font-size="10.30">O)</tspan></text>
<text transform="translate(191.20,304.50) translate(0.00,0) scale(0.9428,1)" font-weight="bold" font-style="normal" fill="#161616"  stroke="#161616" stroke-width="0.28"><tspan dy="-0.00" font-size="10.30">N-O</tspan></text>
<text transform="translate(191.20,317.80) translate(0.00,0) scale(0.9747,1)" font-weight="bold" font-style="normal" fill="#161616"  stroke="#161616" stroke-width="0.28"><tspan dy="-0.00" font-size="10.30">(NO</tspan><tspan dy="2.06" font-size="6.80">2</tspan><tspan dy="-6.70" font-size="6.80">+</tspan><tspan dy="4.64" font-size="10.30">)</tspan></text>
<text transform="translate(191.90,334.80) translate(0.00,0) scale(0.9252,1)" font-weight="bold" font-style="normal" fill="#161616"  stroke="#161616" stroke-width="0.28"><tspan dy="-0.00" font-size="10.30">2355</tspan></text>
<text transform="translate(212.30,344.40) translate(0.00,0) scale(0.9428,1)" font-weight="bold" font-style="normal" fill="#161616"  stroke="#161616" stroke-width="0.28"><tspan dy="-0.00" font-size="10.30">N-O</tspan></text>
<text transform="translate(205.50,358.70) translate(0.00,0) scale(0.9360,1)" font-weight="bold" font-style="normal" fill="#161616"  stroke="#161616" stroke-width="0.28"><tspan dy="-0.00" font-size="10.30">(NO</tspan><tspan dy="-4.64" font-size="6.80">+</tspan><tspan dy="4.64" font-size="10.30">)</tspan></text>
<text transform="translate(208.20,372.40) translate(0.00,0) scale(0.9800,1)" font-weight="bold" font-style="normal" fill="#161616"  stroke="#161616" stroke-width="0.28"><tspan dy="-0.00" font-size="10.30">2110</tspan></text>
<line x1="211.10" y1="376.00" x2="211.10" y2="384.00" stroke="#111" stroke-width="1.45" stroke-dasharray="8,7.3" stroke-dashoffset="0"/>
<text transform="translate(262.80,308.20) translate(0.00,0) scale(0.8951,1)" font-weight="bold" font-style="normal" fill="#161616"  stroke="#161616" stroke-width="0.28"><tspan dy="-0.00" font-size="10.30">N-O</tspan></text>
<text transform="translate(230.70,321.90) translate(0.00,0) scale(0.9509,1)" font-weight="bold" font-style="normal" fill="#161616"  stroke="#161616" stroke-width="0.28"><tspan dy="-0.00" font-size="10.30">(HNO</tspan><tspan dy="2.06" font-size="6.80">3</tspan><tspan dy="-2.06" font-size="10.30"> and HNO</tspan><tspan dy="2.06" font-size="6.80">2</tspan><tspan dy="-2.06" font-size="10.30">)</tspan></text>
<text transform="translate(242.30,337.20) translate(0.00,0) scale(0.9620,1)" font-weight="bold" font-style="normal" fill="#161616"  stroke="#161616" stroke-width="0.28"><tspan dy="-0.00" font-size="10.30">1262 &amp; 1141</tspan></text>
<line x1="273.00" y1="341.30" x2="273.00" y2="363.00" stroke="#111" stroke-width="1.45" stroke-dasharray="8,7.3" stroke-dashoffset="0"/>
<line x1="283.20" y1="341.30" x2="283.20" y2="445.00" stroke="#111" stroke-width="1.45" stroke-dasharray="8,7.3" stroke-dashoffset="0"/>
<text transform="translate(235.20,385.30) translate(0.00,0) scale(0.9216,1)" font-weight="bold" font-style="normal" fill="#161616"  stroke="#161616" stroke-width="0.28"><tspan dy="-0.00" font-size="10.30">N-O</tspan></text>
<text transform="translate(232.10,398.50) translate(0.00,0) scale(0.9390,1)" font-weight="bold" font-style="normal" fill="#161616"  stroke="#161616" stroke-width="0.28"><tspan dy="-0.00" font-size="10.30">(NO</tspan><tspan dy="2.06" font-size="6.80">2</tspan><tspan dy="-2.06" font-size="10.30">)</tspan></text>
<text transform="translate(234.20,414.50) translate(0.00,0) scale(0.9165,1)" font-weight="bold" font-style="normal" fill="#161616"  stroke="#161616" stroke-width="0.28"><tspan dy="-0.00" font-size="10.30">1650</tspan></text>
<line x1="244.60" y1="417.90" x2="244.60" y2="427.00" stroke="#111" stroke-width="1.45" stroke-dasharray="8,7.3" stroke-dashoffset="0"/>
<path d="M437.2,464.3 458.3,464.1 458.8,463.8 459.4,463.0 460.7,458.5 461.1,457.8 461.3,457.7 461.7,458.5 463.0,463.2 463.6,463.9 464.5,464.1 470.7,464.3 479.2,463.6 501.8,463.3 538.5,463.6 552.8,463.4 583.8,463.9 598.3,464.4 609.6,464.3 615.1,464.0 620.7,464.3 621.1,464.0 621.5,464.9 622.1,463.6 622.2,464.1 622.6,464.1 622.8,463.9 623.0,464.2 623.2,464.0 623.4,464.9 623.8,465.4 623.9,464.1 624.3,463.7 624.5,464.6 624.9,464.8 625.1,464.1 625.3,464.3 625.5,463.8 625.8,463.4 626.2,464.7 626.4,464.8 626.6,464.3 627.1,464.4 627.3,464.1 627.5,464.1 627.7,464.7 628.1,464.8 628.5,463.9 629.0,464.6 629.6,463.5 630.2,465.5 630.3,465.6 630.9,464.4 631.3,464.3 631.5,465.1 631.7,465.2 632.2,464.0 632.4,464.5 632.8,464.6 633.0,464.0 633.5,465.1 633.9,464.1 634.5,465.6 634.7,464.4 635.1,463.8 635.2,464.6 635.4,464.4 636.0,465.0 636.6,464.3 636.9,463.4 637.5,464.4 637.9,464.2 638.1,464.7 638.3,464.8 638.8,463.6 639.4,464.3 640.1,463.3 640.7,464.0 641.3,463.6 641.8,463.7 642.4,463.1 642.6,463.6 642.8,463.1 643.3,463.3 643.5,462.7 644.3,463.4 644.5,463.2 644.7,463.7 644.8,463.1 645.6,463.9 645.8,463.8 646.0,464.3 646.3,464.5 646.5,464.0 646.9,463.7 647.3,464.8 647.7,464.8 648.4,464.1 648.6,464.2 648.8,465.0 649.2,465.2 649.4,464.6 649.7,464.7 649.9,464.3 650.3,464.5 650.5,465.0 650.7,465.0 651.1,463.9 651.6,464.1 652.2,464.0 652.4,464.2 652.6,463.8 652.9,463.7 653.1,464.0 653.5,464.0 653.9,464.7 654.3,464.3 654.6,464.5 655.0,464.0 655.8,463.6 656.5,465.5 656.9,465.3 657.1,464.4 657.5,464.5 657.8,464.0 658.4,464.6 658.6,464.5 658.8,465.1 659.1,464.6 659.3,463.8 660.1,465.4 660.5,464.6 660.7,465.0 660.8,464.8 661.0,465.1 661.4,464.9 661.8,464.2 662.5,465.1 662.7,465.1 663.1,464.2" stroke="#f9eed8" stroke-width="1.2" fill="none" stroke-linejoin="round" stroke-linecap="round" />
<path d="M437.2,463.3 445.9,463.1 454.0,462.0 455.1,462.0 457.2,462.6 458.3,462.5 458.8,461.9 459.4,460.3 460.7,451.3 461.1,449.8 461.3,449.8 461.7,451.3 462.8,459.8 463.2,461.3 463.6,462.1 464.3,462.5 466.9,462.4 470.1,463.3 471.8,463.0 476.4,460.7 478.2,460.0 483.3,459.4 488.8,459.5 498.9,458.7 504.8,458.5 512.1,458.8 521.5,458.8 530.4,459.6 539.0,460.0 552.6,459.0 556.2,459.3 561.3,460.2 565.8,460.6 583.8,461.4 592.9,463.5 598.0,463.9 602.5,463.9 609.3,463.4 612.1,462.9 614.5,462.0 615.5,462.0 618.9,462.5 620.7,463.6 620.9,463.9 621.5,463.9 622.2,464.6 622.8,463.7 623.4,464.6 623.6,464.1 623.8,464.0 624.3,465.2 624.7,464.9 624.9,465.1 625.5,463.6 625.6,463.7 626.0,464.7 626.2,464.5 626.4,464.6 626.6,464.0 626.8,464.4 627.0,464.0 627.1,464.8 627.7,464.4 628.1,465.0 628.3,465.1 628.5,464.6 628.8,464.7 629.2,465.8 629.8,463.8 630.3,464.7 631.1,463.5 631.3,464.1 631.7,464.0 631.9,463.7 632.0,463.9 632.4,465.0 633.0,464.0 633.2,464.6 633.4,464.5 633.5,465.1 633.9,464.6 634.3,464.6 634.5,465.2 634.9,465.5 635.4,464.7 635.8,463.7 636.4,464.9 636.6,464.4 636.7,464.6 636.9,464.3 637.1,464.5 637.3,464.4 637.5,464.9 637.9,464.8 638.3,463.9 638.8,464.5 639.0,463.8 639.2,463.7 639.6,464.1 639.9,462.8 640.1,462.9 640.7,460.2 641.1,460.2 641.5,460.5 642.0,458.4 642.4,459.4 643.1,458.2 643.3,458.3 643.5,458.4 643.7,459.4 643.9,459.0 644.1,459.3 644.3,459.1 644.5,459.5 644.7,459.2 645.0,459.8 645.2,460.8 645.4,460.5 645.6,461.0 645.8,460.2 646.0,460.9 646.2,460.7 646.3,461.5 646.5,461.5 646.7,461.9 646.9,461.7 647.5,462.5 647.7,462.5 647.9,462.2 648.6,462.1 649.2,463.0 649.4,462.5 649.5,462.8 649.7,462.7 649.9,463.0 650.1,462.4 651.2,463.3 651.4,463.4 651.8,463.2 652.4,464.2 653.1,462.9 653.7,463.7 654.1,463.7 654.3,463.3 654.4,463.5 654.6,463.4 654.8,463.7 655.4,462.8 656.1,464.8 656.5,464.1 656.7,464.1 657.1,464.7 657.5,464.7 657.8,464.1 658.2,464.8 658.4,464.8 658.6,464.2 658.8,464.4 659.0,464.3 659.5,465.3 659.9,463.7 660.3,463.9 660.8,465.2 661.2,464.6 661.4,464.7 662.0,464.6 662.2,465.1 662.5,465.1 663.1,464.2" stroke="#f7e6c8" stroke-width="1.2444444444444445" fill="none" stroke-linejoin="round" stroke-linecap="round" />
<path d="M437.2,461.2 441.7,461.0 445.9,460.4 449.8,459.2 452.8,457.7 454.0,457.4 455.1,457.6 457.2,459.2 457.7,459.3 458.3,459.1 458.8,458.2 459.4,455.7 460.7,442.1 461.1,440.0 461.3,439.9 461.7,442.1 462.8,454.9 463.4,457.9 463.7,458.6 464.1,458.8 466.2,458.5 466.9,458.7 469.2,460.6 470.1,461.1 470.9,461.0 471.6,460.4 477.1,453.0 478.2,451.9 479.4,451.2 483.5,450.2 486.3,450.6 489.5,450.3 493.9,449.6 498.8,448.3 504.6,447.7 509.5,448.4 512.3,448.6 521.5,448.7 526.2,450.0 529.8,450.7 538.5,451.9 541.9,451.5 550.9,449.2 552.2,449.1 553.5,449.2 557.9,450.7 561.3,452.5 563.0,452.6 565.8,453.5 571.8,454.4 580.6,455.1 583.8,455.7 585.4,456.4 590.4,460.1 593.1,461.7 595.1,462.4 598.9,463.0 601.0,463.0 603.0,462.8 609.8,461.1 612.3,460.0 614.5,457.6 615.3,457.4 616.8,458.2 618.1,458.3 618.7,458.7 620.7,461.9 620.9,461.6 621.5,463.4 621.9,462.8 622.1,463.0 622.2,463.4 622.6,463.4 623.4,464.7 624.1,463.8 624.3,464.0 624.7,463.7 625.1,463.0 625.6,464.6 626.0,464.8 626.4,463.6 626.8,464.0 627.0,465.0 627.3,464.5 627.9,465.0 628.1,464.4 628.5,464.7 628.8,464.6 629.4,463.2 629.8,463.8 630.0,464.7 630.2,464.3 630.3,464.5 630.5,464.4 630.7,464.9 630.9,464.0 631.1,464.6 631.3,464.4 631.5,464.9 631.9,464.4 632.0,464.8 632.2,464.9 632.4,464.6 633.0,465.3 633.4,463.6 633.5,463.9 633.7,463.5 633.9,463.7 634.1,463.5 634.3,463.9 634.7,464.0 634.9,463.6 635.6,464.0 635.8,463.7 636.0,464.2 636.2,464.2 636.6,465.4 636.7,465.3 636.9,464.1 637.7,462.6 637.9,462.5 638.1,463.4 638.4,463.8 639.0,463.2 639.4,462.3 641.3,453.8 641.8,449.4 642.2,449.5 642.4,448.9 642.8,449.6 643.0,449.6 643.3,447.7 643.7,448.1 643.9,448.8 644.1,448.8 644.5,450.4 645.0,451.6 645.4,453.7 646.0,454.0 646.3,454.8 646.7,457.2 646.9,457.5 647.1,457.0 647.3,457.1 647.7,459.2 647.9,459.2 648.4,460.2 648.6,459.8 649.2,460.4 649.5,459.7 649.9,460.6 650.5,459.9 651.1,461.1 651.4,460.5 652.0,460.2 652.6,462.5 652.9,461.4 653.3,461.4 653.7,461.6 653.9,462.1 654.3,461.7 654.8,463.0 655.4,461.8 655.8,462.1 656.1,463.0 656.3,462.7 656.9,464.2 657.3,463.4 657.5,463.6 657.6,463.2 657.8,463.7 658.0,463.4 658.2,464.0 658.6,463.4 658.8,463.5 659.5,464.2 659.7,464.8 660.3,464.0 660.5,464.6 660.7,464.0 660.8,464.2 661.0,464.1 661.4,464.8 661.6,464.5 661.8,464.6 662.0,463.8 662.3,463.8 662.7,464.8 663.1,464.9" stroke="#f5ddb6" stroke-width="1.288888888888889" fill="none" stroke-linejoin="round" stroke-linecap="round" />
<path d="M437.2,458.4 441.7,458.0 445.9,457.0 449.8,454.7 452.8,452.0 454.0,451.3 454.5,451.3 455.1,451.8 457.0,454.6 457.7,454.9 458.3,454.6 458.8,453.4 459.4,450.0 460.7,431.8 461.1,429.0 461.3,428.9 461.7,431.8 462.8,448.8 463.4,452.8 463.7,453.7 464.1,454.0 466.2,453.4 466.9,453.7 469.4,457.5 470.3,458.3 471.1,457.8 471.8,456.5 474.3,449.9 477.5,442.3 478.4,440.7 479.4,439.8 483.5,438.0 484.3,438.0 486.3,438.7 489.5,438.2 493.9,436.7 498.8,434.4 502.1,433.6 504.6,433.3 506.1,433.6 509.5,434.6 512.3,435.0 515.1,435.2 520.2,435.0 521.5,435.1 522.9,435.6 526.2,437.5 529.8,438.9 534.1,440.2 538.5,441.1 540.0,441.0 541.9,440.4 550.9,436.1 552.0,435.8 553.2,435.9 554.9,436.6 557.5,438.5 561.3,442.1 563.0,442.4 565.8,444.0 568.6,445.0 571.8,445.7 580.6,447.0 583.8,448.2 585.4,449.5 588.0,453.1 592.5,458.7 594.2,460.1 596.5,461.1 599.3,461.7 601.5,461.7 604.2,460.9 608.7,458.8 610.6,457.7 612.1,456.3 613.0,454.9 614.5,451.7 614.9,451.3 615.3,451.2 616.8,452.7 618.1,453.1 618.7,453.7 620.7,459.6 621.1,460.0 621.5,462.2 621.7,462.3 622.1,461.8 622.2,462.5 622.6,462.6 623.2,464.3 623.8,463.0 623.9,463.8 624.1,463.6 624.3,464.1 624.7,464.3 625.1,463.2 625.3,463.2 625.8,463.5 626.2,464.8 626.4,464.5 626.6,464.5 626.8,463.7 627.1,464.4 627.3,464.0 627.5,464.2 627.7,463.5 628.3,463.0 628.7,464.2 628.8,464.2 629.2,463.3 629.8,464.5 630.0,464.2 630.2,464.4 630.3,463.3 630.9,464.4 631.3,462.8 631.5,462.7 631.9,462.7 632.4,464.9 632.8,464.5 633.0,463.8 633.2,464.2 633.5,464.3 633.7,463.6 634.1,463.3 634.5,463.9 634.9,463.2 635.2,464.7 635.4,464.7 635.6,464.3 635.8,464.1 636.0,464.2 636.2,463.9 636.6,463.8 636.7,463.4 637.1,464.0 637.3,465.0 637.7,464.7 638.6,461.9 638.8,462.1 639.0,461.7 639.2,460.8 639.6,457.2 640.1,454.3 640.7,446.3 641.6,438.0 642.0,437.9 642.6,434.5 642.8,434.6 643.0,435.6 643.1,435.6 643.3,436.0 643.5,435.9 644.1,437.0 645.4,444.4 646.9,450.2 647.1,452.2 647.3,451.8 647.5,452.5 647.7,452.2 648.2,455.0 648.4,455.2 649.0,453.7 649.9,457.0 650.1,456.5 650.3,456.8 650.9,458.4 651.1,458.0 651.4,457.9 651.6,458.6 651.8,458.6 652.4,457.2 653.3,459.5 653.5,458.6 653.9,458.2 654.3,459.9 654.6,460.0 654.8,459.0 655.2,459.2 655.9,462.3 656.1,461.6 656.7,463.6 656.9,463.1 657.3,463.3 658.0,465.1 658.2,464.1 658.6,463.6 658.8,463.9 659.0,463.7 659.1,462.9 659.5,463.8 659.7,465.0 660.1,465.4 660.5,465.3 660.7,464.2 661.0,463.8 661.4,465.4 661.8,465.4 662.0,465.1 662.2,465.9 662.7,464.9 662.9,465.1 663.1,464.9" stroke="#f3d4a3" stroke-width="1.3333333333333335" fill="none" stroke-linejoin="round" stroke-linecap="round" />
<path d="M437.2,453.6 439.5,453.4 441.7,452.9 444.4,452.0 445.9,451.2 447.6,449.7 449.8,447.1 452.8,442.3 454.0,441.1 454.5,441.2 455.1,441.9 457.0,447.0 457.3,447.4 457.7,447.5 458.3,447.1 458.8,445.3 459.4,440.3 460.7,413.9 461.1,409.7 461.3,409.6 461.7,413.8 462.8,438.5 463.4,444.2 463.7,445.6 464.1,446.0 464.7,445.9 466.2,444.9 466.6,445.0 466.9,445.4 469.4,452.2 470.0,453.2 470.3,453.4 470.7,453.3 471.1,452.7 471.8,450.4 474.3,438.7 477.5,425.3 478.4,422.5 479.4,420.8 483.5,417.6 484.3,417.6 485.6,418.5 486.3,418.8 487.5,418.7 489.5,418.0 493.9,415.4 497.4,412.2 498.8,411.2 502.1,409.7 504.6,409.4 506.1,409.8 509.5,411.7 512.3,412.3 515.1,412.6 520.2,412.3 521.5,412.5 522.9,413.3 526.2,416.7 529.8,419.2 534.1,421.5 537.0,422.7 538.5,423.1 540.0,422.9 541.9,421.9 546.9,417.8 550.9,414.2 552.0,413.8 553.2,413.9 554.9,415.2 557.5,418.5 559.0,420.8 561.3,424.9 561.6,425.2 563.0,425.5 565.8,428.3 568.6,429.9 571.8,431.3 574.1,432.0 578.8,433.0 580.6,433.6 582.3,434.5 583.8,435.7 584.6,436.6 585.4,438.0 588.0,444.4 592.5,454.2 594.2,456.7 596.5,458.4 598.0,459.2 599.3,459.6 600.4,459.7 601.5,459.5 604.2,458.1 608.7,454.5 610.6,452.4 612.1,450.1 613.0,447.6 614.5,441.9 614.9,441.2 615.3,441.0 615.7,441.4 616.8,443.7 617.2,443.9 617.9,444.1 618.5,444.9 619.2,447.8 620.7,455.8 620.9,455.7 621.5,458.9 621.7,459.1 622.4,462.1 623.0,460.4 623.2,461.9 623.6,462.5 623.8,462.1 624.3,464.0 624.5,463.6 624.9,464.7 625.3,464.1 625.5,463.1 625.6,463.6 625.8,463.2 626.0,463.8 626.4,464.2 626.8,464.0 627.0,463.4 627.3,463.3 627.5,464.6 627.7,464.5 627.9,464.7 628.1,463.9 628.7,462.7 629.0,462.4 629.2,462.9 629.6,463.0 629.8,461.8 630.0,462.4 630.2,462.5 630.3,463.6 630.5,462.9 630.9,463.3 631.3,462.5 631.5,462.5 631.7,463.2 631.9,463.2 632.0,462.9 632.4,463.3 632.6,463.9 632.8,463.1 633.2,462.8 633.4,463.6 633.9,462.8 634.7,463.9 634.9,463.6 635.1,463.7 635.6,462.9 635.8,462.9 636.0,462.4 636.4,462.1 636.7,462.7 636.9,462.3 637.5,464.5 638.1,462.7 638.4,462.8 639.2,458.8 641.8,417.1 642.0,415.7 642.6,413.9 642.8,412.1 643.1,412.0 643.3,413.2 643.5,412.7 643.7,413.3 644.3,419.2 644.5,419.3 644.7,420.2 645.6,427.8 646.3,436.4 647.3,441.9 648.8,448.9 649.0,449.0 649.2,448.8 649.7,450.8 649.9,450.2 650.1,451.3 650.5,450.9 650.7,450.3 651.1,452.4 651.2,451.9 651.4,452.5 651.6,452.0 651.8,452.9 652.0,452.9 652.2,452.3 652.4,452.7 652.6,452.6 652.7,454.5 652.9,454.1 653.1,454.4 653.3,454.0 653.5,454.5 653.7,454.1 653.9,454.1 654.1,454.5 654.6,456.4 654.8,456.2 655.0,457.1 655.2,456.9 655.6,457.5 656.7,462.4 656.9,461.7 657.1,462.2 657.5,465.3 657.6,465.3 658.0,464.2 658.4,464.1 658.8,464.3 659.3,465.6 659.7,465.2 659.9,464.6 660.1,464.9 660.3,464.7 660.5,465.3 661.0,464.0 661.6,465.9 662.0,466.1 662.3,465.2 662.9,466.3 663.1,465.9" stroke="#f1c98e" stroke-width="1.3777777777777778" fill="none" stroke-linejoin="round" stroke-linecap="round" />
<path d="M437.2,450.1 439.5,449.8 441.7,449.1 444.4,448.0 445.9,446.8 447.6,444.8 449.8,441.5 452.8,435.1 454.0,433.5 454.5,433.6 455.1,434.6 457.0,441.2 457.3,441.8 457.7,442.0 458.3,441.4 458.8,439.3 459.4,433.2 460.7,401.3 461.1,396.3 461.3,396.1 461.7,401.2 462.8,431.0 463.4,437.9 463.7,439.5 464.1,440.0 464.7,439.8 466.0,438.6 466.4,438.5 466.8,438.8 467.5,440.8 469.4,448.1 470.0,449.5 470.3,449.8 470.7,449.6 471.1,448.8 471.8,445.7 474.3,430.3 477.5,412.5 478.4,408.8 479.4,406.6 483.5,402.2 484.3,402.3 485.6,403.6 486.3,403.9 487.5,403.8 489.5,402.8 491.4,401.5 493.9,399.4 497.4,395.1 498.8,393.8 502.1,391.9 503.5,391.5 504.6,391.4 506.1,391.9 509.5,394.4 512.3,395.3 515.1,395.7 520.2,395.2 521.5,395.5 522.9,396.7 526.2,401.1 529.8,404.4 534.1,407.5 537.0,409.1 538.5,409.6 540.0,409.4 541.9,408.1 546.9,402.6 549.8,399.0 550.9,397.9 552.0,397.3 553.2,397.4 553.9,398.0 554.9,399.1 557.5,403.5 559.0,406.5 561.3,412.0 561.6,412.4 562.6,412.5 563.0,412.8 564.8,415.4 565.8,416.5 568.6,418.6 571.8,420.4 574.1,421.4 578.8,422.7 580.6,423.5 582.3,424.7 583.8,426.3 584.6,427.5 585.4,429.3 588.0,437.9 592.5,450.8 594.2,454.1 596.5,456.4 598.0,457.5 599.3,458.0 600.4,458.2 601.5,457.9 602.9,457.1 604.2,456.0 608.7,451.2 610.6,448.5 612.1,445.4 613.0,442.0 614.5,434.5 614.9,433.6 615.3,433.3 615.7,433.9 616.8,436.9 617.2,437.2 618.1,437.7 618.7,439.2 621.7,459.0 622.2,460.6 622.4,460.4 622.6,461.3 622.8,461.4 623.0,462.7 623.2,462.1 623.8,461.4 623.9,462.3 624.1,461.8 624.3,463.1 624.9,461.9 625.1,462.0 625.5,463.2 625.6,462.8 625.8,464.0 626.0,463.4 626.2,464.0 626.4,463.6 626.8,464.5 627.0,464.8 627.1,464.7 628.1,461.9 628.7,462.8 629.0,462.7 629.2,462.4 629.8,462.6 630.2,461.5 630.5,461.6 631.1,464.7 631.9,462.5 632.0,463.3 632.2,462.9 632.4,463.4 632.6,462.5 633.2,463.0 633.4,463.5 633.5,462.6 633.7,462.8 633.9,461.4 634.5,463.2 634.9,462.6 635.2,462.7 635.4,462.3 635.6,462.9 635.8,462.8 636.0,463.1 636.2,462.8 636.4,462.8 636.6,463.8 637.1,463.1 637.3,463.4 637.9,463.1 638.3,463.3 639.0,459.3 640.1,439.6 641.8,402.2 642.6,396.1 642.8,395.2 643.1,394.6 643.7,398.1 643.9,398.2 644.7,405.0 646.9,432.3 648.0,439.5 648.4,441.4 648.6,441.5 649.2,445.0 649.4,444.8 649.5,445.2 649.7,445.2 650.5,447.9 650.9,446.9 651.6,449.1 652.0,449.4 652.2,449.3 653.3,451.0 653.5,451.2 653.7,451.0 654.1,451.5 654.3,452.7 654.4,452.9 654.6,453.7 654.8,452.8 655.0,453.1 655.6,457.0 655.8,457.0 655.9,457.5 656.5,460.9 656.7,461.0 656.9,462.2 657.1,461.7 657.3,461.9 657.5,461.2 658.0,464.0 658.4,463.4 659.1,464.2 659.3,465.0 659.5,464.5 659.9,464.5 660.1,465.3 660.5,465.5 660.8,464.5 661.2,466.0 661.4,466.0 662.0,464.2 663.1,465.4" stroke="#eebd78" stroke-width="1.4222222222222223" fill="none" stroke-linejoin="round" stroke-linecap="round" />
<path d="M437.2,446.8 439.5,446.5 441.7,445.6 444.4,444.2 445.9,442.8 447.6,440.3 449.8,436.2 452.8,428.3 454.0,426.4 454.5,426.5 455.1,427.7 457.0,435.9 457.5,436.7 457.9,436.7 458.3,436.2 458.8,433.7 459.4,426.7 460.7,390.2 461.1,384.5 461.3,384.3 461.7,390.1 462.6,419.6 463.4,432.0 463.7,433.8 464.1,434.3 464.7,434.1 466.0,432.6 466.4,432.5 466.8,432.9 467.5,435.3 469.4,444.4 470.0,446.1 470.3,446.5 470.7,446.2 471.1,445.2 471.8,441.4 474.3,422.5 477.5,400.5 478.4,396.0 479.4,393.3 480.1,392.1 483.5,388.0 483.9,387.9 484.3,388.0 485.6,389.6 486.3,390.1 487.5,389.8 489.5,388.6 491.4,387.0 493.9,384.4 497.4,379.2 498.8,377.6 502.1,375.2 503.5,374.7 504.6,374.6 506.1,375.3 509.5,378.3 512.3,379.4 515.1,379.9 520.2,379.4 521.5,379.7 522.9,381.1 526.2,386.6 529.8,390.6 534.1,394.4 537.0,396.4 538.5,397.0 539.2,397.0 540.0,396.8 541.9,395.1 546.9,388.4 549.8,384.0 550.9,382.6 552.0,381.8 552.6,381.8 553.2,382.0 553.9,382.7 554.9,384.1 557.5,389.5 559.0,393.2 561.3,400.0 561.6,400.4 562.6,400.6 563.0,400.9 564.8,404.2 565.8,405.5 568.6,408.1 571.8,410.3 574.1,411.5 578.8,413.1 580.6,414.1 582.3,415.6 583.8,417.6 584.6,419.0 585.4,421.2 588.0,431.7 592.5,447.7 593.4,450.2 594.4,452.1 596.6,454.8 598.0,455.9 599.3,456.6 600.4,456.7 601.7,456.3 603.0,455.3 604.4,453.9 608.7,448.2 610.6,444.8 612.1,441.0 613.0,436.9 614.5,427.7 614.9,426.5 615.3,426.2 615.7,426.9 616.8,430.5 617.2,431.0 617.9,431.3 618.5,432.6 619.2,437.3 620.9,452.9 621.9,456.3 622.2,460.1 622.4,460.4 622.6,458.9 623.0,458.4 623.2,461.1 623.6,462.4 623.8,461.7 623.9,461.9 624.7,464.2 625.1,463.5 625.3,462.2 625.5,462.7 625.6,462.1 625.8,462.2 626.4,464.0 626.6,463.7 626.8,464.8 627.3,461.8 627.9,463.9 628.5,461.7 628.7,461.7 628.8,463.3 629.0,462.8 629.2,463.1 630.0,461.0 630.5,464.0 630.7,464.1 631.1,462.4 631.3,464.2 631.5,464.2 631.9,461.5 632.2,462.9 632.4,462.9 632.6,463.3 632.8,463.0 633.0,463.4 633.2,462.8 633.4,462.9 633.5,462.0 633.7,462.5 633.9,462.2 634.1,462.4 634.3,461.8 634.5,461.7 635.1,463.7 635.2,462.3 635.6,462.0 635.8,463.4 636.2,463.2 636.6,462.1 636.7,462.4 636.9,461.8 637.1,462.1 637.3,461.9 637.5,462.6 637.7,462.9 637.9,462.9 638.1,462.0 638.6,460.9 639.0,457.8 641.6,392.3 642.4,381.7 642.8,378.0 643.1,377.3 643.9,383.1 644.8,394.4 646.9,425.0 647.5,427.7 648.0,434.2 649.4,441.5 649.5,442.2 649.7,442.1 649.9,441.4 650.5,444.3 650.7,443.5 651.1,444.0 652.0,446.0 652.6,445.6 653.1,447.5 653.3,447.2 653.5,447.5 653.7,447.0 654.1,448.2 654.4,451.0 654.6,450.7 655.0,451.7 655.6,455.0 656.3,456.2 656.9,460.8 657.5,463.4 657.6,462.8 657.8,464.2 658.0,463.9 658.2,464.9 658.4,464.6 658.6,465.2 659.3,461.5 659.7,462.2 660.1,464.7 660.3,464.7 660.5,464.1 661.0,465.5 661.2,464.2 661.8,465.8 662.2,463.9 662.3,465.2 662.7,465.8 663.1,464.7" stroke="#ebb062" stroke-width="1.4666666666666668" fill="none" stroke-linejoin="round" stroke-linecap="round" />
<path d="M437.2,443.7 439.5,443.3 441.7,442.3 444.4,440.6 445.9,439.0 447.6,436.1 449.8,431.3 450.9,428.2 452.8,422.1 453.4,420.6 454.0,419.8 454.3,419.7 454.5,419.9 455.1,421.4 457.0,430.9 457.5,431.9 457.9,431.9 458.3,431.3 458.8,428.5 459.4,420.6 460.7,379.6 461.1,373.1 461.3,372.8 461.7,379.4 462.8,417.7 463.4,426.5 463.7,428.6 464.1,429.1 464.7,428.8 466.0,427.1 466.4,427.0 466.8,427.4 467.5,430.3 469.4,440.9 470.0,442.9 470.3,443.4 470.5,443.3 471.1,441.9 471.8,437.4 474.3,415.2 477.3,390.8 478.4,384.1 479.4,381.0 480.1,379.6 483.5,374.7 483.9,374.6 484.3,374.8 485.6,376.6 486.3,377.1 487.5,376.9 489.5,375.5 491.4,373.6 493.9,370.5 497.4,364.4 498.8,362.6 500.5,361.0 502.1,359.7 503.5,359.1 504.6,359.0 505.3,359.3 506.1,359.8 509.5,363.4 512.3,364.7 515.1,365.3 516.6,365.2 520.2,364.6 521.0,364.7 521.5,365.0 522.9,366.6 526.2,373.1 529.8,377.8 532.1,380.3 534.1,382.3 537.0,384.6 538.5,385.3 539.2,385.3 540.0,385.0 541.9,383.1 546.9,375.2 549.8,370.0 550.9,368.4 552.0,367.5 552.6,367.5 553.2,367.7 553.9,368.6 554.9,370.2 557.5,376.5 559.0,380.9 561.3,388.8 561.6,389.3 562.6,389.5 563.0,389.9 564.8,393.7 565.8,395.2 568.6,398.3 571.8,401.0 574.1,402.3 578.8,404.2 580.6,405.4 582.3,407.1 583.8,409.4 584.6,411.2 585.4,413.7 588.0,426.1 592.5,444.8 593.4,447.7 594.4,449.9 596.6,453.1 598.0,454.4 599.3,455.2 600.4,455.3 601.7,454.8 603.0,453.7 604.4,452.0 608.7,445.4 610.6,441.4 612.1,436.9 613.0,432.1 614.5,421.3 614.9,419.9 615.3,419.6 615.7,420.4 616.8,424.6 617.2,425.2 617.9,425.5 618.5,427.1 619.0,430.8 620.7,447.9 620.9,448.1 621.7,455.6 622.4,459.2 622.8,459.9 623.0,459.7 623.2,460.0 623.6,461.6 623.8,461.2 623.9,461.3 624.3,462.0 624.9,461.5 625.5,463.4 625.6,463.2 625.8,463.7 626.2,463.8 626.4,463.0 626.8,462.5 627.1,463.2 627.3,463.0 627.5,463.2 627.7,463.0 628.3,461.4 628.5,461.6 629.0,464.0 629.6,461.4 630.0,461.5 630.3,463.0 630.9,461.9 631.3,463.4 631.9,461.4 632.0,461.5 632.6,462.8 632.8,462.1 633.0,462.1 633.2,462.7 633.4,462.4 633.5,462.7 633.7,461.7 633.9,461.9 634.1,461.1 634.3,462.0 634.7,460.9 634.9,461.1 635.2,463.3 635.6,461.6 635.8,461.7 636.0,460.9 636.4,461.2 636.6,462.1 636.7,461.7 637.1,462.2 637.3,463.2 638.1,460.7 638.4,460.4 638.6,459.8 639.2,453.4 641.3,389.0 642.0,372.6 642.6,364.3 642.8,363.9 643.7,366.9 645.6,394.3 646.7,415.5 649.2,436.0 649.7,437.9 650.1,437.2 650.3,437.6 650.7,441.2 650.9,441.5 651.1,441.1 651.2,441.3 652.4,444.5 652.6,444.3 652.7,444.7 652.9,444.3 653.5,446.6 654.1,445.7 654.6,449.5 654.8,449.3 655.0,450.4 655.2,450.4 655.4,452.4 655.6,452.4 655.9,454.4 656.9,461.3 657.3,462.9 657.5,462.9 657.6,463.7 658.0,463.3 658.4,463.5 658.6,464.6 658.8,463.9 659.3,463.5 659.7,463.7 659.9,464.3 660.3,463.7 660.5,464.1 660.7,463.7 661.0,464.7 661.2,466.1 661.6,465.9 661.8,466.1 662.0,467.2 662.3,465.2 662.5,464.8 662.7,465.6 663.1,464.9" stroke="#e8a24a" stroke-width="1.511111111111111" fill="none" stroke-linejoin="round" stroke-linecap="round" />
<path d="M437.2,442.3 439.5,441.9 441.7,440.8 444.4,439.0 445.9,437.3 447.6,434.2 449.8,429.0 450.9,425.8 452.8,419.2 453.4,417.6 454.0,416.7 454.3,416.6 454.5,416.8 455.1,418.4 457.0,428.6 457.5,429.7 457.9,429.7 458.3,429.0 458.8,426.0 459.4,417.6 460.7,373.8 461.1,366.9 461.3,366.7 461.7,373.6 462.8,414.5 463.4,423.9 463.7,426.1 464.1,426.7 464.7,426.4 466.0,424.5 466.4,424.4 466.8,424.9 467.5,427.9 469.4,439.3 470.0,441.4 470.3,441.9 470.5,441.9 471.1,440.4 471.8,435.6 474.3,411.8 477.3,385.7 478.4,378.6 479.4,375.3 480.1,373.8 483.5,368.6 483.9,368.4 484.3,368.6 485.6,370.6 486.3,371.2 487.5,370.9 489.5,369.4 491.4,367.4 493.9,364.1 497.4,357.6 498.8,355.6 500.5,353.9 502.1,352.6 503.5,351.9 504.6,351.8 505.3,352.1 506.1,352.7 509.5,356.5 512.3,357.9 515.1,358.5 516.6,358.4 520.2,357.8 521.0,357.9 521.5,358.2 522.9,360.0 526.2,366.9 529.8,371.8 532.1,374.6 534.1,376.7 537.0,379.2 538.5,379.9 539.2,379.9 540.0,379.6 540.9,378.7 541.9,377.5 546.9,369.1 549.8,363.6 550.9,361.8 552.0,360.9 552.6,360.8 553.2,361.1 553.9,362.0 554.9,363.8 557.5,370.5 559.0,375.2 561.3,383.7 561.6,384.2 562.6,384.4 563.0,384.8 564.8,388.9 565.8,390.5 568.6,393.8 571.8,396.6 574.1,398.0 578.8,400.1 580.6,401.4 582.3,403.2 583.8,405.7 584.6,407.5 585.4,410.3 588.0,423.4 592.5,443.4 593.4,446.6 594.4,448.9 595.3,450.5 596.6,452.3 598.0,453.7 599.3,454.5 600.4,454.7 601.7,454.2 603.0,452.9 604.4,451.2 608.7,444.1 610.6,439.8 612.1,435.0 613.0,429.9 614.5,418.3 614.9,416.8 615.1,416.5 615.3,416.5 615.7,417.4 616.8,421.9 617.2,422.5 617.9,422.9 618.5,424.5 619.2,430.3 621.5,455.4 621.7,456.1 622.1,455.4 622.2,454.2 622.8,458.9 623.4,459.4 624.1,461.7 624.3,461.8 624.5,460.7 624.7,460.9 624.9,460.7 625.1,461.5 625.3,461.3 625.5,461.7 625.8,461.3 626.4,463.3 626.8,462.6 627.0,462.6 627.1,462.0 627.3,462.2 627.9,461.1 628.1,461.3 628.3,462.7 628.5,461.7 629.0,464.0 629.8,462.0 630.3,463.2 630.5,462.8 630.7,463.2 631.1,461.7 631.3,462.1 631.5,461.2 631.7,462.1 631.9,462.1 632.2,464.2 632.6,462.7 633.0,462.1 633.2,463.0 633.4,461.6 633.9,463.6 634.5,463.0 634.7,463.2 635.2,460.3 635.6,461.1 635.8,462.4 636.0,462.2 636.4,462.6 636.6,462.5 636.7,461.6 636.9,461.7 637.3,463.8 638.3,458.7 638.6,458.9 638.8,458.3 639.2,452.2 639.9,431.6 641.5,378.3 642.2,361.2 642.4,358.4 642.6,357.8 643.0,359.5 643.1,359.0 643.3,359.0 643.5,359.8 644.5,370.3 645.0,383.3 645.6,390.5 646.2,402.8 647.1,417.3 648.4,429.6 649.7,435.6 649.9,437.7 650.1,437.4 650.3,437.9 650.5,437.1 651.2,440.4 651.8,439.8 652.4,440.9 653.3,446.5 653.7,445.3 654.3,447.4 654.6,447.4 654.8,448.9 655.0,448.7 655.2,449.4 655.4,448.6 657.1,462.3 657.3,462.5 657.5,462.0 657.6,463.2 658.0,463.4 658.2,462.5 658.6,461.8 659.0,463.5 659.1,463.4 659.3,463.7 659.5,463.4 659.9,464.0 660.3,465.8 660.5,466.0 660.8,465.9 661.2,464.8 661.8,466.6 662.2,464.8 662.3,465.3 662.5,465.2 662.9,463.6 663.1,464.2" stroke="#e4922e" stroke-width="1.5555555555555556" fill="none" stroke-linejoin="round" stroke-linecap="round" />
<path d="M437.2,440.9 439.5,440.4 441.7,439.3 444.4,437.4 445.9,435.5 447.6,432.2 449.8,426.8 450.9,423.3 452.8,416.3 453.4,414.7 454.0,413.7 454.3,413.6 454.5,413.8 455.1,415.5 457.0,426.4 457.5,427.5 457.9,427.5 458.3,426.8 458.8,423.6 459.4,414.9 460.7,369.3 461.1,362.0 461.3,361.8 461.7,369.0 462.8,411.6 463.4,421.4 463.7,423.7 464.1,424.3 464.7,424.0 466.0,422.0 466.4,421.9 466.8,422.3 467.5,425.6 469.4,437.7 470.0,439.9 470.3,440.5 470.5,440.4 471.1,438.8 471.8,433.7 474.3,408.5 477.3,380.7 478.4,373.1 479.4,369.6 480.1,368.0 483.5,362.4 483.9,362.3 484.3,362.5 485.6,364.6 486.3,365.2 487.5,364.9 489.5,363.3 491.4,361.2 493.9,357.7 497.4,350.7 498.8,348.7 500.5,346.9 502.1,345.5 503.5,344.8 504.6,344.6 505.3,344.9 506.1,345.5 509.5,349.6 512.3,351.1 515.1,351.8 516.6,351.7 520.2,351.0 521.0,351.1 521.5,351.4 522.9,353.3 526.2,360.6 529.8,365.9 532.1,368.8 534.1,371.1 537.0,373.7 538.5,374.5 539.2,374.5 540.0,374.2 540.9,373.3 541.9,372.0 546.9,363.0 549.8,357.1 550.9,355.3 552.0,354.3 552.6,354.2 553.2,354.5 553.9,355.5 554.9,357.3 557.5,364.5 559.0,369.5 561.3,378.5 561.6,379.1 562.6,379.3 563.0,379.7 564.8,384.1 565.8,385.8 568.6,389.3 571.8,392.3 574.1,393.8 578.8,396.0 580.6,397.4 582.3,399.3 583.8,401.9 584.6,403.9 585.4,406.8 588.0,420.8 592.5,442.1 593.4,445.4 594.4,447.9 595.3,449.6 596.6,451.5 598.0,453.0 599.3,453.9 600.4,454.1 601.7,453.5 603.0,452.2 604.4,450.4 608.7,442.7 610.6,438.2 612.1,433.1 613.0,427.7 614.5,415.4 614.9,413.8 615.1,413.4 615.3,413.4 615.7,414.3 616.8,419.2 617.2,419.8 617.9,420.2 618.5,421.9 619.2,428.2 620.9,448.7 621.9,455.1 622.4,456.9 622.8,459.4 623.2,460.6 623.4,460.8 623.6,460.6 624.1,463.1 624.3,462.5 624.7,462.2 625.1,462.9 625.5,461.4 625.6,461.6 625.8,461.1 626.4,462.2 626.8,462.3 627.1,463.6 627.5,462.1 627.7,462.2 628.5,465.2 628.7,464.5 628.8,464.5 629.0,463.4 629.6,462.8 630.2,461.5 630.3,462.1 630.5,461.7 630.9,462.0 631.1,462.6 631.5,462.5 631.7,461.7 631.9,461.9 632.0,461.4 632.2,462.5 632.4,462.3 632.8,462.5 633.2,463.2 633.7,460.8 634.1,462.2 634.7,461.1 634.9,461.8 635.2,461.9 635.6,460.3 636.4,459.3 636.9,462.6 637.1,463.0 637.3,463.0 637.9,461.1 638.3,461.2 638.4,461.0 639.0,455.9 639.8,435.6 641.5,372.8 642.2,355.7 642.8,350.6 643.1,349.9 644.3,361.0 646.3,403.2 647.5,419.4 649.0,430.9 649.4,432.7 649.5,432.7 649.9,433.7 650.3,435.2 650.7,435.6 650.9,436.1 651.1,436.1 651.2,437.5 651.4,437.4 651.6,438.7 651.8,438.8 652.2,439.8 652.7,442.6 652.9,441.3 653.5,443.9 653.7,443.7 654.3,445.3 654.8,446.2 655.8,451.7 655.9,454.1 656.1,453.9 656.3,456.6 656.5,456.6 656.7,458.6 656.9,458.6 657.3,460.7 657.8,466.0 658.8,462.5 659.0,462.9 659.3,465.6 659.5,465.1 659.7,465.4 660.1,463.7 660.5,464.0 660.7,465.8 660.8,465.2 661.0,465.3 661.2,463.7 661.4,464.0 662.2,467.0 662.7,464.7 663.1,465.7" stroke="#e0841a" stroke-width="1.6" fill="none" stroke-linejoin="round" stroke-linecap="round" />
<rect x="418.50" y="271.90" width="264.00" height="212.70" fill="none" stroke="#111" stroke-width="1.75"/>
<line x1="418.38" y1="484.60" x2="418.38" y2="486.60" stroke="#161616" stroke-width="1.3" />
<line x1="437.20" y1="484.60" x2="437.20" y2="488.60" stroke="#161616" stroke-width="1.3" />
<text transform="translate(437.20,501.00) translate(-13.00,0) scale(0.9821,1)" font-weight="bold" font-style="normal" fill="#161616"  stroke="#161616" stroke-width="0.28"><tspan dy="-0.00" font-size="11.90">4000</tspan></text>
<line x1="456.02" y1="484.60" x2="456.02" y2="486.60" stroke="#161616" stroke-width="1.3" />
<line x1="474.85" y1="484.60" x2="474.85" y2="488.60" stroke="#161616" stroke-width="1.3" />
<text transform="translate(474.85,501.00) translate(-13.00,0) scale(0.9821,1)" font-weight="bold" font-style="normal" fill="#161616"  stroke="#161616" stroke-width="0.28"><tspan dy="-0.00" font-size="11.90">3500</tspan></text>
<line x1="493.68" y1="484.60" x2="493.68" y2="486.60" stroke="#161616" stroke-width="1.3" />
<line x1="512.50" y1="484.60" x2="512.50" y2="488.60" stroke="#161616" stroke-width="1.3" />
<text transform="translate(512.50,501.00) translate(-13.00,0) scale(0.9821,1)" font-weight="bold" font-style="normal" fill="#161616"  stroke="#161616" stroke-width="0.28"><tspan dy="-0.00" font-size="11.90">3000</tspan></text>
<line x1="531.33" y1="484.60" x2="531.33" y2="486.60" stroke="#161616" stroke-width="1.3" />
<line x1="550.15" y1="484.60" x2="550.15" y2="488.60" stroke="#161616" stroke-width="1.3" />
<text transform="translate(550.15,501.00) translate(-13.00,0) scale(0.9821,1)" font-weight="bold" font-style="normal" fill="#161616"  stroke="#161616" stroke-width="0.28"><tspan dy="-0.00" font-size="11.90">2500</tspan></text>
<line x1="568.98" y1="484.60" x2="568.98" y2="486.60" stroke="#161616" stroke-width="1.3" />
<line x1="587.80" y1="484.60" x2="587.80" y2="488.60" stroke="#161616" stroke-width="1.3" />
<text transform="translate(587.80,501.00) translate(-13.00,0) scale(0.9821,1)" font-weight="bold" font-style="normal" fill="#161616"  stroke="#161616" stroke-width="0.28"><tspan dy="-0.00" font-size="11.90">2000</tspan></text>
<line x1="606.62" y1="484.60" x2="606.62" y2="486.60" stroke="#161616" stroke-width="1.3" />
<line x1="625.45" y1="484.60" x2="625.45" y2="488.60" stroke="#161616" stroke-width="1.3" />
<text transform="translate(625.45,501.00) translate(-13.00,0) scale(0.9821,1)" font-weight="bold" font-style="normal" fill="#161616"  stroke="#161616" stroke-width="0.28"><tspan dy="-0.00" font-size="11.90">1500</tspan></text>
<line x1="644.27" y1="484.60" x2="644.27" y2="486.60" stroke="#161616" stroke-width="1.3" />
<line x1="663.10" y1="484.60" x2="663.10" y2="488.60" stroke="#161616" stroke-width="1.3" />
<text transform="translate(663.10,501.00) translate(-13.00,0) scale(0.9821,1)" font-weight="bold" font-style="normal" fill="#161616"  stroke="#161616" stroke-width="0.28"><tspan dy="-0.00" font-size="11.90">1000</tspan></text>
<line x1="681.92" y1="484.60" x2="681.92" y2="486.60" stroke="#161616" stroke-width="1.3" />
<text transform="translate(550.30,523.60) translate(-61.50,0) scale(0.9669,1)" font-weight="bold" font-style="normal" fill="#161616"  stroke="#161616" stroke-width="0.28"><tspan dy="-0.00" font-size="13.80">Wavenumber (cm</tspan><tspan dy="-6.21" font-size="9.11">-1</tspan><tspan dy="6.21" font-size="13.80">)</tspan></text>
<text transform="translate(400.60,377.90) rotate(-90) translate(-54.50,0) scale(0.9703,1)" font-weight="bold" font-style="normal" fill="#161616"  stroke="#161616" stroke-width="0.28"><tspan dy="-0.00" font-size="13.30">Absorbance (a.u.)</tspan></text>
<text transform="translate(424.90,288.80) translate(0.00,0) scale(1.0259,1)" font-weight="bold" font-style="normal" fill="#161616"  stroke="#161616" stroke-width="0.28"><tspan dy="-0.00" font-size="10.90">NO</tspan><tspan dy="2.18" font-size="7.19">2</tspan><tspan dy="-2.18" font-size="10.90">/Air ads.—in situ DRIFTS</tspan></text>
<text transform="translate(622.70,288.50) translate(0.00,0) scale(1.0713,1)" font-weight="bold" font-style="normal" fill="#dc8a1e"  stroke="#dc8a1e" stroke-width="0.28"><tspan dy="-0.00" font-size="10.90">Mn-LTA-3</tspan></text>
<line x1="450.90" y1="310.20" x2="450.90" y2="440.00" stroke="#111" stroke-width="1.45" stroke-dasharray="8,7.3" stroke-dashoffset="0"/>
<line x1="558.00" y1="310.20" x2="558.00" y2="395.00" stroke="#111" stroke-width="1.45" stroke-dasharray="8,7.3" stroke-dashoffset="0"/>
<line x1="562.00" y1="341.00" x2="562.00" y2="425.00" stroke="#111" stroke-width="1.45" stroke-dasharray="8,7.3" stroke-dashoffset="0"/>
<line x1="453.90" y1="313.00" x2="492.00" y2="313.00" stroke="#161616" stroke-width="1.3" />
<path d="M451.50,313.00 L461.10,310.50 L460.30,313.00 L461.10,315.50 Z" fill="#161616"/>
<line x1="520.00" y1="313.00" x2="555.00" y2="313.00" stroke="#161616" stroke-width="1.3" />
<path d="M557.40,313.00 L547.80,310.50 L548.60,313.00 L547.80,315.50 Z" fill="#161616"/>
<text transform="translate(497.60,316.00) translate(0.00,0) scale(0.9057,1)" font-weight="bold" font-style="normal" fill="#161616"  stroke="#161616" stroke-width="0.28"><tspan dy="-0.00" font-size="10.30">O-H</tspan></text>
<text transform="translate(475.30,329.60) translate(0.00,0) scale(0.9420,1)" font-weight="bold" font-style="normal" fill="#161616"  stroke="#161616" stroke-width="0.28"><tspan dy="-0.00" font-size="10.30">(HNO</tspan><tspan dy="2.06" font-size="6.80">x</tspan><tspan dy="-2.06" font-size="10.30"> &amp; H</tspan><tspan dy="2.06" font-size="6.80">2</tspan><tspan dy="-2.06" font-size="10.30">O)</tspan></text>
<text transform="translate(559.70,308.20) translate(0.00,0) scale(0.9322,1)" font-weight="bold" font-style="normal" fill="#161616"  stroke="#161616" stroke-width="0.28"><tspan dy="-0.00" font-size="10.30">N-O</tspan></text>
<text transform="translate(559.30,322.10) translate(0.00,0) scale(0.9647,1)" font-weight="bold" font-style="normal" fill="#161616"  stroke="#161616" stroke-width="0.28"><tspan dy="-0.00" font-size="10.30">(NO</tspan><tspan dy="2.06" font-size="6.80">2</tspan><tspan dy="-6.70" font-size="6.80">+</tspan><tspan dy="4.64" font-size="10.30">)</tspan></text>
<text transform="translate(559.70,337.90) translate(0.00,0) scale(0.9470,1)" font-weight="bold" font-style="normal" fill="#161616"  stroke="#161616" stroke-width="0.28"><tspan dy="-0.00" font-size="10.30">2350</tspan></text>
<text transform="translate(571.60,353.40) translate(0.00,0) scale(0.9163,1)" font-weight="bold" font-style="normal" fill="#161616"  stroke="#161616" stroke-width="0.28"><tspan dy="-0.00" font-size="10.30">N-O</tspan></text>
<text transform="translate(567.90,367.10) translate(0.00,0) scale(0.9551,1)" font-weight="bold" font-style="normal" fill="#161616"  stroke="#161616" stroke-width="0.28"><tspan dy="-0.00" font-size="10.30">(NO</tspan><tspan dy="-4.64" font-size="6.80">+</tspan><tspan dy="4.64" font-size="10.30">)</tspan></text>
<text transform="translate(569.90,381.40) translate(0.00,0) scale(0.9470,1)" font-weight="bold" font-style="normal" fill="#161616"  stroke="#161616" stroke-width="0.28"><tspan dy="-0.00" font-size="10.30">2101</tspan></text>
<line x1="581.40" y1="385.50" x2="581.40" y2="395.00" stroke="#111" stroke-width="1.45" stroke-dasharray="8,7.3" stroke-dashoffset="0"/>
<text transform="translate(603.20,367.10) translate(0.00,0) scale(0.9004,1)" font-weight="bold" font-style="normal" fill="#161616"  stroke="#161616" stroke-width="0.28"><tspan dy="-0.00" font-size="10.30">N-O</tspan></text>
<text transform="translate(599.20,380.40) translate(0.00,0) scale(0.9390,1)" font-weight="bold" font-style="normal" fill="#161616"  stroke="#161616" stroke-width="0.28"><tspan dy="-0.00" font-size="10.30">(NO</tspan><tspan dy="2.06" font-size="6.80">2</tspan><tspan dy="-2.06" font-size="10.30">)</tspan></text>
<text transform="translate(583.40,395.70) translate(0.00,0) scale(0.9595,1)" font-weight="bold" font-style="normal" fill="#161616"  stroke="#161616" stroke-width="0.28"><tspan dy="-0.00" font-size="10.30">1646 &amp; 1602</tspan></text>
<line x1="614.90" y1="399.80" x2="614.90" y2="412.00" stroke="#111" stroke-width="1.0" stroke-dasharray="8,7.3" stroke-dashoffset="0"/>
<line x1="616.90" y1="399.80" x2="616.90" y2="425.00" stroke="#111" stroke-width="1.0" stroke-dasharray="8,7.3" stroke-dashoffset="0"/>
<text transform="translate(631.20,307.20) translate(0.00,0) scale(0.9322,1)" font-weight="bold" font-style="normal" fill="#161616"  stroke="#161616" stroke-width="0.28"><tspan dy="-0.00" font-size="10.30">N-O</tspan></text>
<text transform="translate(600.20,320.70) translate(0.00,0) scale(0.9509,1)" font-weight="bold" font-style="normal" fill="#161616"  stroke="#161616" stroke-width="0.28"><tspan dy="-0.00" font-size="10.30">(HNO</tspan><tspan dy="2.06" font-size="6.80">3</tspan><tspan dy="-2.06" font-size="10.30"> and HNO</tspan><tspan dy="2.06" font-size="6.80">2</tspan><tspan dy="-2.06" font-size="10.30">)</tspan></text>
<text transform="translate(610.80,336.40) translate(0.00,0) scale(0.9654,1)" font-weight="bold" font-style="normal" fill="#161616"  stroke="#161616" stroke-width="0.28"><tspan dy="-0.00" font-size="10.30">1262 &amp; 1137</tspan></text>
<line x1="643.10" y1="340.50" x2="643.10" y2="351.00" stroke="#111" stroke-width="1.45" stroke-dasharray="8,7.3" stroke-dashoffset="0"/>
<line x1="653.30" y1="340.50" x2="653.30" y2="441.00" stroke="#111" stroke-width="1.45" stroke-dasharray="8,7.3" stroke-dashoffset="0"/>
<path d="M313.30,542.60 L48.80,542.60 L48.80,754.20 L313.30,754.20" fill="none" stroke="#111" stroke-width="1.75"/>
<line x1="45.20" y1="542.30" x2="48.80" y2="542.30" stroke="#161616" stroke-width="1.3" />
<text transform="translate(42.00,546.50) translate(-16.10,0) scale(0.9732,1)" font-weight="bold" font-style="normal" fill="#161616"  stroke="#161616" stroke-width="0.28"><tspan dy="-0.00" font-size="11.90">0.2</tspan></text>
<line x1="46.80" y1="567.30" x2="48.80" y2="567.30" stroke="#161616" stroke-width="1.3" />
<line x1="45.20" y1="592.30" x2="48.80" y2="592.30" stroke="#161616" stroke-width="1.3" />
<text transform="translate(42.00,596.50) translate(-16.10,0) scale(0.9732,1)" font-weight="bold" font-style="normal" fill="#161616"  stroke="#161616" stroke-width="0.28"><tspan dy="-0.00" font-size="11.90">0.0</tspan></text>
<line x1="46.80" y1="617.30" x2="48.80" y2="617.30" stroke="#161616" stroke-width="1.3" />
<line x1="45.20" y1="642.30" x2="48.80" y2="642.30" stroke="#161616" stroke-width="1.3" />
<text transform="translate(42.00,646.50) translate(-19.30,0) scale(0.9412,1)" font-weight="bold" font-style="normal" fill="#161616"  stroke="#161616" stroke-width="0.28"><tspan dy="-0.00" font-size="11.90">-0.2</tspan></text>
<line x1="46.80" y1="667.30" x2="48.80" y2="667.30" stroke="#161616" stroke-width="1.3" />
<line x1="45.20" y1="692.30" x2="48.80" y2="692.30" stroke="#161616" stroke-width="1.3" />
<text transform="translate(42.00,696.50) translate(-19.30,0) scale(0.9412,1)" font-weight="bold" font-style="normal" fill="#161616"  stroke="#161616" stroke-width="0.28"><tspan dy="-0.00" font-size="11.90">-0.4</tspan></text>
<line x1="46.80" y1="717.30" x2="48.80" y2="717.30" stroke="#161616" stroke-width="1.3" />
<line x1="45.20" y1="742.30" x2="48.80" y2="742.30" stroke="#161616" stroke-width="1.3" />
<text transform="translate(42.00,746.50) translate(-19.30,0) scale(0.9412,1)" font-weight="bold" font-style="normal" fill="#161616"  stroke="#161616" stroke-width="0.28"><tspan dy="-0.00" font-size="11.90">-0.6</tspan></text>
<line x1="48.89" y1="754.20" x2="48.89" y2="756.20" stroke="#161616" stroke-width="1.3" />
<line x1="65.40" y1="754.20" x2="65.40" y2="758.20" stroke="#161616" stroke-width="1.3" />
<text transform="translate(65.40,771.30) translate(-3.20,0) scale(0.9670,1)" font-weight="bold" font-style="normal" fill="#161616"  stroke="#161616" stroke-width="0.28"><tspan dy="-0.00" font-size="11.90">0</tspan></text>
<line x1="81.91" y1="754.20" x2="81.91" y2="756.20" stroke="#161616" stroke-width="1.3" />
<line x1="98.43" y1="754.20" x2="98.43" y2="758.20" stroke="#161616" stroke-width="1.3" />
<text transform="translate(98.43,771.30) translate(-6.55,0) scale(0.9897,1)" font-weight="bold" font-style="normal" fill="#161616"  stroke="#161616" stroke-width="0.28"><tspan dy="-0.00" font-size="11.90">50</tspan></text>
<line x1="114.94" y1="754.20" x2="114.94" y2="756.20" stroke="#161616" stroke-width="1.3" />
<line x1="131.45" y1="754.20" x2="131.45" y2="758.20" stroke="#161616" stroke-width="1.3" />
<text transform="translate(131.45,771.30) translate(-9.90,0) scale(0.9972,1)" font-weight="bold" font-style="normal" fill="#161616"  stroke="#161616" stroke-width="0.28"><tspan dy="-0.00" font-size="11.90">100</tspan></text>
<line x1="147.96" y1="754.20" x2="147.96" y2="756.20" stroke="#161616" stroke-width="1.3" />
<line x1="164.48" y1="754.20" x2="164.48" y2="758.20" stroke="#161616" stroke-width="1.3" />
<text transform="translate(164.48,771.30) translate(-9.90,0) scale(0.9972,1)" font-weight="bold" font-style="normal" fill="#161616"  stroke="#161616" stroke-width="0.28"><tspan dy="-0.00" font-size="11.90">150</tspan></text>
<line x1="180.99" y1="754.20" x2="180.99" y2="756.20" stroke="#161616" stroke-width="1.3" />
<line x1="197.50" y1="754.20" x2="197.50" y2="758.20" stroke="#161616" stroke-width="1.3" />
<text transform="translate(197.50,771.30) translate(-9.90,0) scale(0.9972,1)" font-weight="bold" font-style="normal" fill="#161616"  stroke="#161616" stroke-width="0.28"><tspan dy="-0.00" font-size="11.90">200</tspan></text>
<line x1="214.01" y1="754.20" x2="214.01" y2="756.20" stroke="#161616" stroke-width="1.3" />
<line x1="230.53" y1="754.20" x2="230.53" y2="758.20" stroke="#161616" stroke-width="1.3" />
<text transform="translate(230.53,771.30) translate(-9.90,0) scale(0.9972,1)" font-weight="bold" font-style="normal" fill="#161616"  stroke="#161616" stroke-width="0.28"><tspan dy="-0.00" font-size="11.90">250</tspan></text>
<line x1="247.04" y1="754.20" x2="247.04" y2="756.20" stroke="#161616" stroke-width="1.3" />
<line x1="263.55" y1="754.20" x2="263.55" y2="758.20" stroke="#161616" stroke-width="1.3" />
<text transform="translate(263.55,771.30) translate(-9.90,0) scale(0.9972,1)" font-weight="bold" font-style="normal" fill="#161616"  stroke="#161616" stroke-width="0.28"><tspan dy="-0.00" font-size="11.90">300</tspan></text>
<line x1="280.06" y1="754.20" x2="280.06" y2="756.20" stroke="#161616" stroke-width="1.3" />
<line x1="296.57" y1="754.20" x2="296.57" y2="758.20" stroke="#161616" stroke-width="1.3" />
<text transform="translate(296.57,771.30) translate(-9.90,0) scale(0.9972,1)" font-weight="bold" font-style="normal" fill="#161616"  stroke="#161616" stroke-width="0.28"><tspan dy="-0.00" font-size="11.90">350</tspan></text>
<line x1="313.09" y1="754.20" x2="313.09" y2="756.20" stroke="#161616" stroke-width="1.3" />
<text transform="translate(180.80,790.00) translate(-32.80,0) scale(0.9436,1)" font-weight="bold" font-style="normal" fill="#161616"  stroke="#161616" stroke-width="0.28"><tspan dy="-0.00" font-size="13.80">Time (min)</tspan></text>
<text transform="translate(15.20,648.00) rotate(-90) translate(-19.15,0) scale(1.0580,1)" font-weight="bold" font-style="normal" fill="#161616"  stroke="#161616" stroke-width="0.28"><tspan dy="-0.00" font-size="13.30">dm/dt</tspan></text>
<line x1="313.30" y1="542.60" x2="313.30" y2="754.20" stroke="#c05a22" stroke-width="1.6" />
<line x1="313.30" y1="748.20" x2="316.90" y2="748.20" stroke="#c05a22" stroke-width="1.3" />
<line x1="313.30" y1="730.04" x2="315.30" y2="730.04" stroke="#c05a22" stroke-width="1.3" />
<line x1="313.30" y1="711.87" x2="316.90" y2="711.87" stroke="#c05a22" stroke-width="1.3" />
<line x1="313.30" y1="693.71" x2="315.30" y2="693.71" stroke="#c05a22" stroke-width="1.3" />
<line x1="313.30" y1="675.54" x2="316.90" y2="675.54" stroke="#c05a22" stroke-width="1.3" />
<line x1="313.30" y1="657.38" x2="315.30" y2="657.38" stroke="#c05a22" stroke-width="1.3" />
<line x1="313.30" y1="639.21" x2="316.90" y2="639.21" stroke="#c05a22" stroke-width="1.3" />
<line x1="313.30" y1="621.05" x2="315.30" y2="621.05" stroke="#c05a22" stroke-width="1.3" />
<line x1="313.30" y1="602.88" x2="316.90" y2="602.88" stroke="#c05a22" stroke-width="1.3" />
<line x1="313.30" y1="584.72" x2="316.90" y2="584.72" stroke="#c05a22" stroke-width="1.3" />
<text transform="translate(318.80,587.32) rotate(27)" font-size="11.5" font-style="italic" fill="#8e4a1e" stroke="#8e4a1e" stroke-width="0.35">450</text>
<text transform="translate(318.80,605.48) rotate(27)" font-size="11.5" font-style="italic" fill="#8e4a1e" stroke="#8e4a1e" stroke-width="0.35">400</text>
<text transform="translate(318.80,641.81) rotate(27)" font-size="11.5" font-style="italic" fill="#8e4a1e" stroke="#8e4a1e" stroke-width="0.35">300</text>
<text transform="translate(318.80,678.14) rotate(27)" font-size="11.5" font-style="italic" fill="#8e4a1e" stroke="#8e4a1e" stroke-width="0.35">200</text>
<text transform="translate(318.80,714.47) rotate(27)" font-size="11.5" font-style="italic" fill="#8e4a1e" stroke="#8e4a1e" stroke-width="0.35">100</text>
<text transform="translate(318.80,750.80) rotate(27)" font-size="11.5" font-style="italic" fill="#8e4a1e" stroke="#8e4a1e" stroke-width="0.35">0</text>
<text transform="translate(345.20,648.60) rotate(90) translate(-53.00,0) scale(1.0192,1)" font-weight="normal" font-style="normal" fill="#8e4a1e" stroke="#8e4a1e" stroke-width="0.35"><tspan dy="-0.00" font-size="13.60">Temperature (</tspan><tspan dy="-6.12" font-size="8.98">o</tspan><tspan dy="6.12" font-size="13.60">C)</tspan></text>
<text transform="translate(55.20,559.60) translate(0.00,0) scale(0.9872,1)" font-weight="bold" font-style="normal" fill="#161616"  stroke="#161616" stroke-width="0.28"><tspan dy="-0.00" font-size="10.90">DTG curves</tspan></text>
<line x1="129.00" y1="553.80" x2="162.10" y2="553.80" stroke="#4aa3e0" stroke-width="1.6" />
<text transform="translate(165.20,558.40) translate(0.00,0) scale(1.0464,1)" font-weight="bold" font-style="normal" fill="#161616"  stroke="#161616" stroke-width="0.28"><tspan dy="-0.00" font-size="10.90">Na-LTA-3</tspan></text>
<line x1="226.50" y1="553.80" x2="258.70" y2="553.80" stroke="#e0474c" stroke-width="1.6" />
<text transform="translate(261.70,558.40) translate(0.00,0) scale(1.0037,1)" font-weight="bold" font-style="normal" fill="#161616"  stroke="#161616" stroke-width="0.28"><tspan dy="-0.00" font-size="10.90">Ca-LTA-3</tspan></text>
<line x1="129.00" y1="570.00" x2="162.10" y2="570.00" stroke="#f0a640" stroke-width="1.6" />
<text transform="translate(165.20,574.90) translate(0.00,0) scale(1.0713,1)" font-weight="bold" font-style="normal" fill="#161616"  stroke="#161616" stroke-width="0.28"><tspan dy="-0.00" font-size="10.90">Mn-LTA-3</tspan></text>
<line x1="226.50" y1="570.00" x2="258.70" y2="570.00" stroke="#8a5ad6" stroke-width="1.6" />
<text transform="translate(261.70,574.90) translate(0.00,0) scale(1.0161,1)" font-weight="bold" font-style="normal" fill="#161616"  stroke="#161616" stroke-width="0.28"><tspan dy="-0.00" font-size="10.90">Ni-LTA-3</tspan></text>
<path d="M65.4,740.9 159.2,639.2 237.1,639.2 258.3,584.7 295.3,584.7" stroke="#a0522d" stroke-width="1.5" fill="none" stroke-linejoin="round" stroke-linecap="round" />
<path d="M65.4,709.8 67.7,683.1 70.0,660.9 70.8,657.6 71.5,656.3 72.3,656.3 73.1,658.9 75.4,671.4 81.5,711.4 84.6,728.1 85.4,731.1 86.9,734.1 87.7,734.8 88.5,734.0 89.2,731.3 90.8,723.2 93.8,697.0 95.4,686.2 96.9,677.3 104.6,644.3 107.7,632.3 110.0,624.5 111.5,620.4 113.8,615.2 116.9,609.1 118.4,606.4 120.0,604.3 122.3,602.0 124.6,600.4 128.4,599.1 132.3,598.4 156.1,596.3 163.8,593.8 169.9,593.3 191.5,592.9 238.4,592.8 240.7,593.1 246.8,594.8 253.7,595.3 256.0,595.0 260.7,593.8 263.0,593.3 277.6,592.9 295.3,592.8" stroke="#f0a640" stroke-width="1.3" fill="none" stroke-linejoin="round" stroke-linecap="round" />
<path d="M65.4,640.5 68.5,672.2 69.2,679.1 70.0,682.5 70.8,684.5 71.5,685.9 74.6,690.6 75.4,692.3 80.8,713.2 82.3,718.3 83.1,719.7 85.4,719.7 86.2,717.4 87.7,709.6 90.0,693.8 92.3,679.7 94.6,667.6 96.1,660.8 102.3,638.8 105.4,629.2 106.1,626.2 109.2,611.5 110.8,605.8 111.5,603.7 113.1,601.1 115.4,598.5 116.9,597.3 119.2,596.2 122.3,595.5 136.1,593.6 141.5,594.1 147.7,594.3 159.2,593.6 188.4,592.9 233.8,592.8 234.5,592.7 237.6,591.4 238.4,591.3 239.1,591.5 241.4,593.8 242.2,594.3 246.8,593.8 247.6,593.9 250.7,595.0 251.4,595.0 256.8,593.8 262.2,593.4 278.3,592.9 295.3,592.8" stroke="#4aa3e0" stroke-width="1.3" fill="none" stroke-linejoin="round" stroke-linecap="round" />
<path d="M79.3,709.8 80.7,714.8 81.4,716.5 82.9,718.5 83.6,719.0 84.3,718.6 85.0,716.4 88.7,688.8 90.8,674.5 92.3,666.4 93.7,660.1 95.2,655.3 97.3,649.1 99.5,643.9 108.2,625.7 111.1,620.4 113.9,615.8 116.8,612.4 119.7,609.8 125.5,605.7 129.1,603.5 133.4,601.6 138.5,600.6 142.8,600.2 155.8,599.8 157.3,599.1 160.2,596.9 163.8,595.4 169.6,594.0 174.6,593.3 193.4,592.8 238.9,592.8 241.1,593.6 244.0,595.4 248.3,599.8 249.7,600.7 250.5,600.8 252.6,600.1 260.6,595.0 262.0,594.2 263.5,593.8 277.9,593.1 295.3,592.8" stroke="#e0474c" stroke-width="1.3" fill="none" stroke-linejoin="round" stroke-linecap="round" />
<path d="M65.4,726.0 68.5,675.5 69.2,665.9 70.8,652.9 71.5,651.4 72.3,653.3 74.6,663.2 78.5,686.5 82.3,705.0 84.6,717.2 86.2,727.0 86.9,734.4 87.7,737.2 88.5,735.9 89.2,733.3 90.8,721.6 95.4,680.3 97.7,665.2 99.2,658.5 106.1,635.1 109.2,624.1 112.3,615.1 114.6,609.7 116.9,605.7 118.4,603.7 121.5,601.4 126.1,599.1 128.4,598.4 133.0,597.9 147.7,597.1 154.6,596.5 156.9,596.1 163.8,593.8 169.2,593.3 193.8,592.8 239.1,592.8 242.2,593.7 245.3,594.9 249.1,597.0 250.7,597.3 253.0,597.0 256.8,596.1 261.4,594.1 263.7,593.5 278.3,593.0 295.3,592.8" stroke="#8a5ad6" stroke-width="1.3" fill="none" stroke-linejoin="round" stroke-linecap="round" />
<rect x="179.7" y="651.0" width="92.20" height="71.20" fill="#fff" stroke="none"/>
<path d="M271.90,651.00 L179.70,651.00 L179.70,722.20 L271.90,722.20" fill="none" stroke="#161616" stroke-width="1.3"/>
<line x1="271.90" y1="651.00" x2="271.90" y2="722.20" stroke="#c05a22" stroke-width="1.3" />
<line x1="176.90" y1="651.00" x2="179.70" y2="651.00" stroke="#161616" stroke-width="1.1" />
<text transform="translate(174.90,653.90) translate(-18.50,0) scale(1.1592,1)" font-weight="bold" font-style="normal" fill="#161616"  stroke="#161616" stroke-width="0.28"><tspan dy="-0.00" font-size="8.20">0.01</tspan></text>
<line x1="178.10" y1="658.10" x2="179.70" y2="658.10" stroke="#161616" stroke-width="1.1" />
<line x1="176.90" y1="665.20" x2="179.70" y2="665.20" stroke="#161616" stroke-width="1.1" />
<text transform="translate(174.90,668.10) translate(-18.50,0) scale(1.1592,1)" font-weight="bold" font-style="normal" fill="#161616"  stroke="#161616" stroke-width="0.28"><tspan dy="-0.00" font-size="8.20">0.00</tspan></text>
<line x1="178.10" y1="672.30" x2="179.70" y2="672.30" stroke="#161616" stroke-width="1.1" />
<line x1="176.90" y1="679.40" x2="179.70" y2="679.40" stroke="#161616" stroke-width="1.1" />
<text transform="translate(174.90,682.30) translate(-20.80,0) scale(1.1128,1)" font-weight="bold" font-style="normal" fill="#161616"  stroke="#161616" stroke-width="0.28"><tspan dy="-0.00" font-size="8.20">-0.01</tspan></text>
<line x1="178.10" y1="686.50" x2="179.70" y2="686.50" stroke="#161616" stroke-width="1.1" />
<line x1="176.90" y1="693.60" x2="179.70" y2="693.60" stroke="#161616" stroke-width="1.1" />
<text transform="translate(174.90,696.50) translate(-20.80,0) scale(1.1128,1)" font-weight="bold" font-style="normal" fill="#161616"  stroke="#161616" stroke-width="0.28"><tspan dy="-0.00" font-size="8.20">-0.02</tspan></text>
<line x1="178.10" y1="700.70" x2="179.70" y2="700.70" stroke="#161616" stroke-width="1.1" />
<line x1="176.90" y1="707.80" x2="179.70" y2="707.80" stroke="#161616" stroke-width="1.1" />
<text transform="translate(174.90,710.70) translate(-20.80,0) scale(1.1128,1)" font-weight="bold" font-style="normal" fill="#161616"  stroke="#161616" stroke-width="0.28"><tspan dy="-0.00" font-size="8.20">-0.03</tspan></text>
<line x1="178.10" y1="714.90" x2="179.70" y2="714.90" stroke="#161616" stroke-width="1.1" />
<line x1="176.90" y1="722.00" x2="179.70" y2="722.00" stroke="#161616" stroke-width="1.1" />
<text transform="translate(174.90,724.90) translate(-20.80,0) scale(1.1128,1)" font-weight="bold" font-style="normal" fill="#161616"  stroke="#161616" stroke-width="0.28"><tspan dy="-0.00" font-size="8.20">-0.04</tspan></text>
<line x1="183.25" y1="722.20" x2="183.25" y2="723.80" stroke="#161616" stroke-width="1.1" />
<line x1="200.98" y1="722.20" x2="200.98" y2="725.00" stroke="#161616" stroke-width="1.1" />
<text transform="translate(200.98,734.20) translate(-6.90,0) scale(1.0086,1)" font-weight="bold" font-style="normal" fill="#161616"  stroke="#161616" stroke-width="0.28"><tspan dy="-0.00" font-size="8.20">250</tspan></text>
<line x1="218.71" y1="722.20" x2="218.71" y2="723.80" stroke="#161616" stroke-width="1.1" />
<line x1="236.44" y1="722.20" x2="236.44" y2="725.00" stroke="#161616" stroke-width="1.1" />
<text transform="translate(236.44,734.20) translate(-6.90,0) scale(1.0086,1)" font-weight="bold" font-style="normal" fill="#161616"  stroke="#161616" stroke-width="0.28"><tspan dy="-0.00" font-size="8.20">300</tspan></text>
<line x1="254.18" y1="722.20" x2="254.18" y2="723.80" stroke="#161616" stroke-width="1.1" />
<line x1="271.91" y1="722.20" x2="271.91" y2="725.00" stroke="#161616" stroke-width="1.1" />
<text transform="translate(271.91,734.20) translate(-6.90,0) scale(1.0086,1)" font-weight="bold" font-style="normal" fill="#161616"  stroke="#161616" stroke-width="0.28"><tspan dy="-0.00" font-size="8.20">350</tspan></text>
<line x1="271.90" y1="712.90" x2="274.70" y2="712.90" stroke="#c05a22" stroke-width="1.1" />
<text transform="translate(276.90,715.90) translate(0.00,0) scale(1.0774,1)" font-weight="normal" font-style="normal" fill="#a85a2a" stroke="#a85a2a" stroke-width="0.2"><tspan dy="-0.00" font-size="8.40">300</tspan></text>
<line x1="271.90" y1="704.03" x2="273.50" y2="704.03" stroke="#c05a22" stroke-width="1.1" />
<line x1="271.90" y1="695.16" x2="274.70" y2="695.16" stroke="#c05a22" stroke-width="1.1" />
<text transform="translate(276.90,698.16) translate(0.00,0) scale(1.0774,1)" font-weight="normal" font-style="normal" fill="#a85a2a" stroke="#a85a2a" stroke-width="0.2"><tspan dy="-0.00" font-size="8.40">350</tspan></text>
<line x1="271.90" y1="686.30" x2="273.50" y2="686.30" stroke="#c05a22" stroke-width="1.1" />
<line x1="271.90" y1="677.43" x2="274.70" y2="677.43" stroke="#c05a22" stroke-width="1.1" />
<text transform="translate(276.90,680.43) translate(0.00,0) scale(1.0774,1)" font-weight="normal" font-style="normal" fill="#a85a2a" stroke="#a85a2a" stroke-width="0.2"><tspan dy="-0.00" font-size="8.40">400</tspan></text>
<line x1="271.90" y1="668.56" x2="273.50" y2="668.56" stroke="#c05a22" stroke-width="1.1" />
<line x1="271.90" y1="659.69" x2="274.70" y2="659.69" stroke="#c05a22" stroke-width="1.1" />
<text transform="translate(276.90,662.69) translate(0.00,0) scale(1.0774,1)" font-weight="normal" font-style="normal" fill="#a85a2a" stroke="#a85a2a" stroke-width="0.2"><tspan dy="-0.00" font-size="8.40">450</tspan></text>
<text transform="translate(225.90,745.20) translate(-26.45,0) scale(1.2354,1)" font-weight="bold" font-style="normal" fill="#161616"  stroke="#161616" stroke-width="0.28"><tspan dy="-0.00" font-size="8.50">Time (min)</tspan></text>
<text transform="translate(148.40,686.50) rotate(-90) translate(-15.50,0) scale(1.3244,1)" font-weight="bold" font-style="normal" fill="#161616"  stroke="#161616" stroke-width="0.28"><tspan dy="-0.00" font-size="8.60">dm/dt</tspan></text>
<text transform="translate(297.60,686.40) rotate(90) translate(-42.60,0) scale(1.0511,1)" font-weight="normal" font-style="normal" fill="#a85a2a" stroke="#a85a2a" stroke-width="0.2"><tspan dy="-0.00" font-size="10.60">Temperature (</tspan><tspan dy="-4.77" font-size="7.00">o</tspan><tspan dy="4.77" font-size="10.60">C)</tspan></text>
<path d="M179.7,712.9 208.4,712.9 231.5,659.7 271.9,659.7" stroke="#a0522d" stroke-width="1.2" fill="none" stroke-linejoin="round" stroke-linecap="round" />
<path d="M179.7,667.8 186.2,667.2 193.6,666.9 202.2,666.9 206.8,667.4 207.5,667.8 208.4,669.0 211.2,674.2 216.7,687.1 217.6,689.0 218.2,689.8 219.5,690.2 221.9,690.7 227.8,690.8 228.4,690.4 229.0,689.0 231.2,681.6 233.7,675.1 234.6,673.4 235.8,672.5 237.7,671.7 240.1,670.9 249.4,669.1 260.8,667.7 271.9,666.9" stroke="#f0a640" stroke-width="1.1" fill="none" stroke-linejoin="round" stroke-linecap="round" />
<path d="M179.7,668.0 184.0,667.5 189.0,667.1 201.3,666.9 205.0,667.5 206.8,668.1 207.5,668.7 209.3,671.8 211.2,676.4 213.9,687.3 216.7,699.9 219.2,708.4 220.7,711.9 222.3,713.7 223.2,714.2 223.8,714.0 224.7,712.8 225.7,711.0 226.3,709.2 231.2,683.2 233.4,676.6 234.3,674.6 234.9,673.8 237.1,672.4 239.5,671.3 242.9,670.3 248.2,669.2 257.1,668.1 265.7,667.5 271.9,667.3" stroke="#e0474c" stroke-width="1.1" fill="none" stroke-linejoin="round" stroke-linecap="round" />
<path d="M179.7,667.3 189.0,666.7 201.3,666.6 204.7,666.9 207.1,667.6 208.7,669.5 211.2,674.2 214.5,683.6 217.6,690.4 218.2,691.2 218.9,691.5 221.3,692.0 223.8,692.2 227.8,691.9 228.4,691.5 229.4,689.3 231.2,683.0 233.7,676.0 234.6,674.2 236.1,673.1 239.8,671.7 253.7,668.6 263.6,667.4 271.9,666.9" stroke="#8a5ad6" stroke-width="1.1" fill="none" stroke-linejoin="round" stroke-linecap="round" />
<path d="M179.7,666.3 194.5,666.1 206.8,665.6 207.8,665.2 209.6,663.7 211.2,661.8 211.8,661.7 212.4,663.2 213.6,667.8 215.2,670.7 216.4,672.2 217.6,672.8 218.6,673.0 219.2,672.9 219.8,672.5 221.0,671.4 222.3,669.9 222.9,669.5 223.2,669.6 224.1,671.4 224.4,671.6 225.0,671.6 241.7,668.5 248.2,667.6 261.1,666.6 271.9,666.3" stroke="#4aa3e0" stroke-width="1.1" fill="none" stroke-linejoin="round" stroke-linecap="round" />
<rect x="418.20" y="542.70" width="264.00" height="211.10" fill="none" stroke="#111" stroke-width="1.75"/>
<line x1="414.60" y1="740.80" x2="418.20" y2="740.80" stroke="#161616" stroke-width="1.3" />
<text transform="translate(410.70,745.00) translate(-6.40,0) scale(0.9670,1)" font-weight="bold" font-style="normal" fill="#161616"  stroke="#161616" stroke-width="0.28"><tspan dy="-0.00" font-size="11.90">0</tspan></text>
<line x1="416.20" y1="724.35" x2="418.20" y2="724.35" stroke="#161616" stroke-width="1.3" />
<line x1="414.60" y1="707.90" x2="418.20" y2="707.90" stroke="#161616" stroke-width="1.3" />
<text transform="translate(410.70,712.10) translate(-13.00,0) scale(0.9821,1)" font-weight="bold" font-style="normal" fill="#161616"  stroke="#161616" stroke-width="0.28"><tspan dy="-0.00" font-size="11.90">25</tspan></text>
<line x1="416.20" y1="691.45" x2="418.20" y2="691.45" stroke="#161616" stroke-width="1.3" />
<line x1="414.60" y1="675.00" x2="418.20" y2="675.00" stroke="#161616" stroke-width="1.3" />
<text transform="translate(410.70,679.20) translate(-13.00,0) scale(0.9821,1)" font-weight="bold" font-style="normal" fill="#161616"  stroke="#161616" stroke-width="0.28"><tspan dy="-0.00" font-size="11.90">50</tspan></text>
<line x1="416.20" y1="658.55" x2="418.20" y2="658.55" stroke="#161616" stroke-width="1.3" />
<line x1="414.60" y1="642.10" x2="418.20" y2="642.10" stroke="#161616" stroke-width="1.3" />
<text transform="translate(410.70,646.30) translate(-13.00,0) scale(0.9821,1)" font-weight="bold" font-style="normal" fill="#161616"  stroke="#161616" stroke-width="0.28"><tspan dy="-0.00" font-size="11.90">75</tspan></text>
<line x1="416.20" y1="625.65" x2="418.20" y2="625.65" stroke="#161616" stroke-width="1.3" />
<line x1="414.60" y1="609.20" x2="418.20" y2="609.20" stroke="#161616" stroke-width="1.3" />
<text transform="translate(410.70,613.40) translate(-19.60,0) scale(0.9871,1)" font-weight="bold" font-style="normal" fill="#161616"  stroke="#161616" stroke-width="0.28"><tspan dy="-0.00" font-size="11.90">100</tspan></text>
<line x1="417.10" y1="753.80" x2="417.10" y2="755.80" stroke="#161616" stroke-width="1.3" />
<line x1="442.40" y1="753.80" x2="442.40" y2="757.80" stroke="#161616" stroke-width="1.3" />
<text transform="translate(442.40,770.30) translate(-3.20,0) scale(0.9670,1)" font-weight="bold" font-style="normal" fill="#161616"  stroke="#161616" stroke-width="0.28"><tspan dy="-0.00" font-size="11.90">0</tspan></text>
<line x1="467.70" y1="753.80" x2="467.70" y2="755.80" stroke="#161616" stroke-width="1.3" />
<line x1="493.00" y1="753.80" x2="493.00" y2="757.80" stroke="#161616" stroke-width="1.3" />
<text transform="translate(493.00,770.30) translate(-9.80,0) scale(0.9871,1)" font-weight="bold" font-style="normal" fill="#161616"  stroke="#161616" stroke-width="0.28"><tspan dy="-0.00" font-size="11.90">200</tspan></text>
<line x1="518.30" y1="753.80" x2="518.30" y2="755.80" stroke="#161616" stroke-width="1.3" />
<line x1="543.60" y1="753.80" x2="543.60" y2="757.80" stroke="#161616" stroke-width="1.3" />
<text transform="translate(543.60,770.30) translate(-9.80,0) scale(0.9871,1)" font-weight="bold" font-style="normal" fill="#161616"  stroke="#161616" stroke-width="0.28"><tspan dy="-0.00" font-size="11.90">400</tspan></text>
<line x1="568.90" y1="753.80" x2="568.90" y2="755.80" stroke="#161616" stroke-width="1.3" />
<line x1="594.20" y1="753.80" x2="594.20" y2="757.80" stroke="#161616" stroke-width="1.3" />
<text transform="translate(594.20,770.30) translate(-9.80,0) scale(0.9871,1)" font-weight="bold" font-style="normal" fill="#161616"  stroke="#161616" stroke-width="0.28"><tspan dy="-0.00" font-size="11.90">600</tspan></text>
<line x1="619.50" y1="753.80" x2="619.50" y2="755.80" stroke="#161616" stroke-width="1.3" />
<line x1="644.80" y1="753.80" x2="644.80" y2="757.80" stroke="#161616" stroke-width="1.3" />
<text transform="translate(644.80,770.30) translate(-9.80,0) scale(0.9871,1)" font-weight="bold" font-style="normal" fill="#161616"  stroke="#161616" stroke-width="0.28"><tspan dy="-0.00" font-size="11.90">800</tspan></text>
<line x1="670.10" y1="753.80" x2="670.10" y2="755.80" stroke="#161616" stroke-width="1.3" />
<text transform="translate(507.60,791.20) translate(0.00,0) scale(0.9568,1)" font-weight="bold" font-style="normal" fill="#161616"  stroke="#161616" stroke-width="0.28"><tspan dy="-0.00" font-size="13.80">Time (min g</tspan><tspan dy="-6.21" font-size="9.11">-1</tspan><tspan dy="6.21" font-size="13.80">)</tspan></text>
<text transform="translate(383.40,647.60) rotate(-90) translate(-87.00,0) scale(0.9912,1)" font-weight="bold" font-style="normal" fill="#161616"  stroke="#161616" stroke-width="0.28"><tspan dy="-0.00" font-size="13.30">Concentration of NO</tspan><tspan dy="2.66" font-size="8.78">x</tspan><tspan dy="-2.66" font-size="13.30"> (ppm)</tspan></text>
<line x1="424.50" y1="554.50" x2="454.30" y2="554.50" stroke="#76c043" stroke-width="1.2" />
<path d="M439.40,551.86 L441.85,556.12 L436.95,556.12 Z" fill="#76c043" stroke="#76c043" stroke-width="1.0"/>
<line x1="459.60" y1="554.50" x2="489.00" y2="554.50" stroke="#76c043" stroke-width="1.2" />
<path d="M474.50,551.86 L476.95,556.12 L472.05,556.12 Z" fill="#fff" stroke="#76c043" stroke-width="1.0"/>
<line x1="424.50" y1="572.80" x2="454.30" y2="572.80" stroke="#76c043" stroke-width="1.2" />
<rect x="437.45" y="570.85" width="3.90" height="3.90" fill="#76c043" stroke="#76c043" stroke-width="1.0"/>
<line x1="459.60" y1="572.80" x2="489.00" y2="572.80" stroke="#76c043" stroke-width="1.2" />
<rect x="472.55" y="570.85" width="3.90" height="3.90" fill="#fff" stroke="#76c043" stroke-width="1.0"/>
<line x1="424.50" y1="591.00" x2="454.30" y2="591.00" stroke="#5aa8de" stroke-width="1.2" />
<path d="M439.40,588.36 L441.85,592.62 L436.95,592.62 Z" fill="#5aa8de" stroke="#5aa8de" stroke-width="1.0"/>
<line x1="459.60" y1="591.00" x2="489.00" y2="591.00" stroke="#5aa8de" stroke-width="1.2" />
<path d="M474.50,588.36 L476.95,592.62 L472.05,592.62 Z" fill="#fff" stroke="#5aa8de" stroke-width="1.0"/>
<text transform="translate(494.40,559.40) translate(0.00,0) scale(0.9874,1)" font-weight="bold" font-style="normal" fill="#161616"  stroke="#161616" stroke-width="0.28"><tspan dy="-0.00" font-size="10.90">NO</tspan><tspan dy="2.18" font-size="7.19">2</tspan><tspan dy="-2.18" font-size="10.90">/N</tspan><tspan dy="2.18" font-size="7.19">2</tspan><tspan dy="-2.18" font-size="10.90"> ads. (450 </tspan><tspan dy="-4.91" font-size="7.19">o</tspan><tspan dy="4.91" font-size="10.90">C activated)</tspan></text>
<text transform="translate(494.40,577.60) translate(0.00,0) scale(0.9999,1)" font-weight="bold" font-style="normal" fill="#161616"  stroke="#161616" stroke-width="0.28"><tspan dy="-0.00" font-size="10.90">NO</tspan><tspan dy="2.18" font-size="7.19">2</tspan><tspan dy="-2.18" font-size="10.90">/NO/N</tspan><tspan dy="2.18" font-size="7.19">2</tspan><tspan dy="-2.18" font-size="10.90"> ads. (450 </tspan><tspan dy="-4.91" font-size="7.19">o</tspan><tspan dy="4.91" font-size="10.90">C activated)</tspan></text>
<text transform="translate(494.40,596.00) translate(0.00,0) scale(0.9874,1)" font-weight="bold" font-style="normal" fill="#161616"  stroke="#161616" stroke-width="0.28"><tspan dy="-0.00" font-size="10.90">NO</tspan><tspan dy="2.18" font-size="7.19">2</tspan><tspan dy="-2.18" font-size="10.90">/N</tspan><tspan dy="2.18" font-size="7.19">2</tspan><tspan dy="-2.18" font-size="10.90"> ads. (300 </tspan><tspan dy="-4.91" font-size="7.19">o</tspan><tspan dy="4.91" font-size="10.90">C activated)</tspan></text>
<text transform="translate(425.40,611.60) translate(0.00,0) scale(0.9479,1)" font-weight="bold" font-style="normal" fill="#161616"  stroke="#161616" stroke-width="0.28"><tspan dy="-0.00" font-size="10.90">Solid symbol: NO</tspan><tspan dy="2.18" font-size="7.19">2</tspan><tspan dy="-2.18" font-size="10.90"> breakthrough curve</tspan></text>
<text transform="translate(425.40,628.20) translate(0.00,0) scale(0.9624,1)" font-weight="bold" font-style="normal" fill="#161616"  stroke="#161616" stroke-width="0.28"><tspan dy="-0.00" font-size="10.90">Open symbol: NO release/breakthrough curve</tspan></text>
<path d="M442.4,740.8 652.4,740.8 655.4,736.9 658.7,730.3" stroke="#76c043" stroke-width="1.2" fill="none" stroke-linejoin="round" stroke-linecap="round" />
<path d="M444.42,738.16 L446.87,742.42 L441.97,742.42 Z" fill="#76c043" stroke="#76c043" stroke-width="1.0"/>
<path d="M452.27,738.16 L454.72,742.42 L449.82,742.42 Z" fill="#76c043" stroke="#76c043" stroke-width="1.0"/>
<path d="M460.11,738.16 L462.56,742.42 L457.66,742.42 Z" fill="#76c043" stroke="#76c043" stroke-width="1.0"/>
<path d="M467.95,738.16 L470.40,742.42 L465.50,742.42 Z" fill="#76c043" stroke="#76c043" stroke-width="1.0"/>
<path d="M475.80,738.16 L478.25,742.42 L473.35,742.42 Z" fill="#76c043" stroke="#76c043" stroke-width="1.0"/>
<path d="M483.64,738.16 L486.09,742.42 L481.19,742.42 Z" fill="#76c043" stroke="#76c043" stroke-width="1.0"/>
<path d="M491.48,738.16 L493.93,742.42 L489.03,742.42 Z" fill="#76c043" stroke="#76c043" stroke-width="1.0"/>
<path d="M499.32,738.16 L501.77,742.42 L496.88,742.42 Z" fill="#76c043" stroke="#76c043" stroke-width="1.0"/>
<path d="M507.17,738.16 L509.62,742.42 L504.72,742.42 Z" fill="#76c043" stroke="#76c043" stroke-width="1.0"/>
<path d="M515.01,738.16 L517.46,742.42 L512.56,742.42 Z" fill="#76c043" stroke="#76c043" stroke-width="1.0"/>
<path d="M522.85,738.16 L525.30,742.42 L520.40,742.42 Z" fill="#76c043" stroke="#76c043" stroke-width="1.0"/>
<path d="M530.70,738.16 L533.15,742.42 L528.25,742.42 Z" fill="#76c043" stroke="#76c043" stroke-width="1.0"/>
<path d="M538.54,738.16 L540.99,742.42 L536.09,742.42 Z" fill="#76c043" stroke="#76c043" stroke-width="1.0"/>
<path d="M546.38,738.16 L548.83,742.42 L543.93,742.42 Z" fill="#76c043" stroke="#76c043" stroke-width="1.0"/>
<path d="M554.23,738.16 L556.68,742.42 L551.78,742.42 Z" fill="#76c043" stroke="#76c043" stroke-width="1.0"/>
<path d="M562.07,738.16 L564.52,742.42 L559.62,742.42 Z" fill="#76c043" stroke="#76c043" stroke-width="1.0"/>
<path d="M569.91,738.16 L572.36,742.42 L567.46,742.42 Z" fill="#76c043" stroke="#76c043" stroke-width="1.0"/>
<path d="M577.75,738.16 L580.21,742.42 L575.30,742.42 Z" fill="#76c043" stroke="#76c043" stroke-width="1.0"/>
<path d="M585.60,738.16 L588.05,742.42 L583.15,742.42 Z" fill="#76c043" stroke="#76c043" stroke-width="1.0"/>
<path d="M593.44,738.16 L595.89,742.42 L590.99,742.42 Z" fill="#76c043" stroke="#76c043" stroke-width="1.0"/>
<path d="M601.28,738.16 L603.73,742.42 L598.83,742.42 Z" fill="#76c043" stroke="#76c043" stroke-width="1.0"/>
<path d="M609.13,738.16 L611.58,742.42 L606.68,742.42 Z" fill="#76c043" stroke="#76c043" stroke-width="1.0"/>
<path d="M616.97,738.16 L619.42,742.42 L614.52,742.42 Z" fill="#76c043" stroke="#76c043" stroke-width="1.0"/>
<path d="M624.81,738.16 L627.26,742.42 L622.36,742.42 Z" fill="#76c043" stroke="#76c043" stroke-width="1.0"/>
<path d="M632.66,738.16 L635.11,742.42 L630.21,742.42 Z" fill="#76c043" stroke="#76c043" stroke-width="1.0"/>
<path d="M640.50,738.16 L642.95,742.42 L638.05,742.42 Z" fill="#76c043" stroke="#76c043" stroke-width="1.0"/>
<path d="M648.34,738.16 L650.79,742.42 L645.89,742.42 Z" fill="#76c043" stroke="#76c043" stroke-width="1.0"/>
<path d="M442.4,740.8 649.9,740.8 655.4,730.9 660.7,713.2" stroke="#76c043" stroke-width="1.2" fill="none" stroke-linejoin="round" stroke-linecap="round" />
<rect x="444.25" y="738.85" width="3.90" height="3.90" fill="#76c043" stroke="#76c043" stroke-width="1.0"/>
<rect x="452.09" y="738.85" width="3.90" height="3.90" fill="#76c043" stroke="#76c043" stroke-width="1.0"/>
<rect x="459.93" y="738.85" width="3.90" height="3.90" fill="#76c043" stroke="#76c043" stroke-width="1.0"/>
<rect x="467.77" y="738.85" width="3.90" height="3.90" fill="#76c043" stroke="#76c043" stroke-width="1.0"/>
<rect x="475.62" y="738.85" width="3.90" height="3.90" fill="#76c043" stroke="#76c043" stroke-width="1.0"/>
<rect x="483.46" y="738.85" width="3.90" height="3.90" fill="#76c043" stroke="#76c043" stroke-width="1.0"/>
<rect x="491.30" y="738.85" width="3.90" height="3.90" fill="#76c043" stroke="#76c043" stroke-width="1.0"/>
<rect x="499.15" y="738.85" width="3.90" height="3.90" fill="#76c043" stroke="#76c043" stroke-width="1.0"/>
<rect x="506.99" y="738.85" width="3.90" height="3.90" fill="#76c043" stroke="#76c043" stroke-width="1.0"/>
<rect x="514.83" y="738.85" width="3.90" height="3.90" fill="#76c043" stroke="#76c043" stroke-width="1.0"/>
<rect x="522.67" y="738.85" width="3.90" height="3.90" fill="#76c043" stroke="#76c043" stroke-width="1.0"/>
<rect x="530.52" y="738.85" width="3.90" height="3.90" fill="#76c043" stroke="#76c043" stroke-width="1.0"/>
<rect x="538.36" y="738.85" width="3.90" height="3.90" fill="#76c043" stroke="#76c043" stroke-width="1.0"/>
<rect x="546.20" y="738.85" width="3.90" height="3.90" fill="#76c043" stroke="#76c043" stroke-width="1.0"/>
<rect x="554.05" y="738.85" width="3.90" height="3.90" fill="#76c043" stroke="#76c043" stroke-width="1.0"/>
<rect x="561.89" y="738.85" width="3.90" height="3.90" fill="#76c043" stroke="#76c043" stroke-width="1.0"/>
<rect x="569.73" y="738.85" width="3.90" height="3.90" fill="#76c043" stroke="#76c043" stroke-width="1.0"/>
<rect x="577.58" y="738.85" width="3.90" height="3.90" fill="#76c043" stroke="#76c043" stroke-width="1.0"/>
<rect x="585.42" y="738.85" width="3.90" height="3.90" fill="#76c043" stroke="#76c043" stroke-width="1.0"/>
<rect x="593.26" y="738.85" width="3.90" height="3.90" fill="#76c043" stroke="#76c043" stroke-width="1.0"/>
<rect x="601.10" y="738.85" width="3.90" height="3.90" fill="#76c043" stroke="#76c043" stroke-width="1.0"/>
<rect x="608.95" y="738.85" width="3.90" height="3.90" fill="#76c043" stroke="#76c043" stroke-width="1.0"/>
<rect x="616.79" y="738.85" width="3.90" height="3.90" fill="#76c043" stroke="#76c043" stroke-width="1.0"/>
<rect x="624.63" y="738.85" width="3.90" height="3.90" fill="#76c043" stroke="#76c043" stroke-width="1.0"/>
<rect x="632.48" y="738.85" width="3.90" height="3.90" fill="#76c043" stroke="#76c043" stroke-width="1.0"/>
<rect x="640.32" y="738.85" width="3.90" height="3.90" fill="#76c043" stroke="#76c043" stroke-width="1.0"/>
<rect x="648.16" y="738.40" width="3.90" height="3.90" fill="#76c043" stroke="#76c043" stroke-width="1.0"/>
<rect x="653.48" y="728.98" width="3.90" height="3.90" fill="#76c043" stroke="#76c043" stroke-width="1.0"/>
<rect x="658.79" y="711.21" width="3.90" height="3.90" fill="#76c043" stroke="#76c043" stroke-width="1.0"/>
<path d="M442.4,740.8 656.2,740.8 661.5,730.9 667.3,715.4" stroke="#5aa8de" stroke-width="1.2" fill="none" stroke-linejoin="round" stroke-linecap="round" />
<path d="M442.40,738.16 L444.85,742.42 L439.95,742.42 Z" fill="#5aa8de" stroke="#5aa8de" stroke-width="1.0"/>
<path d="M450.24,738.16 L452.69,742.42 L447.79,742.42 Z" fill="#5aa8de" stroke="#5aa8de" stroke-width="1.0"/>
<path d="M458.09,738.16 L460.54,742.42 L455.64,742.42 Z" fill="#5aa8de" stroke="#5aa8de" stroke-width="1.0"/>
<path d="M465.93,738.16 L468.38,742.42 L463.48,742.42 Z" fill="#5aa8de" stroke="#5aa8de" stroke-width="1.0"/>
<path d="M473.77,738.16 L476.22,742.42 L471.32,742.42 Z" fill="#5aa8de" stroke="#5aa8de" stroke-width="1.0"/>
<path d="M481.62,738.16 L484.06,742.42 L479.17,742.42 Z" fill="#5aa8de" stroke="#5aa8de" stroke-width="1.0"/>
<path d="M489.46,738.16 L491.91,742.42 L487.01,742.42 Z" fill="#5aa8de" stroke="#5aa8de" stroke-width="1.0"/>
<path d="M497.30,738.16 L499.75,742.42 L494.85,742.42 Z" fill="#5aa8de" stroke="#5aa8de" stroke-width="1.0"/>
<path d="M505.14,738.16 L507.59,742.42 L502.69,742.42 Z" fill="#5aa8de" stroke="#5aa8de" stroke-width="1.0"/>
<path d="M512.99,738.16 L515.44,742.42 L510.54,742.42 Z" fill="#5aa8de" stroke="#5aa8de" stroke-width="1.0"/>
<path d="M520.83,738.16 L523.28,742.42 L518.38,742.42 Z" fill="#5aa8de" stroke="#5aa8de" stroke-width="1.0"/>
<path d="M528.67,738.16 L531.12,742.42 L526.22,742.42 Z" fill="#5aa8de" stroke="#5aa8de" stroke-width="1.0"/>
<path d="M536.52,738.16 L538.97,742.42 L534.07,742.42 Z" fill="#5aa8de" stroke="#5aa8de" stroke-width="1.0"/>
<path d="M544.36,738.16 L546.81,742.42 L541.91,742.42 Z" fill="#5aa8de" stroke="#5aa8de" stroke-width="1.0"/>
<path d="M552.20,738.16 L554.65,742.42 L549.75,742.42 Z" fill="#5aa8de" stroke="#5aa8de" stroke-width="1.0"/>
<path d="M560.04,738.16 L562.50,742.42 L557.59,742.42 Z" fill="#5aa8de" stroke="#5aa8de" stroke-width="1.0"/>
<path d="M567.89,738.16 L570.34,742.42 L565.44,742.42 Z" fill="#5aa8de" stroke="#5aa8de" stroke-width="1.0"/>
<path d="M575.73,738.16 L578.18,742.42 L573.28,742.42 Z" fill="#5aa8de" stroke="#5aa8de" stroke-width="1.0"/>
<path d="M583.57,738.16 L586.02,742.42 L581.12,742.42 Z" fill="#5aa8de" stroke="#5aa8de" stroke-width="1.0"/>
<path d="M591.42,738.16 L593.87,742.42 L588.97,742.42 Z" fill="#5aa8de" stroke="#5aa8de" stroke-width="1.0"/>
<path d="M599.26,738.16 L601.71,742.42 L596.81,742.42 Z" fill="#5aa8de" stroke="#5aa8de" stroke-width="1.0"/>
<path d="M607.10,738.16 L609.55,742.42 L604.65,742.42 Z" fill="#5aa8de" stroke="#5aa8de" stroke-width="1.0"/>
<path d="M614.95,738.16 L617.40,742.42 L612.50,742.42 Z" fill="#5aa8de" stroke="#5aa8de" stroke-width="1.0"/>
<path d="M622.79,738.16 L625.24,742.42 L620.34,742.42 Z" fill="#5aa8de" stroke="#5aa8de" stroke-width="1.0"/>
<path d="M630.63,738.16 L633.08,742.42 L628.18,742.42 Z" fill="#5aa8de" stroke="#5aa8de" stroke-width="1.0"/>
<path d="M638.47,738.16 L640.92,742.42 L636.02,742.42 Z" fill="#5aa8de" stroke="#5aa8de" stroke-width="1.0"/>
<path d="M646.32,738.16 L648.77,742.42 L643.87,742.42 Z" fill="#5aa8de" stroke="#5aa8de" stroke-width="1.0"/>
<path d="M654.16,738.16 L656.61,742.42 L651.71,742.42 Z" fill="#5aa8de" stroke="#5aa8de" stroke-width="1.0"/>
<path d="M661.50,728.29 L663.95,732.55 L659.05,732.55 Z" fill="#5aa8de" stroke="#5aa8de" stroke-width="1.0"/>
<path d="M667.32,712.76 L669.77,717.02 L664.87,717.02 Z" fill="#5aa8de" stroke="#5aa8de" stroke-width="1.0"/>
<path d="M442.4,740.8 447.5,740.8 449.0,661.8 450.5,644.1 458.3,642.2 466.2,643.0 474.0,644.9 481.9,647.0 489.7,650.1 497.6,652.1 505.4,651.6 513.2,650.8 521.1,650.4 536.8,651.0 552.5,652.6 560.3,652.9 576.0,653.9 583.8,654.2 591.7,654.9 607.4,655.8 615.2,655.9 623.0,656.3 630.9,656.8 638.7,657.6 646.6,657.5 649.9,656.2 655.4,653.3 660.7,655.3" stroke="#76c043" stroke-width="1.2" fill="none" stroke-linejoin="round" stroke-linecap="round" />
<rect x="448.55" y="642.12" width="3.90" height="3.90" fill="#fff" stroke="#76c043" stroke-width="1.0"/>
<rect x="456.39" y="640.28" width="3.90" height="3.90" fill="#fff" stroke="#76c043" stroke-width="1.0"/>
<rect x="464.23" y="641.07" width="3.90" height="3.90" fill="#fff" stroke="#76c043" stroke-width="1.0"/>
<rect x="472.07" y="642.91" width="3.90" height="3.90" fill="#fff" stroke="#76c043" stroke-width="1.0"/>
<rect x="479.92" y="645.02" width="3.90" height="3.90" fill="#fff" stroke="#76c043" stroke-width="1.0"/>
<rect x="487.76" y="648.18" width="3.90" height="3.90" fill="#fff" stroke="#76c043" stroke-width="1.0"/>
<rect x="495.60" y="650.15" width="3.90" height="3.90" fill="#fff" stroke="#76c043" stroke-width="1.0"/>
<rect x="503.45" y="649.63" width="3.90" height="3.90" fill="#fff" stroke="#76c043" stroke-width="1.0"/>
<rect x="511.29" y="648.84" width="3.90" height="3.90" fill="#fff" stroke="#76c043" stroke-width="1.0"/>
<rect x="519.13" y="648.44" width="3.90" height="3.90" fill="#fff" stroke="#76c043" stroke-width="1.0"/>
<rect x="526.98" y="648.84" width="3.90" height="3.90" fill="#fff" stroke="#76c043" stroke-width="1.0"/>
<rect x="534.82" y="649.10" width="3.90" height="3.90" fill="#fff" stroke="#76c043" stroke-width="1.0"/>
<rect x="542.66" y="649.89" width="3.90" height="3.90" fill="#fff" stroke="#76c043" stroke-width="1.0"/>
<rect x="550.50" y="650.68" width="3.90" height="3.90" fill="#fff" stroke="#76c043" stroke-width="1.0"/>
<rect x="558.35" y="650.94" width="3.90" height="3.90" fill="#fff" stroke="#76c043" stroke-width="1.0"/>
<rect x="566.19" y="651.47" width="3.90" height="3.90" fill="#fff" stroke="#76c043" stroke-width="1.0"/>
<rect x="574.03" y="651.99" width="3.90" height="3.90" fill="#fff" stroke="#76c043" stroke-width="1.0"/>
<rect x="581.88" y="652.26" width="3.90" height="3.90" fill="#fff" stroke="#76c043" stroke-width="1.0"/>
<rect x="589.72" y="652.92" width="3.90" height="3.90" fill="#fff" stroke="#76c043" stroke-width="1.0"/>
<rect x="597.56" y="653.31" width="3.90" height="3.90" fill="#fff" stroke="#76c043" stroke-width="1.0"/>
<rect x="605.41" y="653.84" width="3.90" height="3.90" fill="#fff" stroke="#76c043" stroke-width="1.0"/>
<rect x="613.25" y="653.97" width="3.90" height="3.90" fill="#fff" stroke="#76c043" stroke-width="1.0"/>
<rect x="621.09" y="654.36" width="3.90" height="3.90" fill="#fff" stroke="#76c043" stroke-width="1.0"/>
<rect x="628.93" y="654.89" width="3.90" height="3.90" fill="#fff" stroke="#76c043" stroke-width="1.0"/>
<rect x="636.78" y="655.68" width="3.90" height="3.90" fill="#fff" stroke="#76c043" stroke-width="1.0"/>
<rect x="644.62" y="655.55" width="3.90" height="3.90" fill="#fff" stroke="#76c043" stroke-width="1.0"/>
<rect x="647.91" y="654.23" width="3.90" height="3.90" fill="#fff" stroke="#76c043" stroke-width="1.0"/>
<rect x="653.48" y="651.34" width="3.90" height="3.90" fill="#fff" stroke="#76c043" stroke-width="1.0"/>
<rect x="658.79" y="653.31" width="3.90" height="3.90" fill="#fff" stroke="#76c043" stroke-width="1.0"/>
<path d="M442.4,740.8 443.9,740.8 444.7,654.6 448.7,656.6 456.3,673.8 463.7,685.5 470.0,692.9 476.6,696.6 483.4,698.2 490.0,699.2 496.8,699.7 527.2,701.1 542.8,702.0 550.7,702.6 605.6,704.5 621.3,705.3 644.8,706.1 649.9,705.8 655.2,705.3 661.5,695.4 667.3,690.8" stroke="#5aa8de" stroke-width="1.2" fill="none" stroke-linejoin="round" stroke-linecap="round" />
<path d="M448.72,653.93 L451.17,658.20 L446.27,658.20 Z" fill="#fff" stroke="#5aa8de" stroke-width="1.0"/>
<path d="M456.31,671.17 L458.76,675.44 L453.87,675.44 Z" fill="#fff" stroke="#5aa8de" stroke-width="1.0"/>
<path d="M463.65,682.88 L466.10,687.15 L461.20,687.15 Z" fill="#fff" stroke="#5aa8de" stroke-width="1.0"/>
<path d="M469.98,690.25 L472.43,694.52 L467.53,694.52 Z" fill="#fff" stroke="#5aa8de" stroke-width="1.0"/>
<path d="M476.55,693.94 L479.00,698.20 L474.10,698.20 Z" fill="#fff" stroke="#5aa8de" stroke-width="1.0"/>
<path d="M483.39,695.52 L485.84,699.78 L480.94,699.78 Z" fill="#fff" stroke="#5aa8de" stroke-width="1.0"/>
<path d="M489.96,696.57 L492.41,700.83 L487.51,700.83 Z" fill="#fff" stroke="#5aa8de" stroke-width="1.0"/>
<path d="M496.79,697.10 L499.24,701.36 L494.34,701.36 Z" fill="#fff" stroke="#5aa8de" stroke-width="1.0"/>
<path d="M503.63,697.36 L506.08,701.62 L501.18,701.62 Z" fill="#fff" stroke="#5aa8de" stroke-width="1.0"/>
<path d="M511.47,697.62 L513.92,701.89 L509.02,701.89 Z" fill="#fff" stroke="#5aa8de" stroke-width="1.0"/>
<path d="M519.31,698.02 L521.76,702.28 L516.86,702.28 Z" fill="#fff" stroke="#5aa8de" stroke-width="1.0"/>
<path d="M527.15,698.41 L529.61,702.68 L524.70,702.68 Z" fill="#fff" stroke="#5aa8de" stroke-width="1.0"/>
<path d="M535.00,698.94 L537.45,703.20 L532.55,703.20 Z" fill="#fff" stroke="#5aa8de" stroke-width="1.0"/>
<path d="M542.84,699.33 L545.29,703.60 L540.39,703.60 Z" fill="#fff" stroke="#5aa8de" stroke-width="1.0"/>
<path d="M550.68,699.99 L553.13,704.26 L548.23,704.26 Z" fill="#fff" stroke="#5aa8de" stroke-width="1.0"/>
<path d="M558.53,700.26 L560.98,704.52 L556.08,704.52 Z" fill="#fff" stroke="#5aa8de" stroke-width="1.0"/>
<path d="M566.37,700.52 L568.82,704.78 L563.92,704.78 Z" fill="#fff" stroke="#5aa8de" stroke-width="1.0"/>
<path d="M574.21,700.78 L576.66,705.05 L571.76,705.05 Z" fill="#fff" stroke="#5aa8de" stroke-width="1.0"/>
<path d="M582.06,701.05 L584.51,705.31 L579.61,705.31 Z" fill="#fff" stroke="#5aa8de" stroke-width="1.0"/>
<path d="M589.90,701.31 L592.35,705.57 L587.45,705.57 Z" fill="#fff" stroke="#5aa8de" stroke-width="1.0"/>
<path d="M597.74,701.57 L600.19,705.84 L595.29,705.84 Z" fill="#fff" stroke="#5aa8de" stroke-width="1.0"/>
<path d="M605.59,701.84 L608.04,706.10 L603.13,706.10 Z" fill="#fff" stroke="#5aa8de" stroke-width="1.0"/>
<path d="M613.43,702.23 L615.88,706.49 L610.98,706.49 Z" fill="#fff" stroke="#5aa8de" stroke-width="1.0"/>
<path d="M621.27,702.62 L623.72,706.89 L618.82,706.89 Z" fill="#fff" stroke="#5aa8de" stroke-width="1.0"/>
<path d="M629.11,702.89 L631.56,707.15 L626.66,707.15 Z" fill="#fff" stroke="#5aa8de" stroke-width="1.0"/>
<path d="M636.96,703.15 L639.41,707.41 L634.51,707.41 Z" fill="#fff" stroke="#5aa8de" stroke-width="1.0"/>
<path d="M644.80,703.41 L647.25,707.68 L642.35,707.68 Z" fill="#fff" stroke="#5aa8de" stroke-width="1.0"/>
<path d="M649.86,703.15 L652.31,707.41 L647.41,707.41 Z" fill="#fff" stroke="#5aa8de" stroke-width="1.0"/>
<path d="M655.17,702.62 L657.62,706.89 L652.72,706.89 Z" fill="#fff" stroke="#5aa8de" stroke-width="1.0"/>
<path d="M661.50,692.75 L663.95,697.02 L659.05,697.02 Z" fill="#fff" stroke="#5aa8de" stroke-width="1.0"/>
<path d="M667.32,688.15 L669.77,692.41 L664.87,692.41 Z" fill="#fff" stroke="#5aa8de" stroke-width="1.0"/>
<path d="M442.4,740.8 451.5,740.8 455.0,714.5 458.3,703.4 466.7,709.2 475.3,713.2 483.4,717.6 491.7,719.0 499.6,719.7 515.5,720.7 531.2,721.2 586.1,722.1 641.0,722.4 648.8,722.2 655.2,721.7 661.5,717.6" stroke="#76c043" stroke-width="1.2" fill="none" stroke-linejoin="round" stroke-linecap="round" />
<path d="M458.34,700.78 L460.79,705.05 L455.89,705.05 Z" fill="#fff" stroke="#76c043" stroke-width="1.0"/>
<path d="M466.69,706.57 L469.14,710.84 L464.24,710.84 Z" fill="#fff" stroke="#76c043" stroke-width="1.0"/>
<path d="M475.29,710.52 L477.74,714.78 L472.84,714.78 Z" fill="#fff" stroke="#76c043" stroke-width="1.0"/>
<path d="M483.39,715.00 L485.84,719.26 L480.94,719.26 Z" fill="#fff" stroke="#76c043" stroke-width="1.0"/>
<path d="M491.73,716.31 L494.18,720.57 L489.28,720.57 Z" fill="#fff" stroke="#76c043" stroke-width="1.0"/>
<path d="M499.58,717.10 L502.03,721.36 L497.13,721.36 Z" fill="#fff" stroke="#76c043" stroke-width="1.0"/>
<path d="M507.67,717.63 L510.12,721.89 L505.22,721.89 Z" fill="#fff" stroke="#76c043" stroke-width="1.0"/>
<path d="M515.52,718.02 L517.97,722.29 L513.07,722.29 Z" fill="#fff" stroke="#76c043" stroke-width="1.0"/>
<path d="M523.36,718.29 L525.81,722.55 L520.91,722.55 Z" fill="#fff" stroke="#76c043" stroke-width="1.0"/>
<path d="M531.20,718.55 L533.65,722.81 L528.75,722.81 Z" fill="#fff" stroke="#76c043" stroke-width="1.0"/>
<path d="M539.05,718.68 L541.50,722.94 L536.60,722.94 Z" fill="#fff" stroke="#76c043" stroke-width="1.0"/>
<path d="M546.89,718.81 L549.34,723.07 L544.44,723.07 Z" fill="#fff" stroke="#76c043" stroke-width="1.0"/>
<path d="M554.73,718.94 L557.18,723.21 L552.28,723.21 Z" fill="#fff" stroke="#76c043" stroke-width="1.0"/>
<path d="M562.57,719.07 L565.02,723.34 L560.12,723.34 Z" fill="#fff" stroke="#76c043" stroke-width="1.0"/>
<path d="M570.42,719.21 L572.87,723.47 L567.97,723.47 Z" fill="#fff" stroke="#76c043" stroke-width="1.0"/>
<path d="M578.26,719.34 L580.71,723.60 L575.81,723.60 Z" fill="#fff" stroke="#76c043" stroke-width="1.0"/>
<path d="M586.10,719.47 L588.55,723.73 L583.65,723.73 Z" fill="#fff" stroke="#76c043" stroke-width="1.0"/>
<path d="M593.95,719.47 L596.40,723.73 L591.50,723.73 Z" fill="#fff" stroke="#76c043" stroke-width="1.0"/>
<path d="M601.79,719.60 L604.24,723.86 L599.34,723.86 Z" fill="#fff" stroke="#76c043" stroke-width="1.0"/>
<path d="M609.63,719.60 L612.08,723.86 L607.18,723.86 Z" fill="#fff" stroke="#76c043" stroke-width="1.0"/>
<path d="M617.48,719.73 L619.93,724.00 L615.03,724.00 Z" fill="#fff" stroke="#76c043" stroke-width="1.0"/>
<path d="M625.32,719.73 L627.77,724.00 L622.87,724.00 Z" fill="#fff" stroke="#76c043" stroke-width="1.0"/>
<path d="M633.16,719.73 L635.61,724.00 L630.71,724.00 Z" fill="#fff" stroke="#76c043" stroke-width="1.0"/>
<path d="M641.00,719.73 L643.46,724.00 L638.55,724.00 Z" fill="#fff" stroke="#76c043" stroke-width="1.0"/>
<path d="M648.85,719.60 L651.30,723.86 L646.40,723.86 Z" fill="#fff" stroke="#76c043" stroke-width="1.0"/>
<path d="M655.17,719.07 L657.62,723.34 L652.72,723.34 Z" fill="#fff" stroke="#76c043" stroke-width="1.0"/>
<path d="M661.50,715.00 L663.95,719.26 L659.05,719.26 Z" fill="#fff" stroke="#76c043" stroke-width="1.0"/>
<line x1="437.20" y1="675.00" x2="437.20" y2="740.70" stroke="#161616" stroke-width="1.3" />
<line x1="435.00" y1="675.00" x2="439.40" y2="675.00" stroke="#161616" stroke-width="1.3" />
<line x1="435.00" y1="740.70" x2="439.40" y2="740.70" stroke="#161616" stroke-width="1.3" />
<text transform="translate(432.50,708.20) rotate(-90) translate(-20.15,0) scale(1.0561,1)" font-weight="bold" font-style="normal" fill="#161616"  stroke="#161616" stroke-width="0.28"><tspan dy="-0.00" font-size="10.90">50 ppm</tspan></text>
<line x1="490.40" y1="651.50" x2="490.40" y2="718.50" stroke="#161616" stroke-width="1.3" />
<line x1="488.20" y1="651.50" x2="492.60" y2="651.50" stroke="#161616" stroke-width="1.3" />
<line x1="488.20" y1="718.50" x2="492.60" y2="718.50" stroke="#161616" stroke-width="1.3" />
<line x1="606.00" y1="656.60" x2="606.00" y2="722.60" stroke="#161616" stroke-width="1.3" />
<line x1="603.80" y1="656.60" x2="608.20" y2="656.60" stroke="#161616" stroke-width="1.3" />
<line x1="603.80" y1="722.60" x2="608.20" y2="722.60" stroke="#161616" stroke-width="1.3" />
<text transform="translate(509.30,690.80) translate(0.00,0) scale(1.0114,1)" font-weight="bold" font-style="normal" fill="#161616"  stroke="#161616" stroke-width="0.28"><tspan dy="-0.00" font-size="11.20">ΔNO = 50 ppm</tspan></text>
</svg>
</body></html>
